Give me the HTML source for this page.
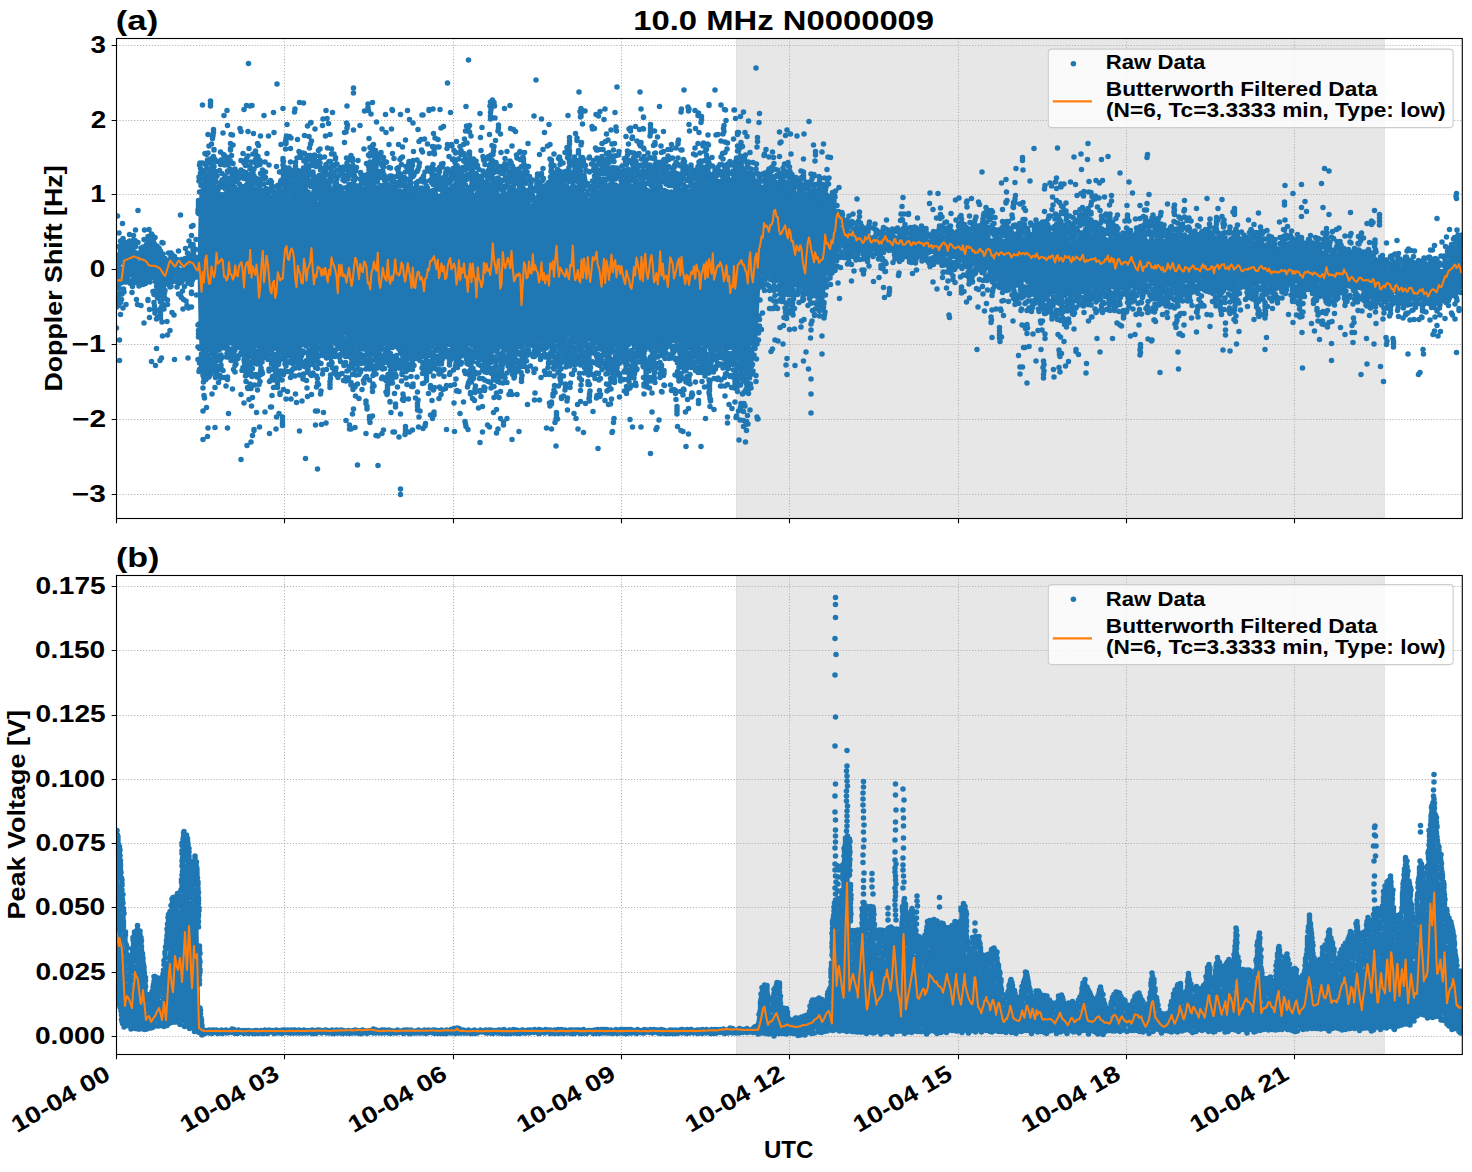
<!DOCTYPE html>
<html><head><meta charset="utf-8"><style>html,body{margin:0;padding:0;background:#fff;width:1472px;height:1172px;overflow:hidden}</style></head>
<body>
<svg width="1472" height="1172" viewBox="0 0 1472 1172" style="display:block">
<rect width="1472" height="1172" fill="#fff"/>
<defs><clipPath id="clipT"><rect x="116.5" y="38.5" width="1345.80" height="480.0"/></clipPath><clipPath id="clipB"><rect x="116.5" y="575.5" width="1345.80" height="479.0"/></clipPath></defs>
<g font-family='"Liberation Sans", sans-serif' font-weight="bold" fill="#000">
<text x="633.17" y="29.80" font-size="28.00" textLength="300.97" lengthAdjust="spacingAndGlyphs" >10.0 MHz N0000009</text>
<text x="115.82" y="30.00" font-size="28.00" textLength="42.38" lengthAdjust="spacingAndGlyphs" >(a)</text>
<text x="115.97" y="567.00" font-size="28.00" textLength="43.47" lengthAdjust="spacingAndGlyphs" >(b)</text>
<rect x="736" y="38.5" width="648.7" height="480.0" fill="#e7e7e7"/><path d="M736.5 38.5V518.5M1384.2 38.5V518.5" stroke="#e0e0e0" stroke-width="1"/>
<path d="M116.50 38.5V518.5M284.50 38.5V518.5M453.50 38.5V518.5M621.50 38.5V518.5M789.50 38.5V518.5M958.50 38.5V518.5M1126.50 38.5V518.5M1294.50 38.5V518.5M116.5 45.50H1462.3M116.5 120.50H1462.3M116.5 194.50H1462.3M116.5 269.50H1462.3M116.5 344.50H1462.3M116.5 419.50H1462.3M116.5 494.50H1462.3" stroke="#b0b0b0" stroke-width="1.11" stroke-dasharray="1.11 1.83" fill="none"/>
<g clip-path="url(#clipT)"><path d="M116 273.5 116.5 273.5 117.5 272.9 118.5 272.2 119.5 271.2 120.5 270.1 121.5 269.2 122.5 265.4 123.5 261.5 124.5 261.1 125.5 261 126.5 261.2 127.5 261.5 128.5 261.9 129.5 262.2 130.5 262.4 131.5 262.5 132.5 262.3 133.5 262 134.5 261.7 135.5 261.7 136.5 261.9 137.5 261.8 138.5 262.2 139.5 262.4 140.5 262.7 141.5 262.5 142.5 262.1 143.5 261.6 144.5 260.9 145.5 259.1 146.5 256.1 147.5 253.1 148.5 250.2 149.5 247.6 150.5 247.3 151.5 249 152.5 250.7 153.5 252 154.5 253.6 155.5 255.2 156.5 256.3 157.5 257.1 158.5 258 159.5 259 160.5 260 161.5 261 162.5 262 163.5 263.1 164.5 263.9 165.5 264.7 166.5 265.3 167.5 265.6 168.5 265.6 169.5 265.4 170.5 265.1 171.5 265.1 172.5 265.3 173.5 265.7 174.5 266.2 175.5 266.9 176.5 267.3 177.5 267.9 178.5 267.9 179.5 268.1 180.5 268 181.5 267.7 182.5 267.3 183.5 266.8 184.5 266.2 185.5 265.8 186.5 265.5 187.5 265.3 188.5 265.1 189.5 265.2 190.5 265.5 191.5 266 192.5 266.2 193.5 266.5 194.5 266.7 195.5 267 196.5 267.3 197.5 267.4 198.5 217.5 199.5 191.3 200.5 190.9 201.5 190.1 202.5 188.9 203.5 187.7 204.5 186.6 205.5 186.1 206.5 185.6 207.5 185.2 208.5 184.6 209.5 184.5 210.5 184.8 211.5 185.4 212.5 186.8 213.5 188.5 214.5 189.9 215.5 191.4 216.5 192.2 217.5 192.8 218.5 192.4 219.5 192 220.5 192 221.5 192.1 222.5 192.8 223.5 193.4 224.5 194.2 225.5 194.3 226.5 194.6 227.5 194.6 228.5 194.5 229.5 194.9 230.5 194.4 231.5 194.5 232.5 194.3 233.5 193.9 234.5 193 235.5 191.6 236.5 189.7 237.5 188 238.5 186.3 239.5 185.1 240.5 184.7 241.5 184.6 242.5 185.3 243.5 186.4 244.5 187.6 245.5 188.8 246.5 189.2 247.5 189.7 248.5 189.8 249.5 190.1 250.5 189.8 251.5 189.5 252.5 189 253.5 188.9 254.5 188.6 255.5 188.2 256.5 188.3 257.5 188.4 258.5 188.8 259.5 189.6 260.5 190.5 261.5 191.3 262.5 191.6 263.5 192.5 264.5 192.8 265.5 193 266.5 193.2 267.5 193 268.5 193 269.5 193.2 270.5 193.5 271.5 194.6 272.5 195.8 273.5 196.4 274.5 197 275.5 197.1 276.5 196.1 277.5 194.8 278.5 192.6 279.5 190.8 280.5 189.7 281.5 189.5 282.5 190.2 283.5 192.2 284.5 194.4 285.5 196.7 286.5 198.3 287.5 199.3 288.5 199.2 289.5 198.3 290.5 196.8 291.5 195.1 292.5 193.3 293.5 191.8 294.5 190.5 295.5 189.8 296.5 188.5 297.5 187.4 298.5 186.8 299.5 186.6 300.5 186.2 301.5 186.5 302.5 186.9 303.5 187 304.5 187.4 305.5 187.8 306.5 188.4 307.5 189.2 308.5 189.6 309.5 190.4 310.5 191.6 311.5 192.2 312.5 192.4 313.5 193.6 314.5 194.4 315.5 196 316.5 198.5 317.5 201.2 318.5 203.5 319.5 205.3 320.5 205.5 321.5 204.9 322.5 202.7 323.5 199.7 324.5 197.3 325.5 194.5 326.5 192.4 327.5 191.2 328.5 190.3 329.5 190 330.5 189.6 331.5 189 332.5 188.1 333.5 187.8 334.5 187.3 335.5 187.2 336.5 187.1 337.5 186.7 338.5 187.9 339.5 188.7 340.5 189.5 341.5 190.4 342.5 190.8 343.5 191.4 344.5 191.4 345.5 190.8 346.5 190 347.5 189.7 348.5 189.1 349.5 189.1 350.5 189.2 351.5 188.7 352.5 189 353.5 189.5 354.5 189 355.5 189.4 356.5 190.3 357.5 191.9 358.5 193.1 359.5 194.3 360.5 195.5 361.5 196.2 362.5 196.2 363.5 195.7 364.5 194.7 365.5 193.3 366.5 191.5 367.5 190 368.5 187.8 369.5 184.9 370.5 182.8 371.5 180.9 372.5 179.5 373.5 179 374.5 180.4 375.5 181.7 376.5 183.8 377.5 186.2 378.5 187.7 379.5 189.6 380.5 190.5 381.5 190.7 382.5 190.9 383.5 190.2 384.5 190.2 385.5 190 386.5 190.2 387.5 190.1 388.5 191.5 389.5 191.9 390.5 192.7 391.5 193.6 392.5 193.7 393.5 193.2 394.5 192.5 395.5 191.4 396.5 190.3 397.5 189.6 398.5 189 399.5 188.3 400.5 188.8 401.5 188.9 402.5 190.2 403.5 191.4 404.5 192.3 405.5 193.1 406.5 194 407.5 194.3 408.5 194.3 409.5 194 410.5 193.7 411.5 193.5 412.5 193.9 413.5 194 414.5 194.1 415.5 194.4 416.5 194.5 417.5 195 418.5 195.6 419.5 196.1 420.5 197.1 421.5 198.1 422.5 199 423.5 199 424.5 198.8 425.5 197.9 426.5 196.6 427.5 195.8 428.5 194.4 429.5 193.3 430.5 193 431.5 192.7 432.5 192.9 433.5 193.1 434.5 193.6 435.5 193.8 436.5 194.2 437.5 194.2 438.5 194 439.5 193.4 440.5 191.9 441.5 191 442.5 190.3 443.5 189.2 444.5 188.4 445.5 187.9 446.5 187.6 447.5 187.3 448.5 187.2 449.5 187.1 450.5 186.9 451.5 186.2 452.5 185.5 453.5 184.7 454.5 183.7 455.5 183.1 456.5 183.4 457.5 184.3 458.5 186 459.5 187.9 460.5 190.1 461.5 191.5 462.5 192.1 463.5 191.8 464.5 191.1 465.5 190.5 466.5 190 467.5 190.2 468.5 191 469.5 192.1 470.5 193.5 471.5 194.5 472.5 195.1 473.5 194.7 474.5 194 475.5 193.1 476.5 192.7 477.5 192.4 478.5 193 479.5 194.1 480.5 195.9 481.5 197.8 482.5 200.1 483.5 201.2 484.5 201.4 485.5 200.7 486.5 198.8 487.5 196.1 488.5 192.7 489.5 189.1 490.5 186 491.5 184 492.5 183.9 493.5 184.6 494.5 186.4 495.5 188.7 496.5 190.9 497.5 192.8 498.5 193.7 499.5 193.9 500.5 193.1 501.5 193 502.5 192.7 503.5 192.9 504.5 192.3 505.5 191.9 506.5 191.6 507.5 191 508.5 190 509.5 189.5 510.5 188.2 511.5 187.5 512.5 187.4 513.5 187.8 514.5 187.9 515.5 188.2 516.5 188.1 517.5 189 518.5 189.3 519.5 189.1 520.5 189.4 521.5 189.8 522.5 190.5 523.5 191.8 524.5 193.7 525.5 195.9 526.5 197.9 527.5 200 528.5 202.1 529.5 203.8 530.5 203.9 531.5 203.9 532.5 203.6 533.5 201.7 534.5 199.7 535.5 196.7 536.5 193.7 537.5 190.3 538.5 187.6 539.5 185.8 540.5 185.3 541.5 185.7 542.5 186.8 543.5 188.8 544.5 190.1 545.5 190.5 546.5 189.9 547.5 188.6 548.5 186.8 549.5 185.2 550.5 183.9 551.5 183 552.5 182.9 553.5 182.7 554.5 183.4 555.5 184.3 556.5 184.5 557.5 185 558.5 185.4 559.5 186 560.5 186.4 561.5 186.6 562.5 186.2 563.5 185.5 564.5 185.4 565.5 185.1 566.5 184.9 567.5 185.3 568.5 185.9 569.5 187.2 570.5 188.4 571.5 189.7 572.5 190.6 573.5 190.9 574.5 191.2 575.5 190.5 576.5 189.4 577.5 187.8 578.5 186.7 579.5 185.6 580.5 185.2 581.5 185.8 582.5 188.3 583.5 191.4 584.5 194.7 585.5 197.8 586.5 199.6 587.5 200.3 588.5 199.5 589.5 197 590.5 193 591.5 188.8 592.5 186 593.5 183.9 594.5 183.2 595.5 183.8 596.5 185.8 597.5 188.5 598.5 191.7 599.5 194.4 600.5 195.6 601.5 196.3 602.5 195.9 603.5 194.4 604.5 192.9 605.5 191.2 606.5 189.5 607.5 188.8 608.5 188.2 609.5 188.5 610.5 188.9 611.5 188.7 612.5 188.4 613.5 187.7 614.5 186.7 615.5 185.8 616.5 185.3 617.5 184.6 618.5 184.3 619.5 185.2 620.5 185.7 621.5 186.2 622.5 186.7 623.5 187.5 624.5 187.9 625.5 188.3 626.5 188.6 627.5 188.6 628.5 188.4 629.5 187.6 630.5 186.6 631.5 185.5 632.5 184.1 633.5 182.7 634.5 182 635.5 181.1 636.5 180.9 637.5 181.4 638.5 181.6 639.5 182.1 640.5 182 641.5 182 642.5 182.4 643.5 182.7 644.5 183.4 645.5 184.2 646.5 185.7 647.5 187.4 648.5 188.5 649.5 189 650.5 189.5 651.5 189.2 652.5 188.6 653.5 187.9 654.5 187.4 655.5 187 656.5 187.6 657.5 188.3 658.5 189.6 659.5 190.5 660.5 191.2 661.5 192.2 662.5 192.5 663.5 192 664.5 191.4 665.5 191.2 666.5 191.4 667.5 191.8 668.5 193.2 669.5 194.5 670.5 195.4 671.5 195.7 672.5 194.6 673.5 192.4 674.5 189.3 675.5 186.4 676.5 184.1 677.5 183 678.5 183.4 679.5 184.7 680.5 186.9 681.5 188.7 682.5 189.5 683.5 190.2 684.5 189.9 685.5 189.5 686.5 189.2 687.5 189.9 688.5 190.8 689.5 192.4 690.5 194 691.5 194.9 692.5 196.1 693.5 195.6 694.5 194.5 695.5 193.1 696.5 191.2 697.5 189.7 698.5 189.1 699.5 188.6 700.5 188.5 701.5 188.9 702.5 189.1 703.5 189.2 704.5 189.1 705.5 188 706.5 187.7 707.5 187.6 708.5 188.2 709.5 189.6 710.5 191.1 711.5 192.4 712.5 193.2 713.5 193.6 714.5 193.2 715.5 191.8 716.5 190.2 717.5 188.5 718.5 188.5 719.5 188.5 720.5 189.1 721.5 190.4 722.5 191.5 723.5 192.8 724.5 193.5 725.5 193.9 726.5 193.8 727.5 193.8 728.5 194.3 729.5 194.7 730.5 195.4 731.5 195.4 732.5 195.7 733.5 195.4 734.5 193.7 735.5 192.1 736.5 190.3 737.5 188.8 738.5 187.4 739.5 185.8 740.5 185 741.5 183.9 742.5 182.8 743.5 181.5 744.5 180.1 745.5 179.5 746.5 179 747.5 179.1 748.5 179.1 749.5 179.7 750.5 179.6 751.5 179.5 752.5 178.9 753.5 177.8 754.5 177.6 755.5 178.3 756.5 179.6 757.5 181.1 758.5 183.1 759.5 185.3 760.5 187.1 761.5 188.2 762.5 189.1 763.5 189.5 764.5 188.8 765.5 187.7 766.5 186.3 767.5 184.6 768.5 183 769.5 181.9 770.5 181 771.5 180.3 772.5 179.9 773.5 180.4 774.5 181.4 775.5 181.9 776.5 182.6 777.5 183.1 778.5 182.9 779.5 182.2 780.5 181.2 781.5 180.5 782.5 180.1 783.5 180.6 784.5 181.9 785.5 184.5 786.5 186.9 787.5 189.5 788.5 191.6 789.5 192.4 790.5 192.1 791.5 191.3 792.5 190.4 793.5 190 794.5 189.5 795.5 190.2 796.5 190.9 797.5 192.2 798.5 193.7 799.5 194.6 800.5 195.2 801.5 195.5 802.5 195.6 803.5 195.5 804.5 195.3 805.5 195.2 806.5 195 807.5 194.7 808.5 193.9 809.5 193.8 810.5 192.6 811.5 192.1 812.5 191.1 813.5 191 814.5 191.7 815.5 192.6 816.5 194.2 817.5 196.3 818.5 197.8 819.5 199.7 820.5 201.1 821.5 202.2 822.5 202.7 823.5 203.5 824.5 203.6 825.5 203.5 826.5 202 827.5 201.4 828.5 200.9 829.5 200.5 830.5 200.2 831.5 200.7 832.5 201.3 833.5 202.5 834.5 203.9 835.5 205.1 836.5 208.5 837.5 213.8 838.5 219.6 839.5 225.3 840.5 228.1 841.5 228.5 842.5 229.2 843.5 230 844.5 230.8 845.5 231.6 846.5 232.1 847.5 232.2 848.5 232 849.5 231.4 850.5 230.9 851.5 230.2 852.5 229.9 853.5 229.7 854.5 229.6 855.5 229.3 856.5 229.1 857.5 229 858.5 228.7 859.5 228.9 860.5 229.3 861.5 230 862.5 231.1 863.5 232.3 864.5 233.4 865.5 234.2 866.5 235 867.5 235.3 868.5 235.6 869.5 235.8 870.5 236 871.5 236.6 872.5 236.7 873.5 237.1 874.5 237.4 875.5 237.6 876.5 237.7 877.5 238 878.5 238.2 879.5 238.1 880.5 238 881.5 237.6 882.5 237.1 883.5 236.5 884.5 235.9 885.5 235.3 886.5 234.9 887.5 234.8 888.5 235.1 889.5 235.4 890.5 235.8 891.5 236.4 892.5 237.1 893.5 237.5 894.5 237.8 895.5 237.9 896.5 237.7 897.5 237.2 898.5 236.7 899.5 236.1 900.5 235.6 901.5 235.4 902.5 235.3 903.5 235.5 904.5 235.9 905.5 236.3 906.5 236.8 907.5 237.1 908.5 237.2 909.5 237.1 910.5 237 911.5 236.7 912.5 236.5 913.5 236.2 914.5 236.1 915.5 236.1 916.5 236.3 917.5 236.5 918.5 236.9 919.5 237.1 920.5 237.4 921.5 237.8 922.5 238 923.5 238.2 924.5 238.3 925.5 238.4 926.5 238.9 927.5 239.3 928.5 239.7 929.5 240.1 930.5 240.6 931.5 240.9 932.5 241.1 933.5 240.9 934.5 240.4 935.5 239.8 936.5 238.9 937.5 237.8 938.5 236.7 939.5 235.7 940.5 235.2 941.5 234.8 942.5 234.8 943.5 235.1 944.5 235.8 945.5 236.5 946.5 236.9 947.5 237.2 948.5 237.2 949.5 237 950.5 236.8 951.5 236.8 952.5 236.8 953.5 236.9 954.5 237.1 955.5 237.1 956.5 236.9 957.5 236.5 958.5 236 959.5 235.4 960.5 234.8 961.5 234.5 962.5 234.4 963.5 234.4 964.5 234.3 965.5 234.1 966.5 234 967.5 234 968.5 234 969.5 234 970.5 234.1 971.5 234.3 972.5 234.6 973.5 235.1 974.5 235.1 975.5 235.2 976.5 235.1 977.5 234.9 978.5 234.6 979.5 233.9 980.5 233 981.5 232.4 982.5 231.9 983.5 232 984.5 232.8 985.5 233.6 986.5 234.5 987.5 235.8 988.5 236.8 989.5 237.7 990.5 238.3 991.5 238.4 992.5 238.4 993.5 238.8 994.5 238.9 995.5 239 996.5 239.1 997.5 239.1 998.5 239.6 999.5 240.1 1000.5 240.3 1001.5 240.6 1002.5 240.7 1003.5 240.4 1004.5 240 1005.5 239 1006.5 237.7 1007.5 236.7 1008.5 235.8 1009.5 235.1 1010.5 234.4 1011.5 234.2 1012.5 234.2 1013.5 234.7 1014.5 234.9 1015.5 235.2 1016.5 235.9 1017.5 236.8 1018.5 237.6 1019.5 238.3 1020.5 238.6 1021.5 238.8 1022.5 238.6 1023.5 238.4 1024.5 238 1025.5 237.2 1026.5 236.4 1027.5 235.8 1028.5 235.3 1029.5 234.5 1030.5 233.6 1031.5 233.1 1032.5 232.9 1033.5 232.6 1034.5 232.6 1035.5 233.4 1036.5 233.9 1037.5 234.1 1038.5 234.6 1039.5 234.2 1040.5 233.4 1041.5 232.2 1042.5 231.3 1043.5 230.4 1044.5 229.7 1045.5 229.7 1046.5 230.4 1047.5 231.2 1048.5 232.2 1049.5 233.3 1050.5 234.2 1051.5 234.5 1052.5 234.7 1053.5 234.5 1054.5 233.7 1055.5 232.9 1056.5 232.1 1057.5 232 1058.5 232 1059.5 232.7 1060.5 233.7 1061.5 234.7 1062.5 236.2 1063.5 237.6 1064.5 238.7 1065.5 239.7 1066.5 240.4 1067.5 241 1068.5 241.3 1069.5 241.9 1070.5 241.7 1071.5 241.9 1072.5 241.7 1073.5 241.2 1074.5 240.7 1075.5 239.7 1076.5 238.8 1077.5 237.6 1078.5 236.2 1079.5 234.8 1080.5 233.5 1081.5 232 1082.5 230.2 1083.5 229 1084.5 227.6 1085.5 227 1086.5 226.9 1087.5 227.5 1088.5 228.8 1089.5 230.1 1090.5 231.9 1091.5 233.4 1092.5 234.6 1093.5 235.4 1094.5 236.3 1095.5 236.6 1096.5 236.5 1097.5 236.1 1098.5 235.2 1099.5 234.1 1100.5 233.2 1101.5 232.5 1102.5 232.4 1103.5 232.7 1104.5 234.1 1105.5 236 1106.5 237.8 1107.5 239.2 1108.5 240.6 1109.5 241.2 1110.5 241.6 1111.5 241.6 1112.5 241.6 1113.5 241.2 1114.5 241.4 1115.5 241.8 1116.5 242.4 1117.5 242.5 1118.5 243.1 1119.5 243.6 1120.5 243.7 1121.5 243.5 1122.5 242.9 1123.5 242.1 1124.5 241.1 1125.5 239.7 1126.5 238.7 1127.5 238.1 1128.5 238.3 1129.5 238.7 1130.5 239.9 1131.5 241.1 1132.5 242.4 1133.5 243.2 1134.5 243.3 1135.5 242.4 1136.5 241 1137.5 239.4 1138.5 237.8 1139.5 236.8 1140.5 235.7 1141.5 235.2 1142.5 235.4 1143.5 235.9 1144.5 236.6 1145.5 236.9 1146.5 237.8 1147.5 238.5 1148.5 239.6 1149.5 240.5 1150.5 241.3 1151.5 241.5 1152.5 241.5 1153.5 241.7 1154.5 241.5 1155.5 241.2 1156.5 241.1 1157.5 241 1158.5 241.1 1159.5 240.8 1160.5 240.4 1161.5 240.1 1162.5 239.5 1163.5 239 1164.5 239 1165.5 238.3 1166.5 238.2 1167.5 237.9 1168.5 237.2 1169.5 236.1 1170.5 234.7 1171.5 233.7 1172.5 232.7 1173.5 232.1 1174.5 232 1175.5 232.7 1176.5 233.8 1177.5 234.7 1178.5 236.2 1179.5 236.7 1180.5 237.1 1181.5 236.9 1182.5 236.8 1183.5 236.7 1184.5 236.2 1185.5 236.3 1186.5 236.6 1187.5 237.4 1188.5 238.3 1189.5 239.2 1190.5 240.2 1191.5 240.9 1192.5 241.6 1193.5 242.2 1194.5 242.3 1195.5 241.9 1196.5 241.4 1197.5 240.7 1198.5 240.2 1199.5 239.7 1200.5 239.3 1201.5 239 1202.5 239.1 1203.5 239 1204.5 238.9 1205.5 238.3 1206.5 238.2 1207.5 238.1 1208.5 238.3 1209.5 238.3 1210.5 238.8 1211.5 239.1 1212.5 239.3 1213.5 239.7 1214.5 239.9 1215.5 239.7 1216.5 239.9 1217.5 240.2 1218.5 241.1 1219.5 241.6 1220.5 242.7 1221.5 243.5 1222.5 244.4 1223.5 245.1 1224.5 246 1225.5 246.6 1226.5 247 1227.5 247.2 1228.5 247.5 1229.5 247.2 1230.5 246.8 1231.5 245.9 1232.5 244.9 1233.5 243.7 1234.5 242.8 1235.5 242.1 1236.5 241.8 1237.5 242 1238.5 242.5 1239.5 243.5 1240.5 244.8 1241.5 245.4 1242.5 246.1 1243.5 246.4 1244.5 246.4 1245.5 246.3 1246.5 246 1247.5 245.7 1248.5 245.5 1249.5 245.2 1250.5 244.9 1251.5 244.4 1252.5 243.9 1253.5 243 1254.5 242.2 1255.5 241 1256.5 240 1257.5 239.1 1258.5 238.5 1259.5 238.2 1260.5 238.2 1261.5 239 1262.5 240.4 1263.5 242.2 1264.5 243.9 1265.5 245.5 1266.5 246.5 1267.5 246.7 1268.5 246.4 1269.5 245.9 1270.5 245.6 1271.5 245.4 1272.5 246 1273.5 247.3 1274.5 248.7 1275.5 250.2 1276.5 251.3 1277.5 252 1278.5 251.5 1279.5 250.9 1280.5 249.6 1281.5 248 1282.5 246.2 1283.5 244.5 1284.5 243.2 1285.5 242.4 1286.5 242.1 1287.5 242.1 1288.5 242.6 1289.5 243.6 1290.5 244.4 1291.5 245.1 1292.5 245.5 1293.5 245.6 1294.5 245.4 1295.5 245.2 1296.5 245 1297.5 244.8 1298.5 244.3 1299.5 244.1 1300.5 244.1 1301.5 244.3 1302.5 244.6 1303.5 245.5 1304.5 246.6 1305.5 247.7 1306.5 249.1 1307.5 250.2 1308.5 251.1 1309.5 251.6 1310.5 251.7 1311.5 251.6 1312.5 250.9 1313.5 250.6 1314.5 250 1315.5 249.4 1316.5 248.8 1317.5 248.6 1318.5 248.7 1319.5 249 1320.5 249.4 1321.5 250.1 1322.5 250.8 1323.5 251.9 1324.5 252.6 1325.5 253.4 1326.5 253.7 1327.5 254.4 1328.5 254.7 1329.5 255 1330.5 255.2 1331.5 255.4 1332.5 255.5 1333.5 256 1334.5 256.3 1335.5 256.6 1336.5 256.7 1337.5 257.6 1338.5 257.8 1339.5 258.2 1340.5 258.8 1341.5 259.2 1342.5 259.9 1343.5 260.7 1344.5 261.4 1345.5 261.8 1346.5 261.8 1347.5 261.6 1348.5 261 1349.5 259.8 1350.5 258.3 1351.5 257.1 1352.5 255.9 1353.5 254.9 1354.5 254.6 1355.5 254.7 1356.5 254.7 1357.5 255.3 1358.5 256.2 1359.5 256.8 1360.5 257.8 1361.5 258.7 1362.5 259.6 1363.5 260.4 1364.5 261.3 1365.5 261.9 1366.5 262.5 1367.5 262.7 1368.5 262.7 1369.5 262.7 1370.5 262.4 1371.5 261.9 1372.5 261.4 1373.5 260.9 1374.5 260.7 1375.5 261 1376.5 261.3 1377.5 261.9 1378.5 263 1379.5 264 1380.5 265.1 1381.5 265.9 1382.5 266.7 1383.5 267.3 1384.5 267.9 1385.5 268.2 1386.5 268.3 1387.5 268.2 1388.5 267.9 1389.5 267.4 1390.5 266.5 1391.5 265.7 1392.5 264.8 1393.5 263.5 1394.5 262.5 1395.5 261.9 1396.5 261.6 1397.5 261.9 1398.5 262.7 1399.5 264 1400.5 265.5 1401.5 267 1402.5 268.2 1403.5 268.9 1404.5 268.9 1405.5 269 1406.5 268.8 1407.5 268.3 1408.5 267.9 1409.5 267.7 1410.5 267.4 1411.5 267.1 1412.5 267.1 1413.5 267 1414.5 267.2 1415.5 267.6 1416.5 268.4 1417.5 269.3 1418.5 270.1 1419.5 270.7 1420.5 271 1421.5 270.8 1422.5 270.3 1423.5 269.3 1424.5 268.2 1425.5 267.2 1426.5 266.5 1427.5 266.5 1428.5 266.8 1429.5 267.1 1430.5 267.5 1431.5 267.8 1432.5 267.7 1433.5 267.4 1434.5 267.1 1435.5 267.1 1436.5 267.3 1437.5 268.2 1438.5 269.4 1439.5 270.8 1440.5 271.3 1441.5 270.5 1442.5 269.4 1443.5 267.6 1444.5 265.4 1445.5 263.2 1446.5 261 1447.5 259.2 1448.5 258 1449.5 256.9 1450.5 255.5 1451.5 254.5 1452.5 252.8 1453.5 250.8 1454.5 248.3 1455.5 246.2 1456.5 245 1457.5 244.2 1458.5 243.7 1459.5 243.3 1460.5 243.3 1461.5 243.5 1462 243.5 1462 285.6 1461.5 285.6 1460.5 286.5 1459.5 287 1458.5 287.8 1457.5 288.6 1456.5 289.4 1455.5 290 1454.5 290.8 1453.5 292 1452.5 292.7 1451.5 293.1 1450.5 293.4 1449.5 293.8 1448.5 294 1447.5 294.3 1446.5 294.8 1445.5 295.1 1444.5 295.4 1443.5 296 1442.5 296.9 1441.5 297.9 1440.5 299 1439.5 299.8 1438.5 300.1 1437.5 300.3 1436.5 300.5 1435.5 300.3 1434.5 299.9 1433.5 299.2 1432.5 298.4 1431.5 297.3 1430.5 296.3 1429.5 295.5 1428.5 294.8 1427.5 294.7 1426.5 295 1425.5 295.5 1424.5 296.3 1423.5 296.9 1422.5 297.5 1421.5 297.5 1420.5 297.6 1419.5 297.2 1418.5 296.7 1417.5 296.2 1416.5 295.8 1415.5 295.8 1414.5 295.6 1413.5 295.8 1412.5 296.1 1411.5 296.5 1410.5 297.1 1409.5 297.6 1408.5 298.1 1407.5 298.6 1406.5 299 1405.5 299.2 1404.5 299 1403.5 298.5 1402.5 297.5 1401.5 296.4 1400.5 294.9 1399.5 293.7 1398.5 292.8 1397.5 292.4 1396.5 292.3 1395.5 293 1394.5 293.8 1393.5 294.9 1392.5 296.3 1391.5 297.3 1390.5 298.2 1389.5 298.9 1388.5 299.4 1387.5 299.6 1386.5 299.4 1385.5 298.9 1384.5 298.4 1383.5 297.8 1382.5 297 1381.5 296.8 1380.5 296.6 1379.5 296.6 1378.5 296.9 1377.5 297.4 1376.5 297.8 1375.5 298.2 1374.5 298.3 1373.5 298.4 1372.5 298.1 1371.5 297.5 1370.5 296.9 1369.5 296 1368.5 295 1367.5 294.5 1366.5 294 1365.5 293.4 1364.5 292.9 1363.5 292.5 1362.5 292.1 1361.5 291.4 1360.5 290.4 1359.5 289.4 1358.5 288.3 1357.5 287.5 1356.5 287.1 1355.5 286.9 1354.5 286.9 1353.5 286.9 1352.5 287.5 1351.5 287.8 1350.5 287.9 1349.5 287.9 1348.5 288.2 1347.5 288.3 1346.5 288.4 1345.5 288.8 1344.5 288.8 1343.5 288.5 1342.5 288.4 1341.5 288.2 1340.5 288 1339.5 287.8 1338.5 288.1 1337.5 288.8 1336.5 289.8 1335.5 290.7 1334.5 291.8 1333.5 292.5 1332.5 293.3 1331.5 293.7 1330.5 293.7 1329.5 293.2 1328.5 292.4 1327.5 291.5 1326.5 290.3 1325.5 289.1 1324.5 287.8 1323.5 286.9 1322.5 286.1 1321.5 285.6 1320.5 285.3 1319.5 284.6 1318.5 284.1 1317.5 283.7 1316.5 283.4 1315.5 283.2 1314.5 282.9 1313.5 282.9 1312.5 282.8 1311.5 282.8 1310.5 282.8 1309.5 282.5 1308.5 282 1307.5 282.2 1306.5 282.5 1305.5 282.9 1304.5 283 1303.5 283.3 1302.5 283.9 1301.5 284.3 1300.5 284.4 1299.5 284.6 1298.5 284.5 1297.5 284.2 1296.5 283.8 1295.5 283.3 1294.5 282.4 1293.5 281.8 1292.5 281.5 1291.5 281.6 1290.5 281.8 1289.5 281.8 1288.5 282.2 1287.5 282.1 1286.5 282.3 1285.5 282.3 1284.5 282.5 1283.5 283.2 1282.5 284 1281.5 284.9 1280.5 285.9 1279.5 287 1278.5 287.8 1277.5 288 1276.5 288.3 1275.5 287.8 1274.5 287.3 1273.5 286 1272.5 284.7 1271.5 283.2 1270.5 282 1269.5 281.2 1268.5 281.2 1267.5 281.4 1266.5 281.4 1265.5 282.1 1264.5 283 1263.5 283.3 1262.5 283.6 1261.5 283.6 1260.5 283.6 1259.5 283.8 1258.5 283.8 1257.5 283.6 1256.5 283.5 1255.5 283.4 1254.5 283.8 1253.5 284.3 1252.5 284.3 1251.5 284.4 1250.5 284.5 1249.5 284.3 1248.5 283.8 1247.5 283 1246.5 282.2 1245.5 281.3 1244.5 280.5 1243.5 279.9 1242.5 279.5 1241.5 279.3 1240.5 279.7 1239.5 280.7 1238.5 281.5 1237.5 282.8 1236.5 283.8 1235.5 284.9 1234.5 285.6 1233.5 285.9 1232.5 285.8 1231.5 285.3 1230.5 284.6 1229.5 284.4 1228.5 284.2 1227.5 283.8 1226.5 283.8 1225.5 284.3 1224.5 284.6 1223.5 285.3 1222.5 285.5 1221.5 285.4 1220.5 285.1 1219.5 284.8 1218.5 284.5 1217.5 284.3 1216.5 283.9 1215.5 284 1214.5 284.2 1213.5 284.5 1212.5 284.9 1211.5 285 1210.5 285 1209.5 284.7 1208.5 284.4 1207.5 283.5 1206.5 282.3 1205.5 281 1204.5 279.7 1203.5 278.7 1202.5 278 1201.5 278 1200.5 278.1 1199.5 278.9 1198.5 280.3 1197.5 281.2 1196.5 282.2 1195.5 283 1194.5 283.6 1193.5 283.8 1192.5 283.8 1191.5 283.6 1190.5 283.4 1189.5 283 1188.5 282.7 1187.5 282.6 1186.5 282.5 1185.5 282.4 1184.5 283 1183.5 283.6 1182.5 283.9 1181.5 284.5 1180.5 284.8 1179.5 285 1178.5 285.2 1177.5 284.9 1176.5 285 1175.5 285 1174.5 285.5 1173.5 285.8 1172.5 286.5 1171.5 286.8 1170.5 286.9 1169.5 287.4 1168.5 287.5 1167.5 287.3 1166.5 287.1 1165.5 287.2 1164.5 287.2 1163.5 287.4 1162.5 287.9 1161.5 288.3 1160.5 288.7 1159.5 289.1 1158.5 289.4 1157.5 289.4 1156.5 288.9 1155.5 288.2 1154.5 287.3 1153.5 286 1152.5 284.8 1151.5 283.8 1150.5 282.3 1149.5 281.1 1148.5 279.9 1147.5 279.3 1146.5 279 1145.5 279 1144.5 279.5 1143.5 280.2 1142.5 281.4 1141.5 282.6 1140.5 283.7 1139.5 284.3 1138.5 284.5 1137.5 284.8 1136.5 284.7 1135.5 284.5 1134.5 283.9 1133.5 283.7 1132.5 284 1131.5 284.4 1130.5 285.4 1129.5 286.4 1128.5 287.7 1127.5 289.1 1126.5 289.9 1125.5 289.9 1124.5 289.2 1123.5 288.5 1122.5 287.4 1121.5 286.7 1120.5 285.7 1119.5 285.1 1118.5 284.8 1117.5 284.8 1116.5 284.2 1115.5 283.6 1114.5 282.7 1113.5 282.2 1112.5 282.3 1111.5 282.4 1110.5 283.1 1109.5 284.4 1108.5 285.8 1107.5 287.4 1106.5 288.8 1105.5 289.7 1104.5 290.1 1103.5 290.7 1102.5 290.1 1101.5 289.3 1100.5 288.4 1099.5 287.3 1098.5 286.8 1097.5 286.1 1096.5 286 1095.5 286.3 1094.5 287.1 1093.5 287.9 1092.5 288.9 1091.5 289.5 1090.5 289.6 1089.5 290.1 1088.5 289.9 1087.5 289.5 1086.5 289 1085.5 288.4 1084.5 288 1083.5 287.9 1082.5 287.9 1081.5 288.4 1080.5 289 1079.5 289.7 1078.5 290.7 1077.5 291.6 1076.5 292.1 1075.5 292.2 1074.5 292 1073.5 291.3 1072.5 290.6 1071.5 290.1 1070.5 289.7 1069.5 290.2 1068.5 290.8 1067.5 292.1 1066.5 293.2 1065.5 294.1 1064.5 294.9 1063.5 295.7 1062.5 296.4 1061.5 297 1060.5 297.6 1059.5 298.1 1058.5 298.7 1057.5 298.3 1056.5 297.2 1055.5 295.9 1054.5 294.2 1053.5 292.9 1052.5 291.9 1051.5 291.3 1050.5 290.9 1049.5 290.9 1048.5 291.3 1047.5 291.7 1046.5 292 1045.5 292.3 1044.5 293.3 1043.5 294 1042.5 294.4 1041.5 294.2 1040.5 293.9 1039.5 293 1038.5 291.4 1037.5 289.9 1036.5 288.5 1035.5 287.1 1034.5 286.2 1033.5 285.6 1032.5 285 1031.5 284.5 1030.5 284 1029.5 283.5 1028.5 283.1 1027.5 282.5 1026.5 282.2 1025.5 282.4 1024.5 282.1 1023.5 282.4 1022.5 283 1021.5 283 1020.5 283.6 1019.5 284.1 1018.5 284.6 1017.5 285.3 1016.5 285.4 1015.5 285.3 1014.5 285.1 1013.5 284.5 1012.5 283.3 1011.5 282.4 1010.5 281 1009.5 280.2 1008.5 279.7 1007.5 279.4 1006.5 279.3 1005.5 279.2 1004.5 279 1003.5 279.1 1002.5 278.8 1001.5 277.9 1000.5 277.4 999.5 277.1 998.5 276.9 997.5 277.3 996.5 277.4 995.5 277.6 994.5 277.4 993.5 277.1 992.5 276.1 991.5 275 990.5 273.4 989.5 272 988.5 270.9 987.5 269.8 986.5 268.8 985.5 268 984.5 267.5 983.5 267.3 982.5 267 981.5 266.9 980.5 266.9 979.5 267.1 978.5 266.9 977.5 266.8 976.5 266.4 975.5 265.9 974.5 265.3 973.5 265.2 972.5 264.9 971.5 264.5 970.5 264.2 969.5 263.9 968.5 263.3 967.5 262.7 966.5 262.2 965.5 261.6 964.5 261.3 963.5 260.9 962.5 260.8 961.5 260.5 960.5 260.4 959.5 260.2 958.5 260 957.5 259.6 956.5 259.3 955.5 259.1 954.5 259 953.5 258.8 952.5 258.6 951.5 258 950.5 257.6 949.5 257.1 948.5 256.5 947.5 256 946.5 255.5 945.5 255.1 944.5 254.6 943.5 254.3 942.5 253.6 941.5 253 940.5 252.5 939.5 252.1 938.5 252.1 937.5 252 936.5 252.3 935.5 252.8 934.5 252.9 933.5 253.4 932.5 253.7 931.5 254.1 930.5 254 929.5 254.1 928.5 253.9 927.5 253.7 926.5 253.6 925.5 253.3 924.5 253.1 923.5 252.6 922.5 252.4 921.5 252.3 920.5 251.9 919.5 251.9 918.5 252 917.5 252.4 916.5 252.9 915.5 253.2 914.5 253.4 913.5 253.4 912.5 253.1 911.5 252.7 910.5 252.2 909.5 251.7 908.5 251.3 907.5 251 906.5 250.9 905.5 250.9 904.5 250.7 903.5 250.5 902.5 250.3 901.5 250 900.5 249.9 899.5 249.9 898.5 250.1 897.5 250.3 896.5 250.4 895.5 250.6 894.5 250.7 893.5 250.5 892.5 250.3 891.5 250.2 890.5 250.1 889.5 250.3 888.5 250.6 887.5 251 886.5 251.4 885.5 251.9 884.5 252.2 883.5 252.5 882.5 252.6 881.5 252.5 880.5 252.3 879.5 252.1 878.5 251.9 877.5 251.6 876.5 251.4 875.5 251.2 874.5 250.9 873.5 250.5 872.5 249.9 871.5 249.1 870.5 248.3 869.5 247.8 868.5 247.5 867.5 247.5 866.5 247.6 865.5 247.7 864.5 248 863.5 248.5 862.5 248.7 861.5 248.9 860.5 249.1 859.5 249 858.5 249 857.5 248.9 856.5 248.6 855.5 248.2 854.5 247.8 853.5 247.5 852.5 247.3 851.5 247.1 850.5 247 849.5 247.2 848.5 247.4 847.5 247.9 846.5 248.3 845.5 248.6 844.5 248.7 843.5 248.8 842.5 248.6 841.5 247.8 840.5 246.8 839.5 248.3 838.5 252.1 837.5 255.4 836.5 258.9 835.5 261.1 834.5 262 833.5 263.8 832.5 265.8 831.5 267.8 830.5 269.5 829.5 270.8 828.5 272 827.5 272.8 826.5 278.4 825.5 289.2 824.5 299.2 823.5 304 822.5 303.3 821.5 301.6 820.5 299.4 819.5 296.8 818.5 294.6 817.5 293.2 816.5 292.7 815.5 293.3 814.5 294.1 813.5 294.7 812.5 294.8 811.5 294.6 810.5 292.9 809.5 290.4 808.5 288.2 807.5 286 806.5 284.4 805.5 283.5 804.5 283.7 803.5 284.6 802.5 285.4 801.5 286.5 800.5 287.2 799.5 287.4 798.5 286.8 797.5 285.5 796.5 283.9 795.5 281.7 794.5 279.8 793.5 279.1 792.5 279 791.5 280.1 790.5 282.1 789.5 284.9 788.5 287.8 787.5 289.8 786.5 290.6 785.5 290.5 784.5 290.1 783.5 289.1 782.5 287.6 781.5 286.3 780.5 285.1 779.5 284 778.5 282.6 777.5 280.6 776.5 279.3 775.5 277.5 774.5 276.6 773.5 275.9 772.5 275.3 771.5 274.5 770.5 273.9 769.5 273.9 768.5 273.1 767.5 272.5 766.5 272.3 765.5 272 764.5 272.2 763.5 272.4 762.5 272.9 761.5 273.2 760.5 282.3 759.5 300.2 758.5 317.9 757.5 335.2 756.5 343.4 755.5 342.6 754.5 341.9 753.5 342.1 752.5 343 751.5 344.3 750.5 346.2 749.5 348.9 748.5 351.5 747.5 354.2 746.5 356.2 745.5 357.9 744.5 358.7 743.5 358.7 742.5 358.5 741.5 357.9 740.5 357.1 739.5 356.2 738.5 355.2 737.5 354 736.5 352.1 735.5 350.3 734.5 348.7 733.5 347.5 732.5 346.8 731.5 347.1 730.5 348.2 729.5 348.5 728.5 348.9 727.5 349.2 726.5 348.8 725.5 347.9 724.5 347 723.5 346.7 722.5 346.7 721.5 347.1 720.5 348.2 719.5 349.1 718.5 349.9 717.5 350.7 716.5 352.1 715.5 353.3 714.5 353.5 713.5 354.6 712.5 355.1 711.5 355.2 710.5 354.6 709.5 353.6 708.5 351.5 707.5 349.2 706.5 347.3 705.5 345.7 704.5 344.8 703.5 344.4 702.5 344.6 701.5 345.9 700.5 346.5 699.5 347.2 698.5 347.7 697.5 347.8 696.5 347.6 695.5 348 694.5 348.2 693.5 348 692.5 349 691.5 349.6 690.5 350 689.5 350.2 688.5 350 687.5 350 686.5 350 685.5 349.7 684.5 348.9 683.5 347.8 682.5 347.4 681.5 346.6 680.5 345.5 679.5 344.2 678.5 343.1 677.5 342.5 676.5 341.8 675.5 341.3 674.5 340 673.5 338.8 672.5 337.5 671.5 336.9 670.5 336.3 669.5 336.3 668.5 337.9 667.5 340.4 666.5 342.9 665.5 346 664.5 347.9 663.5 348.9 662.5 348.3 661.5 346.7 660.5 344.7 659.5 343.2 658.5 342.4 657.5 342.7 656.5 343.8 655.5 345.7 654.5 347.6 653.5 349 652.5 349.8 651.5 350.1 650.5 349.5 649.5 348.6 648.5 347.6 647.5 346.3 646.5 345.4 645.5 344.7 644.5 344.3 643.5 344.1 642.5 343.9 641.5 343.8 640.5 343.3 639.5 343.2 638.5 343.2 637.5 343.1 636.5 342.9 635.5 342.8 634.5 342.7 633.5 342.9 632.5 342.9 631.5 343.4 630.5 343.8 629.5 344.8 628.5 346 627.5 347.1 626.5 346.8 625.5 346.4 624.5 345.8 623.5 344.3 622.5 343.3 621.5 342.4 620.5 342.3 619.5 342.7 618.5 343.4 617.5 344.2 616.5 344.9 615.5 345.6 614.5 346.5 613.5 347.2 612.5 347.7 611.5 348.4 610.5 349 609.5 349.5 608.5 350 607.5 350 606.5 350.1 605.5 349.9 604.5 350 603.5 349.5 602.5 349.1 601.5 348.4 600.5 347.8 599.5 346.3 598.5 344.8 597.5 343.4 596.5 341.5 595.5 340.3 594.5 339 593.5 338.4 592.5 338.4 591.5 338.6 590.5 339.8 589.5 340.8 588.5 342.1 587.5 343.7 586.5 345.3 585.5 347 584.5 348 583.5 348.8 582.5 349.2 581.5 349.1 580.5 348.3 579.5 347.5 578.5 346.4 577.5 344.9 576.5 343.8 575.5 342.6 574.5 341 573.5 339.5 572.5 337.7 571.5 336.7 570.5 336 569.5 336.1 568.5 337.1 567.5 339.2 566.5 341.4 565.5 343.8 564.5 345.7 563.5 346.1 562.5 345.3 561.5 343.7 560.5 341.2 559.5 338.5 558.5 336.5 557.5 335 556.5 335.3 555.5 336.6 554.5 338.6 553.5 341.3 552.5 343.4 551.5 345 550.5 345.7 549.5 345.8 548.5 344.9 547.5 344.4 546.5 344 545.5 343.4 544.5 343.3 543.5 342.7 542.5 342.5 541.5 342.2 540.5 341.5 539.5 340.7 538.5 339.6 537.5 338.8 536.5 338 535.5 337.6 534.5 336.6 533.5 335.9 532.5 335.4 531.5 335.3 530.5 335.4 529.5 335.9 528.5 336.6 527.5 338.3 526.5 340.1 525.5 342.3 524.5 345.1 523.5 347 522.5 348.5 521.5 349 520.5 349.1 519.5 348.4 518.5 347.5 517.5 347 516.5 347 515.5 348.2 514.5 350 513.5 352.8 512.5 355.4 511.5 356.3 510.5 356.7 509.5 355.8 508.5 353.2 507.5 350 506.5 346.5 505.5 343.6 504.5 341.9 503.5 341.3 502.5 341.7 501.5 343.4 500.5 344.9 499.5 346.4 498.5 347.7 497.5 348.6 496.5 348.9 495.5 349.4 494.5 348.9 493.5 348.3 492.5 347.6 491.5 346.3 490.5 344.8 489.5 343.2 488.5 341.4 487.5 341.1 486.5 341.5 485.5 342.8 484.5 344.1 483.5 346.2 482.5 348 481.5 349.5 480.5 350.4 479.5 350.2 478.5 350 477.5 349.4 476.5 349 475.5 348.6 474.5 348.1 473.5 348 472.5 347.7 471.5 347.9 470.5 346.9 469.5 346.3 468.5 345.4 467.5 344.1 466.5 343 465.5 342.6 464.5 342.9 463.5 343.4 462.5 344.7 461.5 346.6 460.5 348.5 459.5 350.3 458.5 351.5 457.5 352.8 456.5 353.1 455.5 352.7 454.5 352.1 453.5 351.5 452.5 350.1 451.5 348.7 450.5 347.9 449.5 346.9 448.5 346.2 447.5 345.8 446.5 345.7 445.5 345.6 444.5 345.5 443.5 345.8 442.5 345.8 441.5 346 440.5 345.4 439.5 345.1 438.5 345 437.5 344.1 436.5 343.9 435.5 344 434.5 344.9 433.5 346.1 432.5 348.2 431.5 350.1 430.5 351.4 429.5 352.4 428.5 352.1 427.5 351.3 426.5 349.8 425.5 348 424.5 346.4 423.5 345.1 422.5 344.6 421.5 344.3 420.5 343.9 419.5 343.1 418.5 343.1 417.5 342.9 416.5 342.5 415.5 343 414.5 343.7 413.5 344.7 412.5 346.2 411.5 347.4 410.5 348 409.5 348 408.5 348.1 407.5 348.9 406.5 349.4 405.5 350.4 404.5 351.9 403.5 354.1 402.5 355.2 401.5 356 400.5 355.7 399.5 354.7 398.5 353 397.5 350.8 396.5 349.7 395.5 349 394.5 348.3 393.5 348.3 392.5 348.2 391.5 348.3 390.5 347.6 389.5 346.7 388.5 345.6 387.5 344.9 386.5 344.2 385.5 344.6 384.5 345.2 383.5 346 382.5 347.8 381.5 349.5 380.5 351.2 379.5 351.9 378.5 352.1 377.5 352.3 376.5 351.6 375.5 350 374.5 348.5 373.5 348.1 372.5 347.5 371.5 347.9 370.5 348.8 369.5 349.3 368.5 350.3 367.5 350.2 366.5 349.8 365.5 348.8 364.5 347.3 363.5 346.2 362.5 345.7 361.5 345.2 360.5 344.3 359.5 344.5 358.5 344 357.5 343.1 356.5 342.7 355.5 342.9 354.5 343.6 353.5 344.4 352.5 344.7 351.5 345.6 350.5 346.2 349.5 345 348.5 343.3 347.5 341.3 346.5 338.6 345.5 336.5 344.5 335.2 343.5 334.7 342.5 334.9 341.5 336.3 340.5 338.2 339.5 340.9 338.5 342.7 337.5 344.1 336.5 345.4 335.5 345.9 334.5 345.2 333.5 344.7 332.5 344 331.5 342.8 330.5 341.9 329.5 341 328.5 340.6 327.5 340.3 326.5 339.5 325.5 339.3 324.5 339.4 323.5 339.4 322.5 339.6 321.5 340.7 320.5 340.9 319.5 341.3 318.5 342 317.5 341.8 316.5 342 315.5 341.3 314.5 341.4 313.5 342 312.5 342.6 311.5 343.6 310.5 344.5 309.5 344.8 308.5 344.6 307.5 344.6 306.5 344.1 305.5 343.7 304.5 343.7 303.5 344.2 302.5 345.2 301.5 345.7 300.5 346.4 299.5 347.1 298.5 347.5 297.5 347.1 296.5 346.8 295.5 346.2 294.5 345.2 293.5 343.2 292.5 340.9 291.5 338.8 290.5 337 289.5 335.7 288.5 335.5 287.5 335.2 286.5 335.4 285.5 336.4 284.5 338.2 283.5 339.9 282.5 341.7 281.5 343.8 280.5 346.4 279.5 348.4 278.5 349.8 277.5 350.6 276.5 350.7 275.5 350.5 274.5 351.1 273.5 351.6 272.5 351.9 271.5 351.6 270.5 350.9 269.5 349.7 268.5 347.4 267.5 345.2 266.5 342.7 265.5 341.2 264.5 340.9 263.5 341.9 262.5 343.3 261.5 344.9 260.5 346.3 259.5 346.8 258.5 347 257.5 346.3 256.5 345.7 255.5 345.7 254.5 346.5 253.5 348.7 252.5 351.7 251.5 355 250.5 358.1 249.5 361 248.5 362.2 247.5 362.7 246.5 361.4 245.5 358.7 244.5 355.3 243.5 351.8 242.5 348.1 241.5 344.5 240.5 342.2 239.5 340.8 238.5 341.2 237.5 342.4 236.5 343.4 235.5 345.2 234.5 346 233.5 346.7 232.5 346.5 231.5 345.9 230.5 344.9 229.5 344.2 228.5 344.1 227.5 343.9 226.5 343.9 225.5 344 224.5 344.9 223.5 345.9 222.5 346.5 221.5 347.1 220.5 347.5 219.5 347.4 218.5 346.6 217.5 345.6 216.5 344.6 215.5 343.5 214.5 343.4 213.5 343.8 212.5 344.8 211.5 346.5 210.5 348.1 209.5 350 208.5 351.5 207.5 352.7 206.5 354.3 205.5 355.5 204.5 355.9 203.5 355.5 202.5 354.8 201.5 353 200.5 351.2 199.5 349.1 198.5 322 197.5 270.3 196.5 270.5 195.5 271.1 194.5 271.9 193.5 272.7 192.5 273.5 191.5 274.1 190.5 274.4 189.5 274.5 188.5 274.5 187.5 274.3 186.5 274.2 185.5 274.1 184.5 274.3 183.5 274.2 182.5 274.1 181.5 273.9 180.5 273.6 179.5 273.4 178.5 273.3 177.5 273.3 176.5 273.8 175.5 274.5 174.5 275.6 173.5 276.8 172.5 277.9 171.5 278.8 170.5 279.6 169.5 280.2 168.5 280.6 167.5 281 166.5 281.1 165.5 281.5 164.5 281.5 163.5 281.4 162.5 281.2 161.5 281.1 160.5 280.9 159.5 280.9 158.5 280.9 157.5 281.1 156.5 281.6 155.5 281.5 154.5 280.8 153.5 279.9 152.5 278.7 151.5 277.6 150.5 276.8 149.5 275.8 148.5 275.4 147.5 275.2 146.5 275 145.5 275 144.5 275.3 143.5 275.6 142.5 276.1 141.5 276.4 140.5 276.8 139.5 277.2 138.5 277.4 137.5 277.6 136.5 277.7 135.5 277.8 134.5 277.7 133.5 277.5 132.5 277.3 131.5 276.9 130.5 276.3 129.5 275.8 128.5 275.3 127.5 274.6 126.5 274.2 125.5 273.7 124.5 273.3 123.5 273.1 122.5 279.7 121.5 286.4 120.5 286.4 119.5 286.5 118.5 286.9 117.5 287.3 116.5 287.4 116 287.4Z" fill="#1f77b4"/><path d="M116 293.5h0m0 -47h0m0 22h0m0.5 -3h0m0 41.5h0m0 -35h0m0 11.5h0m0 -22.5h0m0 34.5h0m0 32.5h0m0.5 -65.5h0m0 22h0m0 -24h0m0.5 -44.5h0m0 81h0m0.5 -42h0m0 41.5h0m0.5 9h0m0 -2.5h0m0 -34.5h0m0 -3h0m0.5 23h0m0 -25.5h0m0 -30h0m0 66.5h0m0.5 61h0m0 -20.5h0m1 -46.5h0m0 -45.5h0m0 -2.5h0m0 69h0m0 -12h0m0 -50.5h0m0 7.5h0m0 -9.5h0m0 -9h0m1 16h0m0 42.5h0m0.5 -5.5h0m0 -23h0m0 11.5h0m0 -13.5h0m0.5 -45.5h0m0.5 15h0m0 69.5h0m0 -45.5h0m0.5 -9.5h0m0 -2h0m0 38h0m0 -30.5h0m0.5 -11.5h0m0 45h0m0 -16.5h0m0.5 -33h0m0 37.5h0m1 2h0m0.5 -22h0m0 -5h0m0 49.5h0m0 -62h0m0.5 39.5h0m0.5 -33h0m0.5 28.5h0m0 -25.5h0m0.5 23.5h0m0.5 -30h0m0.5 10h0m0.5 -11h0m0 36.5h0m0 -40h0m0 -6.5h0m0.5 27h0m0 -10.5h0m0.5 32.5h0m0.5 -24.5h0m0.5 -9.5h0m0 33h0m0 -36h0m0.5 28.5h0m0 17.5h0m0.5 -6h0m0 -31.5h0m0.5 -14.5h0m0 2.5h0m0 19h0m0.5 -6h0m0 -20.5h0m0 43h0m1.5 -38h0m0 12h0m0 -5.5h0m0.5 -0.5h0m0 -16.5h0m0.5 52.5h0m0 -23.5h0m0 -5h0m0.5 45.5h0m0.5 -21.5h0m0.5 -15h0m0 41.5h0m0.5 -62h0m0 -32h0m0.5 71h0m0 -18h0m0.5 22.5h0m0 -33h0m0 3.5h0m0.5 19.5h0m0.5 8.5h0m1 21h0m0 -57.5h0m0.5 1h0m0 28h0m0.5 -17.5h0m0 -6.5h0m0.5 9h0m0.5 -15h0m0 37.5h0m0 -27.5h0m0 20.5h0m0.5 3.5h0m0.5 -41.5h0m0 83.5h0m0.5 -93h0m0.5 25.5h0m0 -2.5h0m0.5 30.5h0m1 -9h0m0 -30h0m0 4.5h0m0.5 11h0m0 18.5h0m1 -42h0m0 14.5h0m0 48.5h0m0 1h0m0.5 -58.5h0m0 -3h0m0.5 8.5h0m0 -18h0m0.5 47h0m0 33h0m0 8h0m0.5 -35.5h0m1.5 -48h0m0 7h0m0 36.5h0m0 84h0m0.5 -116h0m0 3h0m0.5 -13h0m0.5 56h0m0.5 -51h0m0.5 54h0m0 8h0m0 -47.5h0m0.5 54.5h0m0 -65.5h0m0 62h0m0.5 -68.5h0m0 75.5h0m0 -2h0m0 -20h0m0.5 -9.5h0m0 -29h0m0 -4.5h0m0 117.5h0m1 -79.5h0m0 62.5h0m0 -29.5h0m0.5 -73h0m0.5 52h0m0 19.5h0m1 -23h0m0 -4.5h0m0 -7.5h0m0 -25h0m0.5 -9.5h0m0 2.5h0m0 2.5h0m0.5 56.5h0m0 -23.5h0m0.5 74.5h0m0 -65h0m0 -15h0m0 -26.5h0m0.5 64h0m0 -16h0m0 -7.5h0m0 -43.5h0m0 61h0m0 3h0m0.5 -51h0m0.5 43h0m0 -48.5h0m0 99.5h0m0.5 -115.5h0m0 42.5h0m0 37h0m0.5 14h0m0.5 -82h0m0 -11h0m0 56h0m0 -9h0m0.5 14.5h0m0 -16.5h0m0.5 21h0m0 -50.5h0m0 37h0m0.5 -13h0m0 15h0m0 -4.5h0m0 -30.5h0m0.5 28h0m0 -32h0m1.5 25.5h0m0.5 37.5h0m0 -57h0m0.5 40h0m0 30.5h0m0 -35h0m0 -39h0m1 -8h0m0.5 27.5h0m1 6.5h0m0 43.5h0m0.5 -47.5h0m0 -20h0m0 -4h0m0.5 -2.5h0m0 30h0m0 -33.5h0m0.5 15h0m0.5 44.5h0m0 -30.5h0m0.5 -27h0m0.5 22.5h0m0.5 -15h0m0.5 52.5h0m0.5 -58.5h0m0 103h0m0.5 -93h0m0.5 14.5h0m0.5 -21.5h0m1 0h0m0 22.5h0m0 -16.5h0m0 21.5h0m0.5 -11.5h0m1 3.5h0m0 -3.5h0m0 -12h0m0 6h0m0 -18.5h0m0 43h0m1.5 -11h0m0.5 -21.5h0m0 34h0m0 -80.5h0m1 44.5h0m0 38h0m0.5 -16h0m0.5 9.5h0m0 -17h0m0.5 3.5h0m0 31.5h0m0 -44h0m0.5 34.5h0m0.5 -37h0m0.5 24h0m0.5 -28h0m0.5 -10h0m0.5 52.5h0m0 -26h0m0 4h0m0 -14h0m1 40.5h0m0 -26h0m0.5 -26.5h0m0.5 30h0m0 75h0m0.5 -101h0m0 51h0m0.5 -46.5h0m0 -20.5h0m0.5 35.5h0m0.5 -9.5h0m0.5 -21h0m1 20.5h0m0 -4.5h0m0 22.5h0m0 7.5h0m0 -10h0m0 -55.5h0m0 9h0m0 71.5h0m0 -13.5h0m0.5 -34h0m0.5 -5h0m0 25.5h0m0.5 -54.5h0m0 19h0m0 6h0m0.5 27.5h0m0 -30.5h0m0 6h0m0 21h0m0.5 -10.5h0m1 9h0m1 -33.5h0m0 10h0m0 13.5h0m0 3h0m0.5 29h0m0 -37.5h0m0 3h0m0.5 16.5h0m0.5 -7h0m0.5 4.5h0m0 -64.5h0m0 2.5h0m0 147h0m0 -12.5h0m0 -22h0m0.5 -119.5h0m0 131.5h0m0 -123.5h0m0 -13h0m0 130h0m0 -123h0m0 126.5h0m0 -131h0m0.5 121h0m0 -143h0m0 -4h0m0 194.5h0m0.5 -8.5h0m0 6.5h0m0 -21h0m0 -183.5h0m0 27h0m0.5 -29h0m0.5 14h0m0 -4h0m0 -4.5h0m0.5 23h0m0 171h0m0 -177h0m0.5 168.5h0m0 2.5h0m0 14h0m0 -4h0m1 -203.5h0m0 -58h0m0.5 306h0m0 -23h0m0 51.5h0m0 -64h0m0.5 -197h0m0 11h0m0 -6h0m0 188.5h0m0 10h0m0.5 -3.5h0m0 -19.5h0m0 36.5h0m0.5 -211h0m0 -9.5h0m0 223h0m0.5 -244.5h0m0 17h0m0.5 7h0m0 174h0m0.5 28h0m0 -204h0m0 190h0m0 -2h0m0 -198h0m0 15.5h0m0 188.5h0m0 -14h0m0.5 52h0m0 -253h0m0 219h0m0 -15h0m0.5 -188.5h0m0.5 -10h0m0 25.5h0m0 251h0m0 -274.5h0m0.5 -27.5h0m0 18.5h0m0 275h0m0.5 -67h0m0 -192h0m0 179.5h0m0.5 28.5h0m0 -231h0m0 209.5h0m0.5 -174h0m0.5 -18.5h0m0 204h0m0 -194.5h0m0.5 4.5h0m0 188h0m0 -261.5h0m0 2.5h0m0 268.5h0m0 -215.5h0m0 212.5h0m0 -270.5h0m0.5 251.5h0m0 -169h0m0.5 -39.5h0m0.5 215.5h0m0 -14h0m0 48.5h0m0 -227.5h0m0.5 194.5h0m0 -222.5h0m0 231h0m0 -21h0m0 -169.5h0m0 -41.5h0m0.5 24h0m0 -26h0m0.5 217.5h0m0 -171.5h0m0 -11.5h0m0 3h0m0 193h0m0 -236.5h0m0 3h0m0 24h0m0.5 -6.5h0m0 -0.5h0m0 17h0m0 20.5h0m0.5 184.5h0m0 -15.5h0m0 -179h0m0.5 165h0m0 -151.5h0m0 -31h0m0 228h0m0 40h0m0 -63.5h0m0.5 13.5h0m0 -16h0m0 -181.5h0m0.5 -8.5h0m0 204h0m0 -193.5h0m0.5 164h0m0 23.5h0m0 -208h0m0.5 198h0m0 -183.5h0m0 179.5h0m0 -5h0m0 22.5h0m1 -183h0m0 4h0m0.5 188.5h0m0 -16h0m0 3h0m0.5 -183h0m0.5 -16h0m0 179h0m0.5 11h0m0 15h0m0 -29h0m0.5 -194.5h0m0 196.5h0m0 -184h0m0 213.5h0m0 -18h0m0.5 5h0m0 -10h0m0 -172.5h0m0 185.5h0m0 -208h0m1 197.5h0m0 -177.5h0m0 -6.5h0m0 13.5h0m0 -25h0m1 -29h0m0 237.5h0m0.5 -188.5h0m0 -27.5h0m0.5 -39h0m0 79h0m0.5 -29.5h0m0 179.5h0m0 -189h0m0 222h0m0 -198.5h0m0 -22h0m0.5 19h0m0 172h0m0.5 -159h0m0.5 197h0m0.5 -201h0m0 -23.5h0m0 195.5h0m0 -176h0m0.5 12h0m0 160.5h0m0 -243h0m0.5 266.5h0m0 -251.5h0m0 222h0m0 32h0m0 48.5h0m0 -241h0m0 -16h0m0 -13.5h0m0.5 192.5h0m0 -185h0m0.5 192h0m0 56.5h0m0 -241.5h0m0 171h0m0.5 -153.5h0m0.5 165.5h0m0 -177h0m0.5 -7h0m0 -2h0m0.5 -19h0m0 -1.5h0m0 34.5h0m0 -22h0m0 -17.5h0m0.5 217h0m0 -172h0m0 -54h0m0.5 49.5h0m0 9h0m0 -37.5h0m0.5 193.5h0m0 4h0m0.5 -10h0m0 -208h0m0 39h0m0 215h0m0.5 -225.5h0m0 15.5h0m0 -34h0m0.5 212h0m0 12.5h0m0.5 -188h0m0 9h0m0 164h0m0 -2h0m0.5 -165.5h0m0.5 163h0m0 -181h0m0 196.5h0m0 6.5h0m0.5 -26.5h0m0 17h0m0 -191.5h0m0 187.5h0m0.5 -177h0m0 -4h0m0 170h0m0 16.5h0m1 -190h0m0 7h0m0.5 8.5h0m0 153h0m0.5 16h0m0 -1h0m1 -185h0m0.5 182.5h0m0 -171h0m0.5 -6h0m0 -49.5h0m0 48h0m0 167.5h0m0.5 4h0m0.5 -187.5h0m0 9.5h0m0 183h0m0 -221.5h0m0 328h0m0 -65h0m0.5 -53.5h0m0.5 29.5h0m0.5 -194h0m0.5 -23h0m0 18h0m0 196h0m1 -258h0m0 69h0m0 181.5h0m0 -197h0m0 23.5h0m0 216.5h0m0 -51h0m0.5 4.5h0m0 6.5h0m1 -190.5h0m0 -9.5h0m0 213h0m0 -210.5h0m0.5 216h0m0 -221.5h0m0 212h0m0.5 -266.5h0m0 53h0m0 30.5h0m0 -4h0m0 181h0m0.5 79.5h0m0.5 -58h0m0 -212h0m0 4h0m0 188h0m0.5 -211.5h0m0 -24.5h0m0 257h0m0 -206h0m0 180.5h0m0.5 -299.5h0m0 308h0m0 3h0m0.5 25h0m0 -218h0m0 -33h0m0.5 37.5h0m0.5 -17h0m0 5.5h0m0 209.5h0m0 -278h0m0 60h0m0.5 200h0m0 6.5h0m0.5 -10h0m0 79.5h0m0 -280h0m0 29h0m0 197.5h0m0.5 -3.5h0m0 -28h0m0 -178.5h0m0 227.5h0m0.5 -300.5h0m0 271h0m0.5 -8h0m0 29h0m0 38h0m0.5 -281.5h0m0 18.5h0m0 15.5h0m0.5 -6h0m0 -48.5h0m0 215h0m0.5 8.5h0m0 17.5h0m0 -205.5h0m0 261.5h0m0 -78h0m0 -176.5h0m0 253.5h0m0 -68.5h0m0.5 -172h0m0 -5h0m0 201h0m1 -225.5h0m0 21h0m0 183h0m0 -17.5h0m0 -183h0m0 -12h0m0.5 3.5h0m0 220h0m0.5 38h0m0 -234h0m0.5 185.5h0m0 -12.5h0m0 25.5h0m0 -211.5h0m0.5 224.5h0m0 -246.5h0m0.5 212h0m0 -199h0m0 189.5h0m0 13h0m0.5 -198h0m0 -15.5h0m0 231.5h0m0.5 -192.5h0m0 200h0m0 -34h0m0 -163h0m0.5 239.5h0m0.5 -45.5h0m0 -202.5h0m0 9.5h0m0 -24h0m0 -4h0m0.5 210.5h0m0 -197.5h0m0 190h0m0 -183.5h0m0 -44h0m0.5 217h0m0 21.5h0m0 -17.5h0m0 11h0m0.5 -20h0m0.5 14h0m0 9.5h0m0 -197h0m0.5 199h0m0 -30h0m0 -173.5h0m0.5 14h0m1 -68.5h0m0 75h0m0 -6.5h0m0 166h0m0.5 7.5h0m0 -10.5h0m0 -168.5h0m0.5 -16.5h0m0 191.5h0m0 58.5h0m0.5 -240h0m0 5.5h0m0.5 164h0m0 -153h0m1 -35h0m0.5 203.5h0m0 -3h0m0.5 -161h0m0 -3.5h0m0 155h0m0 15h0m0.5 -223.5h0m0 213.5h0m0 -167h0m0.5 -17.5h0m0 204h0m0 2h0m0.5 10.5h0m0 52h0m1 -26.5h0m0 -226.5h0m0.5 199.5h0m0.5 -16h0m0 -12.5h0m0 -169.5h0m0 5h0m0 167.5h0m0 52.5h0m0.5 -218.5h0m0 173.5h0m0 33.5h0m0.5 -203.5h0m0 184.5h0m0 -190h0m0.5 172h0m0.5 29h0m0 -275h0m0 257h0m0.5 -237h0m0 235.5h0m0 12h0m0.5 -183.5h0m0 182h0m0 -3h0m0.5 -5h0m0.5 -176h0m0 168.5h0m0 -8.5h0m0 -162.5h0m0.5 237h0m0 -60.5h0m0.5 -182h0m0 177h0m0 53.5h0m0 -250.5h0m0.5 204.5h0m0 -287h0m0.5 273.5h0m0 24h0m0 3h0m0 -199h0m0 202h0m0 -28h0m0 -4.5h0m1 -4h0m0 24.5h0m0 -11h0m0 -173h0m0.5 222h0m0 -52h0m0.5 -189.5h0m0 14h0m0.5 187h0m0 6h0m0 15.5h0m0 -222.5h0m0 221h0m0 -41.5h0m0.5 -169.5h0m0 189h0m0 -181h0m0.5 -9.5h0m0 161h0m0 -197h0m0.5 201.5h0m0 2.5h0m0 10.5h0m0.5 -1h0m0 22h0m0.5 45.5h0m0 -5.5h0m0 -3h0m0 -232h0m0 238h0m0.5 -262.5h0m0 194.5h0m0 -190h0m0 -56.5h0m0 50h0m0 20.5h0m0.5 -3.5h0m0 -7h0m0 206h0m0 15h0m0 -228h0m0.5 209.5h0m0 -175h0m0 154h0m0.5 -7.5h0m0.5 14.5h0m0 -18h0m0 -146.5h0m0 171.5h0m0 -181.5h0m0 -15h0m0.5 18h0m0 -13h0m0 -23.5h0m0 186h0m0 -145.5h0m0 172.5h0m0 -220.5h0m0.5 224.5h0m0 -227.5h0m0 5h0m0 46h0m0 156h0m0 -204h0m0 257.5h0m0.5 -220.5h0m0 -42.5h0m0.5 -11.5h0m0 228.5h0m0.5 38.5h0m0 -20h0m0 -10.5h0m0 -12.5h0m0.5 -153h0m0 4.5h0m0 -16.5h0m0.5 -7.5h0m0 166h0m0 -169.5h0m0.5 -4.5h0m0 187.5h0m0.5 -169h0m0 -50h0m0.5 226h0m0 -24.5h0m0 -146.5h0m0.5 -11h0m0 -32h0m0 187h0m0 -173.5h0m0 182.5h0m0 33h0m0.5 -5h0m0 -234.5h0m0 261h0m0.5 -47.5h0m0 -2.5h0m0 -8.5h0m0 -170h0m0.5 25h0m0 162.5h0m0 12h0m0.5 -0.5h0m0 -184.5h0m0.5 179h0m0.5 -176h0m0 -14h0m0 3h0m0.5 167.5h0m0 -174.5h0m0 192h0m0 -7h0m0.5 -6.5h0m0 -236.5h0m0 79h0m0.5 -82h0m0 267h0m0.5 18h0m0 -231.5h0m0 3.5h0m0 11.5h0m0 172.5h0m0 -168h0m0 186h0m1 -9h0m0 43.5h0m0 -217.5h0m0.5 -27h0m0.5 29h0m0 167h0m0 -214.5h0m0 216.5h0m0.5 -175h0m0 -10.5h0m0 177.5h0m0.5 -174.5h0m0 191h0m0 -3.5h0m0.5 -209.5h0m0.5 216.5h0m0 7h0m0 56h0m0 -82h0m0 -246.5h0m0 75h0m0.5 -24h0m0.5 18h0m0 186.5h0m0 -7h0m0.5 -6h0m0 21h0m0 -208.5h0m0.5 27h0m0 171.5h0m0.5 45h0m0.5 -219.5h0m0 -6.5h0m0 3h0m0 -25h0m0.5 190.5h0m0 35.5h0m0 -17h0m0 14.5h0m0 -25.5h0m0.5 -181h0m0 -2h0m0 206h0m0 -21h0m0 -250h0m0.5 58h0m0.5 -25.5h0m0 229h0m0 2h0m0 -213h0m1 19h0m0 10.5h0m0 275.5h0m0 -271h0m0.5 158.5h0m0.5 -181h0m0 -6.5h0m0 222h0m0 -20h0m0.5 -176h0m0 203.5h0m0 -223.5h0m0.5 14h0m0 -52.5h0m0 226.5h0m0 44h0m0 -26.5h0m0 -210.5h0m0 212.5h0m0 -196h0m0.5 -4h0m0 190.5h0m0 7h0m0 -177.5h0m0 180.5h0m0.5 -203.5h0m0 187h0m0 10h0m0.5 -210.5h0m0 -19h0m0 213.5h0m0.5 6.5h0m0 -208.5h0m0.5 33h0m0.5 -37h0m0 11.5h0m0 2.5h0m0 -35h0m0 251.5h0m0 -30h0m0.5 15h0m0 -173h0m0 -64h0m0.5 43h0m0 210h0m0 19h0m0 -209.5h0m0 -44h0m0.5 20.5h0m0.5 190.5h0m0 -176.5h0m0 173h0m0 8.5h0m0 -16h0m0.5 -168h0m0 -1h0m0 192.5h0m0 8.5h0m0.5 -195h0m0 -14h0m0 16h0m0 -4h0m0.5 15.5h0m0.5 -33.5h0m0 203h0m0 -206h0m0.5 -26h0m0 223.5h0m0 -163h0m0 -3h0m0 6.5h0m0 151h0m0.5 23.5h0m0 -19.5h0m0 77h0m0 -14h0m0.5 -233h0m0 -11.5h0m0 17.5h0m0.5 203h0m0 -28.5h0m0 -8.5h0m0 -151.5h0m0 177.5h0m0 -187.5h0m0 -27h0m0.5 2h0m0.5 215h0m0 -197.5h0m0 14h0m0 274h0m0 -58h0m0 -68.5h0m0 40.5h0m0 -28.5h0m0 14h0m0.5 -21h0m0 14h0m0.5 23h0m0 -21h0m0 -213h0m0 206h0m0 -152.5h0m0 -24.5h0m0.5 -4h0m0 11h0m0 4h0m0.5 -24h0m0 -10.5h0m0.5 -7h0m0 14h0m0.5 7h0m0 177.5h0m0 -189.5h0m0 191.5h0m0 44.5h0m0.5 -193.5h0m0 -5h0m0 195.5h0m0 -208.5h0m0 181h0m0.5 61h0m0 -82h0m0 -144h0m0.5 155h0m0.5 -149h0m0 -79h0m0 225h0m0 23.5h0m0.5 -255h0m0 236.5h0m0 -165h0m0 148h0m0 31.5h0m0 -195.5h0m0 3h0m0.5 11h0m0 -8.5h0m0 17h0m0 215.5h0m0 -241h0m0.5 13h0m0 -16.5h0m0 175.5h0m0 -165.5h0m0.5 -21h0m0 198h0m0 -7h0m0 -155h0m0.5 -20.5h0m0.5 2.5h0m0 -39h0m0 34h0m0.5 18.5h0m0 153h0m0 81.5h0m0 -312.5h0m0 71.5h0m0 -17.5h0m0 188h0m0.5 17h0m0 -11.5h0m0 -177h0m0.5 -62.5h0m0.5 29.5h0m0.5 201h0m0 -157.5h0m0 -4.5h0m0.5 159.5h0m0 8.5h0m0 -231.5h0m0 216h0m0.5 -153.5h0m0 -24.5h0m0 203h0m0.5 -182h0m0 -8.5h0m0 -6.5h0m0.5 220h0m0 -253h0m0 250h0m0 -41.5h0m0 38.5h0m0 -204.5h0m0.5 181h0m0 17h0m0 3.5h0m0 -217h0m0.5 185h0m0 -155h0m0 -11.5h0m0 174h0m0 -184.5h0m0.5 182.5h0m0 10h0m0 -208h0m0 -5h0m0.5 214h0m0 -198h0m0.5 -52.5h0m0 76.5h0m0 179h0m0.5 -18h0m0 -174.5h0m0.5 178.5h0m0.5 -188h0m0 207h0m0 -219h0m0.5 18h0m0.5 10.5h0m0 2h0m0 -7.5h0m0 179.5h0m0.5 -168h0m0 154.5h0m0 -178.5h0m0 185.5h0m0 -192.5h0m0 1.5h0m0 212h0m0.5 -16h0m0 13h0m0.5 -184.5h0m0 191.5h0m0.5 -211h0m0 6h0m0 9h0m0 166h0m1 32.5h0m1 -22.5h0m0 -184.5h0m0 5h0m0.5 15h0m0 184h0m0 -17h0m0 -9h0m0.5 -162h0m0.5 -19h0m0 194h0m0 -18h0m0.5 -173.5h0m0.5 184h0m0 -13.5h0m0.5 9h0m0 24h0m0 -39h0m0.5 3h0m0 -164h0m0 171.5h0m0 -157h0m0.5 -8h0m0.5 200.5h0m0 -213.5h0m0 12h0m0 14h0m0.5 172.5h0m0.5 -233h0m0 45h0m0 3.5h0m0 -38.5h0m0 210.5h0m0.5 -12h0m0 15h0m0.5 -186.5h0m0 193h0m0 -6h0m0.5 -13.5h0m0 -211h0m0 249h0m0 39.5h0m0 -43h0m0.5 -30h0m0 -189.5h0m0 29.5h0m0 -64.5h0m0 69.5h0m0.5 -86.5h0m0 22h0m0 35h0m0 208h0m0 -19.5h0m0.5 -176.5h0m0 -50h0m0.5 35h0m0 177.5h0m0 -158.5h0m0.5 199h0m0 -211h0m0 4.5h0m0 185h0m0.5 -172h0m0 182h0m0 3.5h0m0.5 -200h0m0 255h0m0 -258.5h0m0 262.5h0m1 -84.5h0m0 7h0m0.5 -162.5h0m0 240h0m0 -254h0m0 -19.5h0m0 229.5h0m0 -2.5h0m0 -28h0m0.5 4h0m0 5h0m0 -16h0m0.5 13.5h0m0 -192.5h0m0.5 245.5h0m0 -46.5h0m0 -209h0m0 29.5h0m0 186.5h0m0 -213.5h0m0.5 22.5h0m0 -18h0m0 224h0m0.5 19.5h0m0 -279h0m0 -42h0m0 5h0m0 87h0m0.5 169.5h0m0 -165h0m0 -13h0m0.5 187.5h0m0 -179h0m0 -4h0m0.5 14h0m0 164h0m0 16h0m0 57.5h0m0 -40.5h0m0 -24h0m0 22.5h0m0.5 10.5h0m0 -49.5h0m0 -168.5h0m0 -7h0m0.5 193h0m0 11h0m0 -30.5h0m0.5 -177h0m0.5 184.5h0m0 -166h0m0.5 198h0m0 -22.5h0m0 103.5h0m0 -119h0m0.5 -185.5h0m0 194.5h0m0 14h0m0 -10h0m0.5 5h0m0 -178h0m0.5 4.5h0m0 184h0m0 24h0m0.5 -49h0m0.5 -170.5h0m0 14.5h0m0 -68h0m0.5 47h0m0 185.5h0m0 14h0m0.5 -8.5h0m0 6.5h0m0 -196h0m0 180.5h0m0.5 -172h0m0 1.5h0m0.5 12h0m0 149h0m0 44.5h0m1 -40.5h0m0 -160h0m0.5 169.5h0m0 22h0m0.5 -231.5h0m0 200h0m0 34h0m0 -20h0m0 -169.5h0m0 -15h0m0.5 -3h0m0 182h0m0 -246.5h0m0.5 69.5h0m0 197.5h0m0.5 -23h0m0.5 14h0m0 34.5h0m0 30h0m0 -32.5h0m0.5 -216h0m0 178h0m0 -173.5h0m0 187h0m0 -213h0m0.5 204h0m0 39h0m0 2.5h0m0.5 -56.5h0m0.5 -172.5h0m0 180.5h0m0 -253h0m0 66.5h0m0 -70h0m0.5 6.5h0m0 73h0m0 -17.5h0m0 182.5h0m0 -193.5h0m0.5 200h0m0 -185.5h0m0 -31h0m0.5 241.5h0m0 -224h0m0 260.5h0m0 -238.5h0m0 241.5h0m0 -230h0m0 179.5h0m0.5 53.5h0m0 -58.5h0m0 -202h0m0 256.5h0m0 -271h0m0 209h0m0.5 -183.5h0m0 -20h0m0 201.5h0m0.5 -240.5h0m0.5 55.5h0m0 196.5h0m0 -184.5h0m0 180h0m0 -197h0m0.5 185h0m0.5 -204h0m0 223h0m0 -220.5h0m0 5.5h0m0 -51h0m0 285h0m0 28.5h0m0 -24.5h0m0 -40.5h0m0.5 24.5h0m0 8.5h0m0.5 -239.5h0m0 215.5h0m0.5 13.5h0m0 -198.5h0m0 211h0m0.5 -226h0m0 19h0m0 -11h0m0 -11.5h0m0 14h0m0.5 198.5h0m0 -205.5h0m0.5 192h0m0 -205h0m0 198h0m0.5 17h0m0 8.5h0m0 -23h0m0 -183.5h0m0 268h0m0 -77.5h0m0.5 -236h0m0.5 52.5h0m0 14.5h0m0.5 174h0m0 5h0m0 -186.5h0m0 -27h0m0 3h0m0.5 3h0m0 275.5h0m0 29.5h0m0 -100.5h0m0.5 -9.5h0m0 -179h0m0 -5h0m0.5 -8.5h0m0.5 188h0m0 -162.5h0m0.5 -3h0m0.5 -13.5h0m0 187.5h0m0.5 -203h0m0 34.5h0m0 -38.5h0m0.5 226h0m0 -201h0m0 178.5h0m0 -7.5h0m0.5 -219.5h0m0 304.5h0m0 -68.5h0m0 -202h0m0 2.5h0m0.5 211.5h0m0 -189.5h0m0 174h0m0 -191h0m0 198.5h0m0.5 -211h0m0 200h0m0 -186h0m0.5 258h0m0 -272.5h0m0 9.5h0m0 177h0m0.5 -169h0m0 10h0m0 194h0m0.5 -29.5h0m0 -157h0m0 -12.5h0m0 188.5h0m0.5 -6h0m0 -8.5h0m0.5 -239.5h0m0 67.5h0m0 -19.5h0m0.5 229.5h0m0 -204h0m0 -55.5h0m0 44.5h0m0 6h0m0.5 198h0m0 -195h0m0 172.5h0m0 -196.5h0m0.5 198.5h0m0 -9.5h0m0 43.5h0m0.5 -6.5h0m0 2.5h0m0 -42.5h0m0 29h0m0 8.5h0m0 7.5h0m0.5 -214h0m0 195.5h0m0.5 -29.5h0m0 13h0m0 -9h0m0 -159h0m0 165h0m0.5 -210.5h0m0 23h0m0.5 198h0m0 -2.5h0m0.5 39h0m0 -41h0m0 -185h0m0 225.5h0m0.5 -233.5h0m0 17h0m0 194.5h0m0 -26h0m0 17h0m0.5 12.5h0m0 29.5h0m0.5 -236.5h0m0 10.5h0m0 -57.5h0m0 60.5h0m0 3h0m0.5 -83h0m0 270h0m0 -197.5h0m0 193.5h0m0.5 -7.5h0m0 -257.5h0m0 272.5h0m0 -229.5h0m0 194h0m0.5 84.5h0m0 -75.5h0m0 -178h0m0.5 8.5h0m0.5 172.5h0m0 -201h0m0.5 273.5h0m0 -240h0m0 201.5h0m0 -30h0m0.5 10h0m0 -4.5h0m0.5 35h0m0 3h0m0.5 -224.5h0m0 193h0m0 1.5h0m0 -200.5h0m0 12.5h0m0.5 166.5h0m0.5 -9h0m0 -178h0m0.5 218.5h0m0 -27.5h0m0.5 3h0m0 3h0m0 -190h0m0 -5.5h0m0.5 15h0m0 -12.5h0m0 -5h0m0 -23h0m0.5 292.5h0m0 -88h0m0 19h0m0.5 -7.5h0m0.5 -201h0m0 21.5h0m0 -3h0m0.5 8h0m0 167h0m0 136h0m0 5.5h0m0 -130.5h0m0 50h0m0 -299.5h0m0.5 43.5h0m0 210h0m0 -194h0m0.5 -9.5h0m0 216.5h0m0.5 -8h0m0 1.5h0m0 -193.5h0m0.5 -24h0m0 -10h0m0 220.5h0m0 32h0m0 -44.5h0m0.5 -171h0m0 210h0m0 -36h0m0 2.5h0m0.5 36.5h0m0 3.5h0m0.5 -205h0m0.5 -18h0m0 13.5h0m0 175.5h0m0.5 -2.5h0m0 70.5h0m0 -248h0m0 -4.5h0m0.5 249.5h0m0 -2.5h0m0 -289h0m0 286.5h0m0 -75.5h0m0 -179h0m0.5 7h0m0 -12.5h0m0 211.5h0m0 -6.5h0m0.5 -9.5h0m0 -176h0m0.5 10h0m0 188.5h0m0 -193.5h0m0.5 162h0m0 2.5h0m0 -8.5h0m0 -236.5h0m0.5 248h0m0.5 -189.5h0m0 -5h0m0 235h0m0 -35h0m0 5.5h0m0 -1h0m0.5 -202h0m0 -5h0m0.5 -42h0m0 68.5h0m0 244h0m0.5 -240h0m0.5 163.5h0m0 -177h0m0 4h0m0 167.5h0m0 -164.5h0m0 -12.5h0m0 174h0m0.5 29.5h0m0 -201h0m0.5 -7h0m0 218h0m1 43.5h0m0 -67.5h0m0 -200.5h0m0 3.5h0m0 195h0m0 9h0m0 -3h0m0.5 -206h0m0 -37.5h0m0 263.5h0m0 -2.5h0m0 -207.5h0m0.5 13.5h0m0 -38.5h0m0.5 21h0m0 183.5h0m0 -181h0m0 177.5h0m0 13h0m0.5 -173h0m0 -4h0m0 156h0m1 53.5h0m0 -49.5h0m0.5 -165.5h0m0.5 1h0m0 174.5h0m0 -167.5h0m0 -4.5h0m0.5 170.5h0m0 20h0m0 -205.5h0m0 -11.5h0m0.5 243.5h0m0 6.5h0m0 -3.5h0m0 -14.5h0m0.5 -195.5h0m0 -15h0m0 -52h0m0 40h0m0 230.5h0m0.5 27h0m0 -82.5h0m0 8h0m0.5 -211h0m0 25h0m0 250.5h0m0.5 -254h0m0.5 31h0m0 217h0m0 -230h0m0 169.5h0m0 -4h0m0 14h0m0.5 -171h0m0.5 -1.5h0m0 -48.5h0m0.5 39.5h0m0 -29h0m0 206.5h0m0.5 -160h0m0 -81.5h0m0 253h0m0.5 15.5h0m0 -231.5h0m0 221.5h0m0 -25h0m0 -3.5h0m0.5 9h0m0 10h0m0 -249h0m0 313.5h0m0 -59.5h0m0.5 -193h0m0 1.5h0m0 4.5h0m0.5 201h0m0 -190h0m0 169.5h0m0.5 -174.5h0m0 167.5h0m0 -155h0m0 -61.5h0m0.5 58h0m0 -25h0m0 254h0m0.5 -244.5h0m0 242h0m0 -71.5h0m0.5 7h0m0.5 9.5h0m0 -21.5h0m0 29.5h0m0 -2h0m0 4h0m0 2h0m0 -10h0m0 -184.5h0m0.5 179h0m0.5 -221h0m0 24h0m0 198.5h0m0 -178.5h0m0.5 2.5h0m0 178.5h0m0 -175h0m0.5 167.5h0m0 32h0m0 -38h0m0.5 -245h0m0 -1h0m0.5 44h0m0.5 18h0m0 200h0m0 -191h0m0.5 207.5h0m0 -193h0m0 220h0m0 -29.5h0m0.5 -33h0m0.5 3.5h0m0 8h0m0 -181.5h0m0.5 -8.5h0m0 226.5h0m0 -233.5h0m0 4.5h0m0 6.5h0m0 168h0m0.5 -199.5h0m0 213.5h0m0 8.5h0m0 -7h0m0 57h0m0.5 -53h0m0 -190.5h0m0 -10.5h0m0 26h0m0 -81.5h0m0 75.5h0m0.5 205.5h0m0 -256.5h0m0 242.5h0m0.5 -195h0m0 -31.5h0m0 265.5h0m0 -3h0m0 -260h0m0.5 2h0m0 213h0m0 -174h0m0 -23.5h0m0 173h0m0 45h0m0 -36h0m0.5 -213.5h0m0 211.5h0m0 7h0m0 -209.5h0m0.5 44h0m0.5 4h0m0 155.5h0m0 -165.5h0m0 -7.5h0m0.5 186h0m0 -175h0m0 -13.5h0m0.5 194.5h0m0 -11h0m0.5 -13.5h0m0.5 -205.5h0m0 7.5h0m0.5 35.5h0m0 173.5h0m0 4h0m0 4h0m0.5 8.5h0m0 1.5h0m0 -197.5h0m0 -4h0m0 -25.5h0m0 251.5h0m0.5 -214h0m0 202.5h0m0 -203h0m0 -12.5h0m0 202.5h0m0 -4.5h0m0 -202h0m0 182h0m0.5 -169h0m0 -71h0m0 241.5h0m0.5 37.5h0m0 -15.5h0m0 -183.5h0m0.5 -61.5h0m0 266.5h0m0.5 -30.5h0m0 -200h0m0 198h0m0.5 -14h0m0 -162h0m0 160h0m0.5 -181h0m0 194h0m0 -3.5h0m0 -188.5h0m0 203.5h0m0.5 -207h0m0 15.5h0m0 210.5h0m0.5 -263h0m0.5 243h0m0 7h0m0 -24h0m0.5 3.5h0m0 -173h0m0 5.5h0m0 -8h0m0 -3.5h0m0.5 171h0m0.5 40.5h0m0 -211.5h0m0 -3h0m0 171h0m0.5 -173.5h0m0.5 214h0m0 44h0m0.5 -240.5h0m0 -5h0m0 -35.5h0m0.5 -4h0m0 24.5h0m0 188h0m0 -274h0m0.5 90h0m0 180h0m0.5 -174h0m0 171.5h0m0.5 -194h0m0.5 208.5h0m0 -7.5h0m0 17h0m0 -30h0m0 15.5h0m0 -177.5h0m0 180.5h0m0.5 9.5h0m0.5 13h0m0 -273h0m0 241h0m0.5 -173h0m0 179h0m0.5 -171.5h0m0 -43.5h0m0 30.5h0m0 -3h0m0.5 180h0m0 -206h0m0.5 203h0m0 -163h0m0 -26.5h0m0.5 9h0m0.5 8.5h0m0 179.5h0m0 -197.5h0m0 211h0m0.5 -219.5h0m0 252.5h0m0.5 -230h0m0 211.5h0m0 -27.5h0m0 -181.5h0m0 256h0m0.5 -269h0m0 -1h0m0.5 -8.5h0m0 213.5h0m0.5 -2.5h0m0 -180h0m0 -31.5h0m0 14h0m0 212.5h0m0.5 -237.5h0m0 219.5h0m0 -181h0m0 211h0m0 -38h0m0.5 37.5h0m0 -225h0m0.5 4h0m0 198h0m1 -8h0m0 -200.5h0m0.5 201.5h0m0 31h0m0 -202.5h0m0 -13.5h0m0 5.5h0m0.5 167h0m0 -175.5h0m0 182.5h0m0.5 58.5h0m0 -229.5h0m0 -37.5h0m1 8h0m0 -4h0m0 213.5h0m0 -179.5h0m0.5 161.5h0m0 16.5h0m0 -194.5h0m0 184.5h0m0 3.5h0m0.5 -167h0m0 -16.5h0m0 1h0m0.5 5.5h0m0.5 11h0m0.5 212h0m0 -257.5h0m0 205.5h0m0 -189.5h0m0 7h0m0.5 -14h0m0 28.5h0m0.5 -26.5h0m0 21.5h0m0 194h0m0 -209.5h0m0 -22.5h0m0.5 282.5h0m0.5 -75h0m0 -215.5h0m0 242.5h0m0 -188.5h0m0 -15.5h0m0 254.5h0m0.5 -80h0m0 -237.5h0m0 320h0m0 -73h0m0.5 3h0m0 -192h0m0 -38.5h0m0 233.5h0m0 -180h0m0.5 174.5h0m0 -211h0m0 220.5h0m0.5 -189h0m0 15.5h0m0 197h0m0 -227.5h0m0.5 189.5h0m0 36h0m0 -224.5h0m0 269h0m0.5 -369.5h0m0 322.5h0m0 -255.5h0m0.5 247.5h0m0 -187h0m0 177h0m0 -21h0m0.5 -191.5h0m0 -20h0m0 22.5h0m0 14.5h0m0 181h0m0 -224.5h0m0.5 32.5h0m0 17.5h0m0 187h0m0 17h0m0 -9h0m0.5 -19.5h0m0 43h0m0 -1.5h0m0 -225h0m0.5 -31.5h0m0 236.5h0m0 -13.5h0m0 7h0m0.5 -194h0m0 14h0m0 -21.5h0m0 14.5h0m0 176h0m0 -180h0m0 207h0m0 -189h0m0.5 -10.5h0m0.5 216h0m0 -36.5h0m0 15h0m0 -187.5h0m0.5 179h0m0 -207.5h0m0 7.5h0m0 177h0m0.5 33h0m0 -183h0m0 -36.5h0m0 4.5h0m1 237h0m0 -43h0m0 -174.5h0m0 167.5h0m0.5 21.5h0m0 17h0m0 3.5h0m0 -219h0m0.5 200.5h0m0 12h0m0.5 -225h0m0 27h0m0 -21h0m0.5 187h0m0 -176.5h0m0 -3h0m0.5 9h0m0 -3.5h0m0.5 182.5h0m0 -169.5h0m0 164.5h0m0 -192h0m1 242.5h0m0 -213h0m0 169.5h0m0.5 -195h0m0 181h0m0 22.5h0m0.5 -193h0m0 198.5h0m0.5 12h0m0 -277h0m0 71h0m0 258h0m0 -82.5h0m0 -168h0m0 -4h0m0 203.5h0m0.5 -254h0m0 228h0m0 -12h0m0 4h0m0.5 39h0m0 -246h0m0.5 25.5h0m0 1.5h0m0.5 -50h0m0.5 279h0m0 25.5h0m0 -62h0m0 -186.5h0m0 195h0m0 -182.5h0m0.5 -25h0m0 -14.5h0m0.5 3h0m0 191.5h0m0 18h0m0.5 -28h0m0 -180.5h0m0 226.5h0m0 -40h0m0 -171.5h0m0 25h0m0 -18.5h0m0 183h0m0.5 15h0m0 -26h0m0 -163.5h0m0 159h0m0 8.5h0m0 -171.5h0m0 204h0m0 -29h0m0.5 26.5h0m0 -193h0m0 177h0m0 -207.5h0m1.5 181.5h0m0 -170h0m0 177h0m0 -194h0m0.5 213.5h0m0 -4h0m0.5 56.5h0m0 -234.5h0m0 7h0m0 -3h0m0 -11.5h0m0.5 182.5h0m0 16h0m0 -38.5h0m0 -164.5h0m0 170h0m0 -175h0m0 187h0m0.5 -4.5h0m0 -185.5h0m0 -14h0m0.5 190h0m0 23.5h0m0 -200.5h0m0 16h0m0.5 241.5h0m0 -261h0m0 22.5h0m0 -54h0m0.5 218h0m0 -246.5h0m0.5 6.5h0m0 6.5h0m0 -3h0m0 48h0m0 218.5h0m0 -20h0m0 -260.5h0m0.5 7.5h0m0 246.5h0m0 32h0m0 -228.5h0m0 -4.5h0m0.5 218.5h0m0.5 -198h0m0 -30h0m0 14.5h0m0 2h0m0 188h0m0 -232.5h0m0 51h0m0.5 190h0m0 -185.5h0m0 -73h0m0 80h0m0 -14h0m0.5 -4.5h0m0 183.5h0m0 -163h0m0 -27.5h0m0 213.5h0m0.5 9.5h0m0 1.5h0m0 -231.5h0m0 203.5h0m0 -200h0m0 218h0m0 43.5h0m0.5 -242.5h0m0 178h0m0 -201.5h0m0 240h0m0 -29.5h0m0 -184.5h0m0 225h0m0 -295h0m0.5 86h0m0 -82.5h0m0.5 12h0m0 244h0m0 8.5h0m0 9.5h0m0.5 -201h0m0 -38.5h0m0.5 22h0m0 201h0m0 -177.5h0m0.5 181h0m0 42.5h0m0 -35h0m0 18.5h0m0 40h0m0.5 -250.5h0m0 10h0m0 158h0m0 25h0m0.5 6h0m0 -2h0m0 -19.5h0m0.5 -182h0m0 251h0m0 -56h0m0 -207h0m0 188h0m0 -186.5h0m0 177.5h0m0 3.5h0m0 -217.5h0m0.5 41h0m0 -47h0m0 56h0m0 -53h0m0.5 269.5h0m0 -209.5h0m0.5 -8.5h0m0 178.5h0m0.5 24.5h0m0.5 -12h0m0 48h0m0 -284.5h0m0 257.5h0m0.5 -239h0m0 19.5h0m0 188h0m0 17h0m0 -192.5h0m0.5 186.5h0m0 -9h0m0 3h0m0 -191.5h0m0 181h0m0 19.5h0m0 -207.5h0m0.5 201.5h0m0.5 -177.5h0m0 -10h0m0 184h0m0 -11.5h0m0 -6.5h0m0.5 36.5h0m0 -192h0m0 162.5h0m0.5 71.5h0m0 -74h0m0 71h0m0 -249h0m0 203h0m0 -20h0m0.5 -13h0m0 -153.5h0m0 -20.5h0m0.5 -60.5h0m0 78h0m0 -20h0m0.5 195h0m0 -203h0m0 219.5h0m0 -214.5h0m0 194.5h0m0.5 -181h0m0.5 3.5h0m0.5 166h0m0.5 -195h0m0 33h0m0 188.5h0m0 -205.5h0m0 215h0m0 36h0m0.5 -62.5h0m0 -185.5h0m0.5 195.5h0m0 -189.5h0m0.5 185h0m0 -10.5h0m0.5 -163.5h0m0 -14h0m0 179.5h0m0 41.5h0m0.5 -25.5h0m0 -8.5h0m0 -197h0m0 28.5h0m0 -16h0m0.5 -15h0m0 -55.5h0m0 264.5h0m0.5 -198h0m0 192h0m0 27.5h0m0 -263h0m0.5 52h0m0 -18h0m0 19.5h0m0.5 5.5h0m0.5 170h0m0 37h0m0 -248.5h0m0 293.5h0m0.5 -272h0m0 207h0m0 -208.5h0m0.5 17.5h0m0 -8.5h0m0 192h0m0.5 -4h0m0 -194.5h0m0 -39h0m0 57h0m0.5 191.5h0m0 -198.5h0m0.5 197h0m0 -4.5h0m0.5 -11.5h0m0 -6h0m0 -171h0m0 173.5h0m0 11.5h0m0.5 4h0m0 -21h0m0 -178.5h0m0 -41.5h0m0.5 218.5h0m0.5 -195h0m0 199h0m0.5 6.5h0m0 34h0m0 -236.5h0m0.5 20h0m0 185h0m0.5 -187h0m0 6.5h0m0 187h0m0 -23h0m0.5 19.5h0m0 -197h0m0 3.5h0m0.5 259h0m0 -262h0m0 6.5h0m0.5 -23.5h0m0 34.5h0m0.5 -35.5h0m0 8h0m0.5 195.5h0m0 -3h0m0.5 20.5h0m0.5 -206h0m0 193.5h0m0 -187h0m0 205.5h0m0 3h0m0 -19h0m0.5 -177.5h0m0 181.5h0m0 -186h0m0 166.5h0m0 28.5h0m0 -19.5h0m0.5 -168h0m0.5 -31h0m0.5 21.5h0m0 -19.5h0m0 204h0m0 -187h0m0 -14.5h0m0.5 28h0m0.5 -37h0m0.5 13h0m0 5h0m0 26h0m0 160.5h0m0 9.5h0m0 -14h0m0.5 -2.5h0m0 -166.5h0m0 -3h0m0 14h0m0.5 -19.5h0m0.5 192.5h0m0 -6.5h0m0 -167h0m0.5 -22h0m0 183.5h0m0 -10.5h0m0 -2.5h0m0.5 28.5h0m0 33.5h0m0.5 -261h0m0.5 50h0m0 -27h0m0 35.5h0m0 148h0m0.5 -160h0m0 148.5h0m0.5 -139.5h0m0 -18h0m0 15h0m0 -19.5h0m0.5 160h0m0.5 -150.5h0m0 159h0m0 -146.5h0m0 167.5h0m0 -12h0m0.5 -171h0m1 8.5h0m0 150h0m0.5 -146.5h0m0 -15h0m0.5 8.5h0m0 168h0m0.5 -11.5h0m0 1h0m0 -155.5h0m0.5 12h0m0 167h0m0 3h0m0 -256.5h0m0.5 221h0m0 19.5h0m0 -158.5h0m0 202h0m0 -49.5h0m0 -10h0m0.5 52.5h0m0.5 -39h0m0 15h0m0.5 -289h0m0.5 265h0m0 -158.5h0m0.5 -3.5h0m0 -3.5h0m0 11.5h0m0.5 -14h0m0 -3h0m0.5 174h0m0 -8h0m0 -157.5h0m0.5 169h0m0.5 3.5h0m0.5 45h0m0 -245.5h0m0.5 195h0m0 -165h0m0.5 171h0m0 1.5h0m0 2.5h0m0.5 18h0m0.5 -258.5h0m0 57h0m0 168h0m0 -170.5h0m1 173.5h0m0 -166.5h0m0.5 -31h0m0 19h0m0.5 10h0m0.5 171h0m0.5 -217h0m0 221.5h0m0 17h0m0 -185h0m0.5 171h0m0.5 -167.5h0m0 185h0m0 -30h0m1 3.5h0m0 80h0m0.5 -243.5h0m0 170.5h0m0.5 -209h0m0 40.5h0m0.5 181h0m0.5 -5h0m0 -16.5h0m0 17.5h0m0 -181h0m0.5 -58h0m0 234.5h0m0.5 15.5h0m0 -1.5h0m0 30h0m0.5 -40.5h0m0 -203.5h0m0 -14.5h0m0 261.5h0m0.5 -229h0m0 176h0m0.5 -181.5h0m0 8h0m0 -14h0m0.5 236.5h0m0 -46h0m0 73h0m0 -25h0m0 -235.5h0m0 -8.5h0m0 3h0m0.5 187.5h0m0 -178.5h0m0 3h0m0.5 174.5h0m0 -168.5h0m0.5 213h0m0 -40h0m0 -8.5h0m0 50.5h0m0.5 -39.5h0m0 11.5h0m0 -4.5h0m0.5 5.5h0m0 -203.5h0m0 -11.5h0m0 222h0m0 -13.5h0m0 27.5h0m0 -210h0m0.5 205.5h0m0 -34.5h0m0 -178h0m0.5 186h0m0 63.5h0m0 -30h0m0 -215.5h0m0 164h0m0.5 -157.5h0m0 163.5h0m0.5 -10.5h0m0 109.5h0m0 -27h0m0 -52.5h0m0.5 50.5h0m0 -4.5h0m0 2h0m0.5 -74h0m0.5 5.5h0m0 73h0m0 -240.5h0m0 9.5h0m0 -18.5h0m0.5 203.5h0m0.5 -19h0m0 32h0m0 -227.5h0m0 198h0m0.5 -183h0m0 189.5h0m0 -1h0m0 9.5h0m0 -189h0m0 171.5h0m0 -183h0m0.5 190h0m0 -204h0m0.5 193h0m0 -185.5h0m0 202.5h0m0 11h0m0.5 -40.5h0m0 43h0m0 -37.5h0m0 -182.5h0m0.5 222.5h0m0 -205h0m0 191h0m0 6.5h0m0.5 -203.5h0m0 174h0m0 16.5h0m0 36h0m0 -212.5h0m0 211h0m0 -222h0m0 8.5h0m0.5 168h0m0 8h0m1 -196.5h0m0.5 233h0m0 -20h0m0 -194h0m0.5 174.5h0m0 -176.5h0m0.5 179h0m0 -11.5h0m0.5 -195h0m0 237.5h0m0.5 -40h0m0 37h0m0 -215.5h0m0 212.5h0m0.5 -208h0m0 191h0m0 -13.5h0m0.5 9.5h0m0 -177h0m0.5 215h0m0 -253.5h0m0 29.5h0m0.5 169.5h0m0 51.5h0m0 -240.5h0m0 186h0m0 13.5h0m0 53h0m0.5 -236.5h0m0 -58h0m0 245.5h0m0.5 -191h0m0.5 -2.5h0m0 14h0m0 171h0m0 -193h0m0 -3.5h0m0 32h0m0 -40.5h0m0.5 6.5h0m0 -16.5h0m0 203h0m0 18.5h0m0 -218h0m0 22h0m0 -19h0m0 7h0m0.5 215h0m0 -16h0m0 37.5h0m0.5 -4.5h0m0 -205.5h0m0.5 177h0m0 -17h0m0 -163.5h0m0.5 189.5h0m0 10.5h0m0.5 -28h0m0 -3.5h0m0 -153h0m0.5 185h0m0.5 -190h0m0 -23.5h0m0 200h0m0.5 -189h0m0 167h0m0 -164.5h0m0.5 6.5h0m0 171.5h0m0 4.5h0m0 -191.5h0m0 248h0m0.5 -234h0m0 -22.5h0m0 213h0m0 -28.5h0m0.5 7h0m0 16.5h0m0 -173.5h0m0 167h0m0 -189h0m0.5 182h0m0 -218h0m0.5 45.5h0m0 239.5h0m0.5 -56h0m0 -175h0m0 -27h0m0.5 195.5h0m0 -215.5h0m0 -2.5h0m0.5 266.5h0m0 -59.5h0m0 -173.5h0m0.5 189.5h0m0 68h0m0 -253h0m0 173h0m0 -180h0m0.5 -18.5h0m0 2.5h0m0 29h0m0 -17.5h0m0.5 21h0m0 -93.5h0m0 263.5h0m0.5 22.5h0m0 -4.5h0m0.5 -262h0m0.5 63h0m0 216h0m0 -210.5h0m0 221.5h0m0 -284.5h0m0 248h0m0 -7h0m0 -187h0m0.5 -56.5h0m0 237.5h0m0 9.5h0m0 -204h0m0 -12.5h0m0 -36.5h0m0 241h0m0 -233h0m0 60h0m0 208.5h0m0.5 -5h0m0 -237.5h0m0 19h0m0.5 4.5h0m0.5 -8.5h0m0 -33.5h0m0.5 42h0m0 23.5h0m0 -5.5h0m0 162.5h0m0.5 86h0m0 -270h0m0 -3h0m0.5 194.5h0m0 19h0m0 -186h0m0 -12h0m0.5 177h0m0 15.5h0m0 -5h0m0 -184.5h0m0.5 3h0m0 -70h0m0 247.5h0m0.5 -160.5h0m0 -32.5h0m0 29h0m0 209h0m0.5 -233h0m0.5 201.5h0m0 -7.5h0m0 -10.5h0m0 -8h0m1 4h0m0 -166.5h0m0 17h0m0.5 -9.5h0m0 193.5h0m0 -3h0m0.5 -6.5h0m0 -7h0m0 -23h0m0 -159.5h0m0.5 -14h0m0 189h0m0 -3.5h0m0 41.5h0m0 -240.5h0m0.5 243h0m0 -4.5h0m0 -12h0m0 -212.5h0m0 23h0m0 199h0m0 -237h0m0.5 234h0m0 -20.5h0m0 -184.5h0m0 178.5h0m0.5 3h0m0 -179.5h0m0.5 151h0m0 9.5h0m0.5 4.5h0m0 -164h0m0 -25h0m0.5 178.5h0m0 -216h0m0 235h0m0.5 -180.5h0m0 -52h0m0 245.5h0m0.5 37h0m0.5 -67.5h0m0 -174h0m0 -9.5h0m0 10h0m0.5 14h0m0 -18h0m0 180.5h0m0.5 -181.5h0m0 173h0m0 -210h0m0 224h0m0 -169h0m0 -7.5h0m0.5 -7h0m0 209.5h0m0 -15.5h0m0.5 -184.5h0m0 -30.5h0m0 25.5h0m0.5 181.5h0m0 18.5h0m0 -259h0m0 53h0m0.5 -17.5h0m0 36.5h0m0 211.5h0m0 -25h0m0.5 22.5h0m0 -237.5h0m0 183h0m0 16.5h0m0 -8.5h0m0.5 -199h0m0 42h0m0 168h0m0 4.5h0m0.5 -10h0m0 94h0m0.5 -332.5h0m0 227h0m0 -167.5h0m0 -11.5h0m0 209.5h0m0.5 -212h0m0 31h0m0 187.5h0m0 -198h0m0 182.5h0m0 -186h0m0.5 -29h0m0 21h0m0 220h0m0 -25h0m0 -20h0m0.5 -234h0m0 285h0m0 -237.5h0m0.5 235.5h0m0 -45.5h0m0 29.5h0m0.5 -190.5h0m0 167.5h0m0 -170h0m0.5 -20.5h0m0 195h0m0.5 -177.5h0m0 187h0m0 -226h0m0 13h0m0 10.5h0m0.5 28h0m0 160.5h0m0 -182h0m0.5 -3.5h0m0 -20.5h0m0 41h0m0 -27.5h0m0.5 16h0m0 184.5h0m0 -204h0m0.5 192h0m0 -232h0m0.5 69h0m0.5 178.5h0m0 -258h0m0 291.5h0m0 -216.5h0m0.5 -42.5h0m0 213.5h0m0.5 19h0m0.5 -23.5h0m0 -216.5h0m0 31h0m0 219h0m0 -210h0m0 -20.5h0m0.5 206h0m0 -192h0m0 12h0m0 211.5h0m0 -38.5h0m0 -166.5h0m0.5 2.5h0m0 -21.5h0m0 223.5h0m0 -199h0m0 -20h0m0.5 199h0m0 -213.5h0m0 4.5h0m0 -21.5h0m0 233.5h0m0.5 -10h0m0 -192.5h0m0 7.5h0m0 226h0m0.5 -48.5h0m0 -203.5h0m0 214h0m0 19h0m0 -223h0m0.5 207.5h0m0.5 -20.5h0m0.5 -165h0m0 -27.5h0m0 205.5h0m0 -3.5h0m0 19.5h0m0 25.5h0m0.5 -229.5h0m0 193h0m0 21.5h0m0 -7.5h0m0 -251.5h0m0.5 269h0m0 -214h0m0 167h0m0.5 80.5h0m0 -242.5h0m0 -8h0m0 -38h0m0 30h0m0.5 -6.5h0m0 202h0m0 62h0m0 -262h0m0 8.5h0m0.5 -19.5h0m0 216h0m0 -25h0m0 -193.5h0m0.5 266.5h0m0 -272.5h0m0.5 195h0m0 -183.5h0m0 24h0m0 233h0m0.5 -57.5h0m0 -217.5h0m0 221h0m0 11.5h0m0 -2h0m0 6h0m0 2.5h0m0.5 -270h0m0 55.5h0m0.5 182.5h0m0 -171.5h0m0 178.5h0m0 -172.5h0m0 170.5h0m0.5 -228.5h0m0.5 223h0m0 -219h0m0 24.5h0m0 17.5h0m0 3h0m0.5 192h0m0 -281h0m0 81h0m0.5 204h0m0 -7h0m0 -8h0m0.5 -188h0m0 184.5h0m0 8.5h0m0.5 -207h0m0 190.5h0m0.5 -194h0m0 212h0m0.5 33.5h0m0 -23h0m0.5 -31h0m0 34h0m0 -200h0m0.5 172.5h0m0 31.5h0m0 0h0m0 -23h0m0 -185h0m0.5 7.5h0m0 4.5h0m1 -19h0m0 182.5h0m0.5 7.5h0m0 -10h0m0 -174.5h0m0.5 181h0m0 -168.5h0m0.5 178h0m0.5 10h0m0 7.5h0m0.5 -8.5h0m0 20h0m0 -232.5h0m0 17.5h0m0.5 -6h0m0.5 189h0m0 -177.5h0m0 175h0m0 -168.5h0m0 -16.5h0m0 -9.5h0m0.5 206.5h0m0 -232h0m0 43h0m0 185.5h0m0 -14.5h0m0.5 43h0m0 -46h0m0 39h0m0 -222h0m0.5 -4.5h0m0 26.5h0m0 177h0m0.5 -186.5h0m0 -22h0m0 25.5h0m0 -29.5h0m0 238.5h0m0 -24.5h0m0 -12h0m0 17h0m0 2.5h0m0.5 6.5h0m0 -217h0m0.5 182.5h0m0 -200.5h0m0 25.5h0m0 3h0m0.5 -43.5h0m0 31.5h0m0 221h0m0 -197.5h0m0.5 189h0m0 5h0m0 -1.5h0m0.5 43h0m0 -60.5h0m0 29h0m0.5 -30.5h0m0 -229.5h0m0 3h0m0.5 46h0m0 -24.5h0m0 34h0m0 -25.5h0m0.5 224.5h0m0 -214.5h0m0 195h0m0 -15.5h0m0 18.5h0m0.5 -15h0m0 -215.5h0m0.5 37h0m0 5h0m0 180.5h0m0 -224h0m0 33h0m0 -6.5h0m0 263.5h0m0.5 -261.5h0m0 204h0m0.5 -211.5h0m0 185.5h0m0.5 -166h0m0 200.5h0m0 -225h0m0.5 28.5h0m0 165h0m0 27.5h0m0.5 -13h0m0 3h0m0.5 19h0m0 -25h0m0 -186.5h0m0 195.5h0m0 -240.5h0m0.5 259h0m0 -224.5h0m0 196.5h0m0 -194.5h0m0.5 185h0m0 4.5h0m0 17.5h0m0.5 -229h0m0 207h0m0 -192.5h0m0 12.5h0m0 201h0m0 -188h0m0 175.5h0m1 -181h0m0 -20.5h0m0.5 188.5h0m0 10h0m0.5 8.5h0m0 -208.5h0m0 12h0m0.5 -36h0m0 15h0m0.5 40.5h0m0 -13h0m0 -80h0m0 257h0m0.5 12.5h0m0 -215.5h0m0 211h0m0 -191h0m0.5 12h0m0 249h0m0 -79h0m0 -205.5h0m0 3.5h0m0 -37h0m0.5 50h0m0 183.5h0m0 -177.5h0m0.5 -6h0m0 15h0m0.5 8h0m0.5 -11h0m0 -42.5h0m0 38h0m0 199.5h0m0 -14h0m0.5 25.5h0m0 -260.5h0m0 31h0m0 198h0m0 21h0m0 -238h0m0 -11.5h0m0 61h0m0.5 -1.5h0m0 209h0m0 -229.5h0m0 227.5h0m0 -235h0m0 245h0m0 -40.5h0m0.5 7h0m0 -2.5h0m0.5 -195h0m0 187h0m0 -2h0m0 16h0m1 -204h0m0 221h0m0 -6.5h0m0 -3h0m0 -199.5h0m0 206h0m0.5 6h0m0 -200.5h0m0.5 203.5h0m0.5 -211h0m0 -10h0m0 5.5h0m0 198h0m0.5 -26h0m0 -178.5h0m0 200h0m0 -212h0m0 16h0m0.5 10h0m0 12h0m0.5 180h0m0 -10h0m0.5 16.5h0m0 -30h0m0 40.5h0m0 -230h0m0.5 25h0m0 176h0m0 -223h0m0 21.5h0m0 7.5h0m0 26h0m0 170h0m0 -196h0m0.5 -37.5h0m0 253.5h0m0 -250.5h0m0 2.5h0m0 320.5h0m0 -96.5h0m0 -232.5h0m0.5 61h0m0 -6.5h0m0 171h0m0.5 17.5h0m0 -194.5h0m0.5 239h0m0 -19h0m0 -216.5h0m0 -6.5h0m0.5 196h0m0 2h0m0 -13.5h0m0.5 -170.5h0m0 -25.5h0m0.5 -13h0m0 218.5h0m0 -177h0m0.5 172h0m0 17h0m0 -22.5h0m0.5 -200h0m0 4.5h0m0 20.5h0m0 194h0m0 6h0m0 -211h0m0 178h0m0 -214.5h0m0.5 38h0m0 -24.5h0m0 238h0m0 -240h0m0.5 39.5h0m0 -29h0m0 11h0m0.5 199.5h0m0 66h0m0 -88h0m0 -168h0m0.5 -11.5h0m0 188.5h0m0 5h0m0 -5.5h0m0.5 -185h0m0 262.5h0m0.5 -249h0m0 9.5h0m0 -51h0m0 231h0m0.5 -11h0m0 -187.5h0m0.5 16.5h0m0 160.5h0m0.5 -184h0m0 6h0m0 23.5h0m0 228h0m0.5 -313.5h0m0 69h0m0 175h0m0 -169h0m0 160.5h0m0 13.5h0m0.5 7h0m0 -176.5h0m0 191.5h0m0 -4h0m0.5 -185.5h0m0 -14h0m0.5 -28h0m0 21h0m0.5 202.5h0m0 -217h0m0 212.5h0m0 26.5h0m0 -25h0m0 -204.5h0m0.5 230h0m0 -44h0m0.5 -166.5h0m0 174h0m0.5 -176h0m0 172.5h0m0.5 -181.5h0m0 -19h0m0 224h0m0 -244h0m0 33.5h0m0 28h0m0.5 -18.5h0m0 -15h0m0 214h0m0 11.5h0m0 -28.5h0m0 14h0m0.5 -180h0m0 195h0m0.5 -27h0m0 -8h0m0.5 -7.5h0m0.5 -159h0m0 -22.5h0m0.5 10h0m0 176h0m0 6h0m0 -176h0m0 14h0m0.5 -23h0m1 13h0m0 157h0m0 -182.5h0m0 -6.5h0m0.5 31h0m0 -7h0m0 172.5h0m0 -179.5h0m0.5 192h0m0 -199h0m0 26h0m1 152h0m0 -159.5h0m0.5 178.5h0m0 28.5h0m0 -44h0m0 44h0m0.5 -193h0m0 -24h0m0 16h0m0 -34.5h0m0.5 208.5h0m0 -213.5h0m0 246h0m0 -205h0m0.5 168h0m0 -7.5h0m0 -150.5h0m0.5 -37.5h0m0 14h0m0 177h0m0.5 -175h0m0.5 7h0m0 171.5h0m0.5 37h0m0 -197.5h0m0 148h0m0 -168.5h0m0.5 169h0m0 8.5h0m0 -183.5h0m0 12.5h0m0.5 -11.5h0m0 191.5h0m0 17h0m0.5 15.5h0m0 -31h0m0 -172h0m0 206h0m0.5 -231h0m0 237h0m0 -251.5h0m0 35h0m0.5 -9.5h0m0 185h0m0.5 -8.5h0m0 -5h0m0 69h0m0 -5h0m0 2h0m0 -4.5h0m0.5 -30.5h0m0 50.5h0m0 -262.5h0m0 16.5h0m0 191h0m0 -8.5h0m0.5 -219h0m0 14h0m0 -16h0m0.5 -2h0m0 237.5h0m0.5 3.5h0m0 -205.5h0m0 192h0m0.5 -183h0m0.5 196h0m0 -33.5h0m0 6.5h0m0.5 3.5h0m0 -191h0m0 8h0m0 172.5h0m0 45h0m0 -31.5h0m0.5 16.5h0m0 -3h0m0 -223.5h0m0 30.5h0m0 -68.5h0m0 318.5h0m0 -251.5h0m0.5 172.5h0m0 11.5h0m0 -179h0m0 183h0m0 -258h0m0.5 41h0m0.5 39.5h0m0.5 -27h0m0 8h0m0 261h0m0 -36.5h0m0.5 -235.5h0m0 25h0m0 204.5h0m0 -221h0m0 181h0m0.5 41h0m0 -27.5h0m0 -188h0m0 -84.5h0m0 266h0m0 -177h0m0.5 179.5h0m0 -197h0m0 192h0m0 17.5h0m0 -3.5h0m0.5 11.5h0m0.5 -213h0m0 246h0m0 -222.5h0m0.5 192.5h0m0 -11.5h0m0 76h0m0 -83h0m0.5 -189.5h0m0 -4.5h0m0 179.5h0m0 10h0m0 -172h0m0.5 170.5h0m0 19h0m0.5 -196h0m0 187h0m0 32h0m0.5 -292.5h0m0 276h0m0.5 51h0m0 -242.5h0m0 162h0m0 55h0m0 -297.5h0m0 248h0m0.5 -250h0m0 69.5h0m0 -54h0m0 252.5h0m0 3.5h0m0.5 -249.5h0m0.5 243.5h0m0 9.5h0m0.5 -198h0m0 -17.5h0m0.5 25h0m0 -10h0m0 181.5h0m0 -10.5h0m0 -188h0m0 194.5h0m0 -189.5h0m0 -6.5h0m0 13h0m0.5 189.5h0m0 -194h0m0 191.5h0m0 30h0m0 2h0m0 -213.5h0m0.5 209.5h0m0 -43.5h0m0 -162h0m0.5 207.5h0m0.5 -201h0m0 163h0m0 -167.5h0m0.5 -35.5h0m0 25h0m0.5 183h0m0.5 -186h0m0 175.5h0m0.5 -203.5h0m0 -37.5h0m0 244.5h0m0 12.5h0m0.5 14.5h0m0 -211h0m0 13.5h0m0 -29.5h0m0 207h0m0 8.5h0m0 -200.5h0m0 -41.5h0m0 220h0m0.5 -171h0m0.5 6.5h0m0 11.5h0m0 -8.5h0m0 3.5h0m0.5 176.5h0m0.5 -9.5h0m0 -177.5h0m0.5 -64.5h0m0 51h0m0 -23h0m0 229h0m0.5 -13h0m0 -190h0m0 231h0m0 -287.5h0m0 238.5h0m0 52h0m0.5 -11h0m0 -230.5h0m0 184.5h0m0 -214h0m0 41h0m0.5 183h0m0 11.5h0m0.5 -190.5h0m0 -24.5h0m0 10.5h0m0.5 -2.5h0m0 19.5h0m0 183.5h0m0.5 82.5h0m0 -324h0m0 64h0m0 186h0m0.5 -256h0m0 3h0m0 63h0m0 167h0m0.5 32h0m0.5 -211.5h0m0 6h0m0 -9h0m0.5 186.5h0m0 -207.5h0m0 211h0m0.5 -196h0m0 199h0m0 -217h0m0 31h0m0.5 8h0m0 182.5h0m0.5 -14.5h0m0 19.5h0m0 -181.5h0m0 -9.5h0m0 166.5h0m0 42h0m0.5 -235.5h0m0 224.5h0m0 -9h0m0.5 51.5h0m0 -249h0m0 201.5h0m0.5 -185.5h0m0 160h0m0 12.5h0m0.5 -203h0m0 4h0m0 -9.5h0m0 32h0m0.5 172.5h0m0.5 -210h0m0 229h0m0 -207.5h0m0.5 5h0m0 191.5h0m0 -227h0m0 40.5h0m0 -14.5h0m0 17h0m0.5 7.5h0m0 -12h0m0 -14.5h0m0 -14h0m0 221.5h0m0.5 18.5h0m0 -5h0m0 -217h0m0 -58.5h0m0 264.5h0m0 -263.5h0m0 267.5h0m0 19.5h0m0.5 -2h0m0 -7h0m0 -194.5h0m0 2.5h0m0 -25h0m0 228.5h0m0 -10h0m0 3h0m0.5 10.5h0m0 -17.5h0m0 -201h0m0 226.5h0m0.5 -7h0m0 1.5h0m0.5 -42.5h0m0 -180.5h0m0 185h0m0.5 -7h0m0.5 -198.5h0m0 32h0m0.5 -7h0m0 188h0m0 -204.5h0m0.5 201.5h0m0 -180.5h0m0.5 -13h0m0 198h0m0.5 37.5h0m0 -31h0m0 -23.5h0m0 4.5h0m0.5 -167h0m0.5 -102.5h0m0 80.5h0m0.5 7.5h0m0 9.5h0m0 181.5h0m0 -184.5h0m0.5 -49.5h0m0.5 231h0m0 -10h0m0 -175h0m0 177.5h0m1 21h0m0 -208.5h0m0 192h0m0.5 -228.5h0m0 57.5h0m0 -17h0m0 203h0m0 -209h0m0 -2h0m0 15.5h0m1 182.5h0m0 -12.5h0m1 -188h0m0 186.5h0m0 -164h0m0 4h0m0.5 195h0m0 -28.5h0m0 -176h0m0.5 -76.5h0m0 36h0m0 42h0m0 -26h0m0 223h0m0 -32.5h0m0.5 38.5h0m0 -221.5h0m0 8.5h0m0 191h0m1 -192.5h0m0 23h0m0 -18h0m0 -23h0m0.5 5.5h0m0 209h0m0 -191.5h0m0 -42.5h0m0.5 -5.5h0m0 225.5h0m0.5 4.5h0m0 -233h0m0 6h0m0 221.5h0m0 11.5h0m0.5 -255h0m0 70h0m0 5.5h0m0 171.5h0m0 -190h0m0 23h0m0 188h0m0.5 -30h0m0 -205.5h0m0 244h0m0 -233.5h0m0 243.5h0m0 -212.5h0m0.5 -73.5h0m0 264h0m0 -22.5h0m0.5 -170h0m0 179h0m0 -169h0m0 -26.5h0m0 -44.5h0m0 51.5h0m0.5 195.5h0m0 6h0m0.5 -224.5h0m0.5 219.5h0m0 -200.5h0m0 216.5h0m0 32.5h0m0 -62.5h0m0 -211.5h0m0 34h0m0 246h0m0.5 -231h0m0.5 -3.5h0m0 -16h0m0 11.5h0m0 184.5h0m0.5 -5.5h0m0 -15.5h0m0 -184.5h0m0 241.5h0m0 -51h0m0.5 10h0m0 -4.5h0m0.5 -164.5h0m0 -33h0m0 215h0m0 -195h0m0.5 5h0m0.5 189h0m0.5 -210.5h0m0 192h0m0 -177h0m0 3.5h0m0 204h0m0.5 21h0m0 -47h0m0 -188h0m0.5 191h0m0 -173h0m0.5 6h0m0 -26.5h0m0 176.5h0m0.5 5h0m0 -213.5h0m0 231h0m0 -183.5h0m0.5 191.5h0m0 -201h0m0 -3.5h0m0 -63.5h0m0.5 244.5h0m0 -244.5h0m0 278h0m0.5 -222h0m0 16h0m0 179h0m0 20.5h0m0 2.5h0m0 18h0m0 -51.5h0m0.5 -166.5h0m0 -22.5h0m0 -43h0m0 255h0m0 -184.5h0m0 5h0m0.5 175.5h0m0 -200.5h0m0 248.5h0m0 -240h0m0.5 180.5h0m0 58h0m0 -253.5h0m0 207.5h0m0 -5h0m0 -207h0m0.5 205.5h0m0 23.5h0m0 -220.5h0m0.5 -32h0m0 257h0m0 -240.5h0m0 -5h0m0 -13.5h0m0 54h0m0.5 190.5h0m0 -201h0m0 -4.5h0m0.5 -20.5h0m0 228.5h0m0 -25.5h0m0 30h0m0 -251.5h0m0 278.5h0m0.5 29h0m0.5 -258.5h0m0.5 185h0m0 53.5h0m0.5 -61.5h0m0 -242h0m0 39.5h0m0 251.5h0m0 -22.5h0m0 -237.5h0m0 24h0m0 -5h0m0 195h0m0.5 12h0m0 31h0m0 -244h0m0 -18h0m0 261h0m0 -226.5h0m0 192.5h0m0.5 -185.5h0m0 -17h0m0 202h0m0 -206h0m1 214.5h0m0 -204h0m0 220.5h0m0 -247.5h0m0 33h0m0.5 214h0m0.5 27h0m0 -39.5h0m0 30.5h0m0 -46.5h0m0 -194.5h0m0 -12.5h0m0 268.5h0m0 -314.5h0m0.5 291.5h0m0 -242.5h0m0.5 231h0m0 -233h0m0 17.5h0m0.5 184h0m0 45.5h0m0 -273.5h0m0 242h0m0.5 67.5h0m0 -287h0m0.5 215.5h0m0 54h0m0 -45h0m0 -13.5h0m0 23.5h0m0.5 -6h0m0 -205.5h0m0 252.5h0m0 -9h0m0.5 -285h0m0 31h0m0 203.5h0m0 15.5h0m0 -22h0m0.5 51h0m0 -251h0m0 186.5h0m0 -178h0m0 -7h0m0.5 226h0m0 -35h0m0 67h0m0 -50.5h0m0 -209.5h0m0 219.5h0m0.5 10h0m0 -231.5h0m0 -41h0m0 240h0m0.5 -5.5h0m0 10.5h0m0 -18h0m0.5 30h0m0 -199h0m0.5 -26.5h0m0 257.5h0m0.5 -41h0m0 -195h0m0 169.5h0m0 40.5h0m0 -34.5h0m0.5 -180.5h0m0 191.5h0m0 27.5h0m0.5 -36.5h0m0 14.5h0m0.5 8h0m0 -1h0m0.5 -8.5h0m0.5 -187h0m0 -3.5h0m0 183.5h0m0 -195h0m0 208.5h0m1 -16h0m0 -12.5h0m0.5 3h0m0.5 3h0m1 -9.5h0m0 -170h0m0 -101h0m0 105h0m0 202.5h0m0 6h0m0.5 -22.5h0m0 -177.5h0m0 -17.5h0m0.5 -17h0m0 270h0m0 -73h0m0.5 75h0m0 -245.5h0m0 -36h0m0 4h0m0.5 277.5h0m0.5 -79h0m0 -10.5h0m0 3.5h0m0.5 -156.5h0m0 9h0m0 -63h0m0 193.5h0m0.5 -138.5h0m0 148.5h0m0 -212.5h0m0 206h0m0.5 -19.5h0m0 -16.5h0m0.5 3.5h0m0.5 -106h0m0.5 97.5h0m0 51h0m0.5 -148.5h0m0.5 132h0m0 -139h0m0.5 13.5h0m0 99.5h0m0 -2.5h0m0.5 -11h0m0.5 8h0m0 -101h0m0 96h0m0 -121h0m0.5 135h0m0 -115h0m0 -21.5h0m0.5 19h0m0.5 12.5h0m0.5 93h0m0 -129h0m0.5 134.5h0m0 -10h0m0.5 -96h0m0 -4h0m0.5 7.5h0m1 -11h0m0 115h0m0.5 -128.5h0m0 12h0m0 10.5h0m0.5 111h0m0 18h0m0.5 -31.5h0m0.5 22h0m0 -27.5h0m0 8h0m0 -104.5h0m0.5 176.5h0m0.5 -43h0m0.5 -138h0m0 -3.5h0m0.5 182h0m0 -72.5h0m0 -98.5h0m0 111h0m0 -137h0m1 156.5h0m0 -151h0m0.5 143.5h0m0 -10.5h0m0 -4.5h0m0 -122.5h0m0 118h0m0.5 -112.5h0m0 12.5h0m0.5 114h0m0 44.5h0m0 -64.5h0m0.5 31h0m0 -130h0m0.5 112.5h0m0 12.5h0m0.5 -126h0m0 105h0m0 7h0m0.5 -111.5h0m0.5 132.5h0m0 -138.5h0m0.5 171h0m0.5 -165h0m0 125h0m0 -116h0m1 105h0m0 -133.5h0m0 -24.5h0m0 153.5h0m0 -103.5h0m0.5 145.5h0m0 -154.5h0m0 121h0m0 -151h0m0.5 35h0m0 121.5h0m0.5 -157.5h0m0.5 35.5h0m0.5 124h0m0 -128.5h0m0.5 6.5h0m0.5 119h0m0 -130.5h0m0 176h0m0 -57.5h0m0.5 6.5h0m0 32.5h0m0 -35.5h0m0.5 -113.5h0m0 141h0m0.5 -153.5h0m0 130.5h0m0.5 -123.5h0m0 137h0m0.5 4h0m0 -176.5h0m0 46.5h0m0.5 183h0m0 -51h0m0 -23.5h0m0 -104.5h0m0 117h0m0.5 13.5h0m0 2h0m0.5 -188.5h0m0 244.5h0m0 -198.5h0m0 -3.5h0m0 186h0m0.5 -53.5h0m0 5h0m0.5 -147.5h0m0 150.5h0m0 -125.5h0m0 107h0m0.5 -111h0m0 119.5h0m0 -137h0m0.5 118.5h0m0 -90h0m0.5 -17h0m0 103.5h0m0 48.5h0m0 -162.5h0m0 133.5h0m0.5 -120h0m0 114h0m0 -123h0m0 18.5h0m0.5 -56h0m0 153.5h0m0.5 4h0m0 -137.5h0m1 20.5h0m0 134.5h0m0.5 -20h0m0 -9.5h0m0 32.5h0m0 -126h0m0 117h0m0 3h0m0.5 -124h0m0 133h0m0.5 -126.5h0m0 1.5h0m0 109h0m0 -2.5h0m0.5 -12h0m0.5 44.5h0m0 -36h0m0 -115.5h0m0 131h0m0.5 -27h0m0 84h0m1 -188h0m1 7.5h0m0 -49h0m0.5 45h0m0 113.5h0m0.5 -8.5h0m0 4h0m0 -103h0m1 -0.5h0m0 116h0m0 -114.5h0m0.5 4h0m0.5 -10h0m0.5 11.5h0m0 93.5h0m0.5 40h0m0 -156h0m0.5 150h0m0 -143.5h0m0.5 115h0m0.5 8h0m0.5 -2.5h0m0 -1.5h0m0 -102h0m0.5 -19h0m0 2.5h0m0 -19h0m0 140.5h0m0 -127.5h0m0 13h0m0 107.5h0m0 68.5h0m0 -189h0m0.5 17.5h0m0 130h0m0 -131.5h0m0 -54h0m0 154h0m1 -4.5h0m1 -101.5h0m0 170h0m0.5 -168h0m0 106h0m0.5 -96h0m0 94h0m0.5 6h0m0.5 11.5h0m0.5 -117h0m0 180.5h0m0.5 -75h0m0 -172.5h0m0.5 69h0m0 108h0m1 39.5h0m0 -35h0m0 -118.5h0m0.5 139.5h0m0 6h0m0 -156h0m0 205h0m0 15h0m0 19h0m0 -116.5h0m0 -115.5h0m1 11.5h0m0 -13.5h0m0 111.5h0m0 30.5h0m0.5 -130h0m0 119.5h0m0 -7.5h0m1 -158h0m0.5 29.5h0m0 12h0m0 -10.5h0m0.5 139.5h0m0 -1h0m0.5 -153.5h0m0.5 -6h0m0 154h0m0 -14.5h0m0 -143h0m0 33h0m0.5 111.5h0m0.5 -105.5h0m0.5 114h0m0 -108.5h0m0.5 100.5h0m0 5h0m0.5 -108.5h0m1 -9h0m0 -7.5h0m0.5 12h0m0 -7.5h0m0 130h0m0 5h0m0.5 -138h0m0.5 121h0m0 8.5h0m0 -3.5h0m0.5 -104.5h0m0.5 -5h0m0.5 10h0m0 149.5h0m0 -202h0m0 184h0m0.5 -143.5h0m0 -8h0m0 125h0m0.5 -113.5h0m0.5 111.5h0m0 -163.5h0m0.5 44.5h0m0 114h0m0 15.5h0m0 -14.5h0m0.5 11.5h0m0 -137h0m0.5 134h0m0 -119h0m0 5h0m0 86h0m0 -82.5h0m0.5 93.5h0m0 -105h0m0.5 -3h0m0 12h0m0.5 88h0m0 -92h0m0.5 -25.5h0m0 14h0m0 96.5h0m0.5 -100.5h0m0.5 -22.5h0m0 112.5h0m0.5 -85.5h0m0.5 -6h0m0 95.5h0m0.5 -77h0m0 4.5h0m0.5 76h0m0 1h0m0.5 6.5h0m0 -127h0m1 110.5h0m0 -69.5h0m0.5 74.5h0m0.5 -80.5h0m0 10.5h0m0.5 59.5h0m0.5 3.5h0m0.5 -73h0m0 8h0m0.5 -5.5h0m0.5 75h0m0 -73.5h0m0 63.5h0m0.5 -69.5h0m1 70h0m0.5 -55.5h0m0.5 61h0m0.5 16.5h0m0 -26.5h0m0.5 -40h0m0 -5h0m0 12.5h0m0.5 -36.5h0m0 61.5h0m0 -28.5h0m0.5 78h0m0.5 -41h0m0.5 -28.5h0m0 38.5h0m0.5 -14.5h0m1 -40.5h0m0 5h0m0.5 6h0m0 -9h0m0.5 5h0m0.5 32.5h0m0 5.5h0m0.5 -29.5h0m1 29.5h0m0.5 -9.5h0m0 6h0m0.5 -30h0m1 -4h0m0 10h0m0.5 22h0m0 12h0m0 -36.5h0m1 31h0m0.5 3.5h0m0 -46h0m0 18.5h0m0.5 -11.5h0m0 32.5h0m1 -7h0m0.5 -21.5h0m0.5 54h0m0 -16.5h0m0.5 -32h0m0 20.5h0m0 -31.5h0m0.5 35h0m0.5 -42.5h0m1 9h0m0 48h0m1 -41h0m0 17.5h0m0 2h0m1 10.5h0m0.5 -32h0m0.5 -0.5h0m0 29.5h0m0 -58h0m0 53h0m0.5 2h0m0.5 -3.5h0m0 -27.5h0m0 31h0m0.5 -33h0m1 -4.5h0m0 -4.5h0m0.5 47.5h0m0.5 -12h0m0 -24.5h0m0 7.5h0m1.5 -4h0m0 43.5h0m0.5 -19.5h0m0.5 8.5h0m0 -31h0m0.5 26.5h0m0 19.5h0m0.5 -24.5h0m0 -17h0m0 37.5h0m2 -18h0m0 -15h0m0.5 -9h0m0.5 20.5h0m0.5 7.5h0m0 5.5h0m0 -2.5h0m0.5 -27h0m0.5 22.5h0m0 -18h0m0.5 29.5h0m0 -41h0m0.5 25h0m0 -22h0m0 -6h0m1.5 31.5h0m2 -25.5h0m0 28.5h0m0.5 25h0m0 -44h0m0 11.5h0m1.5 -20h0m0 -5h0m1 7h0m0 3.5h0m0 1h0m0.5 18h0m0.5 -23h0m1.5 28.5h0m0.5 18.5h0m0 -23h0m0.5 -22h0m1 22h0m0.5 -16h0m0 -4h0m0 33.5h0m0 -2.5h0m1 3h0m0.5 -10h0m0 1.5h0m0.5 7h0m0 -37h0m0.5 22.5h0m0 35h0m0 -60h0m1 70h0m0 -62.5h0m0.5 36.5h0m0 -10h0m0.5 10h0m0.5 -42.5h0m0 34.5h0m0.5 -29h0m0 -14.5h0m2.5 30.5h0m0 44h0m0.5 -3h0m0 -3h0m0 -56.5h0m1 -2h0m1 6.5h0m1 -0.5h0m0 -7h0m0.5 2h0m0 31.5h0m1 -11h0m0.5 3.5h0m0 -17.5h0m0.5 21.5h0m0 -0.5h0m0 -7.5h0m0.5 -19.5h0m1.5 0h0m0 7h0m0.5 -10.5h0m1 47.5h0m0 -19h0m0.5 16.5h0m0 -21h0m0.5 -22h0m0 31.5h0m0.5 -27h0m0.5 16h0m0 -30h0m0 11.5h0m0.5 -18h0m1 45.5h0m0 -40h0m0 -13h0m0.5 13.5h0m0 34h0m0.5 -56.5h0m0.5 58h0m0 -27h0m0.5 -14.5h0m0.5 21h0m0.5 -10.5h0m0 8.5h0m0 19.5h0m0 -1h0m0.5 -14.5h0m0.5 19.5h0m0.5 -28h0m0 0.5h0m0.5 5h0m0.5 14h0m1 -33.5h0m0 -1h0m1 46h0m0 2.5h0m0 -7.5h0m0.5 -21.5h0m0 19h0m0.5 -13.5h0m0 -11h0m1 35h0m0.5 -33h0m0.5 44h0m0.5 -39.5h0m0 21h0m1 2.5h0m0.5 -30.5h0m0 3h0m0.5 4h0m0.5 2h0m0 -8.5h0m0 35.5h0m0.5 -3.5h0m0.5 10.5h0m1 -52h0m0 19h0m0 17h0m1 -22h0m0 24.5h0m0.5 -5.5h0m0.5 -22h0m1 4.5h0m1 -7.5h0m0 11.5h0m0.5 23.5h0m0 -27.5h0m0 21h0m0.5 3h0m0.5 -27h0m2.5 6h0m0 20h0m0 -5h0m0.5 -23h0m0 1.5h0m1 30.5h0m0 -27h0m1 3.5h0m0 16h0m0.5 9.5h0m0 -3.5h0m1 -55.5h0m0.5 -10.5h0m0 73.5h0m0.5 -3h0m0.5 -27.5h0m0 23h0m0.5 -17h0m0.5 -3.5h0m0.5 19.5h0m0 -24.5h0m0.5 -24h0m0 72.5h0m0.5 -50.5h0m0 33h0m0.5 -4h0m0.5 -8.5h0m0.5 5h0m0.5 -22h0m1 4h0m0 -21h0m0.5 14h0m0 57h0m0.5 -34h0m0.5 7h0m0 -68.5h0m0.5 60.5h0m0 5.5h0m0.5 -30h0m0.5 -3.5h0m0 9.5h0m0 -5.5h0m0.5 -11.5h0m0.5 -4h0m0 -6.5h0m1 28.5h0m0 21h0m0.5 -29.5h0m0 -11h0m0 9h0m0 35h0m0 4.5h0m0 -11h0m0.5 23h0m0 -14h0m0.5 9h0m0 -40.5h0m0.5 40h0m0.5 -15.5h0m0.5 8.5h0m0.5 -42.5h0m0.5 6h0m0.5 31.5h0m0.5 -23.5h0m0 51.5h0m0 -66h0m0.5 50h0m0.5 -40h0m0.5 49h0m0 -19h0m0.5 -34.5h0m0.5 27h0m0 13h0m0 47.5h0m0.5 -77.5h0m0 56h0m0 24h0m0.5 -59.5h0m0 11h0m0 -8h0m0 3.5h0m0.5 -38.5h0m0 8h0m0.5 -20.5h0m0 59.5h0m0.5 -16.5h0m0 -25.5h0m1 35h0m0.5 13.5h0m0 -3.5h0m1 -40h0m0.5 26.5h0m0 7h0m0.5 -36.5h0m0 49.5h0m0 -14.5h0m0.5 -33.5h0m0 -34.5h0m0.5 20h0m1 41.5h0m0.5 -30h0m0.5 34.5h0m0 -3.5h0m0.5 2h0m0 -38.5h0m0.5 -28h0m0 26h0m0.5 11h0m0 -6h0m0.5 -12h0m0.5 16.5h0m0 43.5h0m0.5 -61.5h0m0.5 7h0m0 -3.5h0m0 71h0m0 -3h0m0 -57.5h0m0 63.5h0m0 -67h0m0.5 34h0m0 8.5h0m0.5 -2.5h0m1 9h0m0 -42.5h0m0.5 59h0m0.5 -57h0m0 28h0m0 -38h0m2 51h0m0 -45h0m0 -28h0m0 99.5h0m0 -35.5h0m0 -39h0m0.5 -26.5h0m0 6h0m0 55h0m1 -29h0m0 39.5h0m0.5 -43.5h0m0.5 55h0m0 -10h0m0 3.5h0m0.5 -61.5h0m0 82h0m0 -17.5h0m0 -10.5h0m0 -40h0m0.5 36.5h0m0 -44h0m1 42h0m0.5 -66h0m0 36h0m0.5 43h0m0.5 4.5h0m0 -0.5h0m0.5 -55.5h0m1 38h0m0 7.5h0m0 -42h0m0.5 44.5h0m0 -50h0m0 10h0m0.5 -14h0m0 49.5h0m0.5 3.5h0m0.5 -41.5h0m0 -14.5h0m0.5 71.5h0m0 -19.5h0m0.5 80.5h0m0.5 -79.5h0m0 -2h0m0.5 -42h0m0 81h0m0 -78.5h0m0.5 -26.5h0m0 87.5h0m1 -85h0m0 75h0m0 -45.5h0m0.5 35.5h0m0.5 -37.5h0m1 -7h0m0.5 -53h0m0 100.5h0m0.5 -45h0m0 59h0m0 -63.5h0m0 42.5h0m0.5 -44.5h0m0 73h0m0 -75h0m0 61.5h0m0.5 -65h0m0 10h0m0.5 47.5h0m0 -41.5h0m0 -18h0m0.5 97.5h0m0.5 -42h0m0.5 -53h0m0 16.5h0m0 -20h0m0.5 -5h0m0 69h0m0.5 27h0m0.5 -81.5h0m0 5.5h0m0 53h0m0.5 -67.5h0m0 77h0m0 -80h0m0.5 26h0m1 -8.5h0m0 -10h0m0.5 60h0m0.5 -58h0m0 53.5h0m0 -42h0m0 1.5h0m0.5 -14h0m0 -3.5h0m0.5 15.5h0m0 49.5h0m0 42.5h0m0 -5.5h0m0.5 -106.5h0m0 109.5h0m0.5 -10h0m0 -14.5h0m0 42h0m0 -59h0m0.5 -66.5h0m0 80h0m0 -67h0m0 57h0m0.5 -41h0m0 48h0m1 -54h0m0 -11.5h0m0.5 57h0m0 4h0m0 -55h0m0.5 -12h0m0.5 68.5h0m0.5 -49h0m0 72h0m1 -75.5h0m0.5 -3.5h0m0 47.5h0m1.5 -39h0m0 41h0m0.5 58.5h0m0 -10.5h0m0 3.5h0m0 3.5h0m0 -50.5h0m0 3.5h0m0.5 54h0m0.5 -32.5h0m0.5 -77h0m0 78.5h0m0 -81.5h0m0.5 -46h0m0 154h0m0 -101.5h0m0.5 65.5h0m0 -16h0m0 -44h0m0.5 47h0m0 4.5h0m0 -71h0m0 -12h0m0.5 70h0m0 -53h0m0.5 89h0m0 -15h0m0.5 -68.5h0m0 48.5h0m0.5 -45h0m0 -7.5h0m0.5 58.5h0m0 -5.5h0m0.5 -57h0m0.5 -22h0m0 39.5h0m0 -38.5h0m0 -23.5h0m0.5 42h0m0 -29.5h0m0 37.5h0m0.5 -29h0m0 36.5h0m0 -13.5h0m0 67h0m0.5 -5.5h0m1 -52h0m0 68.5h0m0 -73.5h0m0 -6.5h0m0 68.5h0m0.5 -9.5h0m2 -51h0m0.5 6h0m0.5 46.5h0m0 -67h0m0 71.5h0m0 8.5h0m0.5 -77h0m0 15.5h0m0.5 -26.5h0m0 114h0m0.5 -113.5h0m0 91h0m0 -93.5h0m0 82.5h0m0 -62h0m0 -23h0m0.5 88.5h0m1 -66h0m0 -42.5h0m0 122h0m0 -78h0m0 -24h0m0 -3.5h0m0.5 95h0m0 -98.5h0m0 105h0m0.5 -132h0m0.5 116.5h0m0 -51h0m0.5 66.5h0m0.5 -3h0m1 -68h0m0 126h0m0 -127h0m0.5 75h0m0 -78.5h0m0 10.5h0m0.5 59.5h0m0 -71.5h0m0.5 -19.5h0m0 26.5h0m0 136.5h0m0 7h0m0 -136h0m0.5 52h0m0 -3h0m0.5 -3h0m0 26.5h0m0 -76h0m0.5 63.5h0m0 -8.5h0m0 19.5h0m0.5 16h0m0 -92h0m0.5 -72.5h0m0 133.5h0m0 -136.5h0m0 209.5h0m0.5 -164.5h0m0 -32.5h0m0 49.5h0m0.5 77h0m0 51h0m0 -119.5h0m0.5 -20h0m0.5 79h0m0 -62.5h0m0.5 79h0m0 -8.5h0m0 -75.5h0m0 73h0m0 55h0m0.5 -19h0m0 -118h0m0 27.5h0m0.5 64.5h0m0 -15h0m0.5 -58.5h0m0.5 6h0m0 98.5h0m0 -101.5h0m0 92.5h0m0 58.5h0m0 -72.5h0m0.5 -82h0m0 99.5h0m0.5 -27h0m0 -19h0m0 -50.5h0m0 60.5h0m0.5 -4.5h0m0.5 59h0m0 -38.5h0m0 -12.5h0m1 -114.5h0m0.5 42h0m0 11.5h0m0.5 54h0m0 -5.5h0m0 18h0m0.5 10.5h0m0 -86.5h0m1 69h0m0 13.5h0m0 -2.5h0m0.5 29h0m0.5 -43.5h0m0.5 -142h0m0 139h0m0.5 16h0m0 -71h0m0 -3h0m0 71h0m0.5 -75.5h0m0.5 70.5h0m0.5 -75.5h0m0 69h0m0 72h0m0.5 -132h0m0 5.5h0m0.5 57.5h0m0 -59.5h0m1 98h0m0.5 -31.5h0m0 -72h0m0 82h0m0.5 -14h0m0 16.5h0m0.5 -87.5h0m0 74.5h0m0 3.5h0m0.5 2h0m0.5 17h0m0.5 -25.5h0m0 27.5h0m0 26.5h0m0.5 -119h0m0 2.5h0m0.5 -7.5h0m0 104.5h0m0.5 -108h0m0 99h0m0 -19h0m0 4.5h0m0.5 2.5h0m0 58.5h0m0.5 -6.5h0m0 17h0m0 -3.5h0m0.5 -3.5h0m0 -6.5h0m0 -71.5h0m0 -71h0m0.5 91.5h0m0 -15.5h0m0 -109h0m0 117h0m0 -94.5h0m0.5 -26h0m0 148.5h0m0 4.5h0m0.5 -25h0m0 -85.5h0m1 -6.5h0m0 4h0m0.5 69h0m0.5 15.5h0m0 -85.5h0m0 80.5h0m0 -5.5h0m1 -73h0m0 3.5h0m0 59.5h0m0 5h0m0 -76h0m0.5 -2.5h0m0.5 96h0m0.5 -4h0m0 -125h0m0.5 118.5h0m0 -85.5h0m0 18h0m0.5 77h0m0.5 -125h0m0.5 106h0m0 -64h0m0 -18.5h0m0 107h0m0 -10h0m0 12.5h0m0.5 -122h0m0.5 103.5h0m0 5.5h0m0 -101h0m0.5 92h0m0 -62.5h0m0 135h0m0.5 7.5h0m0.5 -147.5h0m0 72h0m0 13h0m0 -88h0m0.5 -7.5h0m0.5 83h0m0 -69.5h0m0 64.5h0m0 -115h0m0 32h0m0.5 100h0m0.5 -89.5h0m0 -36h0m0 122h0m0 -132.5h0m0 22.5h0m0.5 115.5h0m0 -5.5h0m0.5 -162.5h0m0 153.5h0m0 18h0m0.5 -91h0m0 106h0m0.5 -31.5h0m0 -6h0m0 -81h0m0.5 134h0m0 -128h0m0 145.5h0m0 -141.5h0m0.5 126.5h0m0 2h0m0 -135h0m0 12.5h0m0 -29.5h0m0.5 154h0m0 15.5h0m0 -72.5h0m0.5 4.5h0m0 16.5h0m0 -134h0m0 150.5h0m0.5 -115.5h0m0 -37.5h0m0 125.5h0m0 -122.5h0m0 36h0m0 10.5h0m0.5 120h0m0 -39.5h0m0 -102h0m0 -6h0m0 91h0m0.5 22h0m0 -12.5h0m0.5 -5h0m0 -88h0m0.5 16h0m0 88.5h0m0 -111h0m0.5 20.5h0m0 74.5h0m0 9.5h0m0.5 -127.5h0m0 157.5h0m0.5 -46h0m0 27h0m0 -91h0m0 5h0m0 88h0m0.5 -113h0m0 14h0m0.5 2h0m0 138.5h0m0.5 -163h0m0 8h0m0 3h0m0.5 3h0m0 90h0m0 -68.5h0m0 88.5h0m0 -107.5h0m0 14h0m0.5 69h0m0 17.5h0m0 -98.5h0m0.5 89.5h0m0 -11h0m0 -60h0m0.5 83h0m0.5 -4h0m0 42.5h0m0 -68.5h0m0.5 12.5h0m0 -83h0m0 100h0m0.5 -106.5h0m0 13.5h0m0 61.5h0m0 3.5h0m1 -112.5h0m0 116.5h0m0 -72h0m0 11h0m0 69.5h0m1 -73.5h0m0 61h0m0.5 9h0m0.5 -64.5h0m0 72.5h0m0 2.5h0m0 -71h0m0.5 63.5h0m0 -79h0m0 -10h0m0.5 97h0m0.5 -82.5h0m0 -7h0m0 -68h0m0 172h0m0.5 -87.5h0m0 71.5h0m0 -21.5h0m0 -69h0m0 10.5h0m0.5 67.5h0m0 -5h0m0 -59h0m0.5 -24h0m0 -28h0m0 35.5h0m0.5 8.5h0m0 121h0m0 -41.5h0m0 43.5h0m1 -156h0m0 105h0m0 -9.5h0m0.5 -60.5h0m1 124h0m0.5 -49.5h0m0 -9.5h0m0 1.5h0m0.5 -81h0m0 7.5h0m0 65.5h0m0.5 -54.5h0m0 -9h0m0 -16h0m0.5 10.5h0m0 -5.5h0m0.5 -60.5h0m0 39.5h0m0.5 -24h0m0 128h0m0 5h0m0 -69.5h0m0 58.5h0m0.5 -72h0m0.5 69h0m0 -81h0m0 14h0m1 84.5h0m0 -82h0m0 66h0m0 -94h0m0.5 -4.5h0m0 121h0m0.5 -13h0m0.5 -88h0m0 5h0m0 86h0m0.5 -73h0m0 63h0m0 -77h0m0.5 82h0m0 -3h0m0 78.5h0m0.5 -9.5h0m0 -146.5h0m0.5 3.5h0m0 70.5h0m0.5 -65h0m0 -14.5h0m0 -52h0m0.5 49h0m0 -65h0m0 161h0m0.5 -5h0m0 -89h0m0 8.5h0m0 5.5h0m0 96.5h0m0 -129h0m0.5 -10.5h0m0 52h0m0 -7h0m0.5 65.5h0m0.5 -61.5h0m0 71h0m1 -87.5h0m0 82h0m0 -91h0m0 15h0m0 78h0m0 -105.5h0m0 20h0m0 92.5h0m0.5 -103h0m0 115h0m0.5 -95h0m0 95h0m0 -120.5h0m1 28h0m0 3h0m0.5 9h0m0 54.5h0m0 1h0m0.5 -61h0m0.5 68h0m0.5 -100h0m0 110h0m0 -75.5h0m0.5 62h0m0 -68h0m0 -5h0m0 -26.5h0m0 91.5h0m0.5 -57.5h0m0 -49.5h0m0 132h0m0 -10.5h0m0.5 -67.5h0m0.5 104h0m0 -27.5h0m0 -21.5h0m0.5 -82.5h0m0 80h0m1 10.5h0m0.5 -4.5h0m0 -95h0m0 28h0m0.5 -43h0m0 48.5h0m0 65h0m0.5 -86h0m0 141.5h0m0.5 -129h0m0 77h0m1 -84h0m0 4h0m0 -60.5h0m0 146h0m0 3h0m0.5 -79.5h0m0.5 -48.5h0m0 132h0m0 -23.5h0m0.5 -69h0m0.5 82.5h0m0 -67.5h0m0 -2.5h0m0.5 61h0m0 10h0m0.5 -106.5h0m0.5 24h0m0 72h0m0 3.5h0m0.5 -66h0m0.5 -16.5h0m0 26h0m0.5 -24.5h0m0 94h0m1 -88.5h0m0.5 68h0m0 -55.5h0m0 -3.5h0m0 -73.5h0m0.5 68h0m0 3h0m0 62h0m0.5 13.5h0m0 -17h0m0 10h0m0 3.5h0m0.5 6h0m0 -72.5h0m0 -28h0m0.5 87.5h0m0 2h0m0 -76.5h0m0 92.5h0m0 -96.5h0m0.5 25.5h0m0 53.5h0m0 -65h0m0.5 10h0m0.5 -42.5h0m0 105.5h0m0 -100h0m0.5 31.5h0m0 64.5h0m0.5 -56h0m0 -7h0m0 -12h0m0 116.5h0m0.5 -114h0m0 58.5h0m0.5 4h0m1 17.5h0m0 -2.5h0m0 8.5h0m0 -3h0m0 -8.5h0m0.5 -6.5h0m0 -63h0m0.5 5h0m0.5 -16h0m0 88h0m0 -11h0m0.5 -69h0m0 14h0m0 -5h0m0 53.5h0m0 -51h0m0.5 45.5h0m0 39.5h0m0 -90.5h0m0.5 -17.5h0m0 78h0m0 -4h0m0.5 -60.5h0m1 55h0m0 17h0m0 11h0m0.5 -9h0m0.5 -60.5h0m0 62.5h0m0 -67h0m0 87.5h0m0 -152h0m0.5 124.5h0m0.5 -9.5h0m0.5 5.5h0m0 -58.5h0m0 91h0m0.5 -84.5h0m1 52.5h0m0 -61h0m0.5 80h0m0 2.5h0m0 2.5h0m0 -7.5h0m0.5 -73.5h0m0 -3h0m0.5 60h0m0.5 -54h0m0 49.5h0m0 -68.5h0m1.5 7h0m0 65h0m0 19h0m0.5 -2h0m0 -20h0m0 -84.5h0m0.5 97h0m0 -87.5h0m0 2.5h0m0.5 80.5h0m0 -1h0m0 -66h0m0 1.5h0m0.5 63h0m0 -59h0m0 51.5h0m0 15.5h0m0.5 3.5h0m0 -125h0m0 48h0m0 -9h0m1 76.5h0m0 -66h0m0.5 6h0m0 98.5h0m0 -105.5h0m1 52.5h0m0.5 9.5h0m0 2h0m0 7.5h0m0.5 -10h0m0 -6h0m0 -93h0m0 42h0m0.5 74h0m0.5 -11.5h0m0 -58h0m0.5 2.5h0m0 -5.5h0m0.5 64h0m0.5 34h0m0.5 -46h0m0 -69.5h0m0.5 95.5h0m0 -20.5h0m0.5 -61.5h0m0 -4.5h0m0 56.5h0m0.5 11h0m0 18.5h0m1 -10.5h0m0 -16.5h0m0 -47h0m0.5 -7.5h0m0 3.5h0m0.5 89h0m0.5 -43h0m0 27.5h0m0 -80.5h0m0.5 -10.5h0m0 -13h0m0 85.5h0m0 59h0m0 5h0m0.5 -10.5h0m0 -118h0m0 126h0m0 -5h0m0.5 -61h0m0 15.5h0m0.5 0.5h0m0 11.5h0m1 -16.5h0m0 -3h0m0 -57.5h0m0.5 -5h0m0 57h0m0 6.5h0m0.5 -79h0m0 61.5h0m0 -50h0m0.5 -3h0m0 57.5h0m0.5 -72.5h0m0.5 81h0m0 -55.5h0m0.5 -14.5h0m0 63.5h0m0 -67h0m0.5 91h0m0.5 -76h0m0 -22.5h0m0.5 14.5h0m0 -67h0m0 46h0m0.5 106h0m0 -17.5h0m0 -137.5h0m0 158h0m0 -6h0m0.5 -27h0m0 7.5h0m0 25.5h0m0 -11h0m0 37.5h0m0.5 -111.5h0m0 -6h0m0.5 64.5h0m0 -91.5h0m1 37.5h0m0 63.5h0m0 -61h0m1 47.5h0m0 2h0m0.5 15h0m0 42h0m0 -102h0m0.5 -2h0m0 74h0m0 -79h0m0 -14h0m0 5.5h0m0 116.5h0m0.5 -114h0m0 -5.5h0m0 20.5h0m0 48.5h0m0.5 18.5h0m0 -14.5h0m0 -78.5h0m0.5 74.5h0m0 -72h0m0.5 102.5h0m0 -26h0m0.5 18h0m0 8h0m0 -13h0m0.5 -3h0m0.5 5h0m0 -24h0m0 -50h0m0 63.5h0m0 23h0m0 -91.5h0m0 60h0m0.5 -66.5h0m0.5 3.5h0m0.5 67.5h0m0.5 -54h0m0 -19h0m0 18h0m1 -21h0m0 10h0m0.5 76.5h0m0 -72.5h0m0.5 68h0m0 -66h0m0 3.5h0m0.5 53.5h0m0 6h0m0 -71h0m0 146h0m0.5 -79h0m0 -78h0m0.5 26h0m0 -17.5h0m0 -11.5h0m0 25h0m1 66h0m0 -72h0m0 58h0m0.5 25h0m0.5 -12h0m0 -4.5h0m0 -62h0m0.5 -7.5h0m0.5 -3.5h0m0 67h0m0.5 -5h0m1.5 19h0m0 -70.5h0m0 -3.5h0m0.5 63h0m0.5 17.5h0m0 -12h0m0.5 17h0m0 -87h0m0 -26.5h0m0 86h0m0.5 7.5h0m0 5.5h0m0 -64h0m0.5 53h0m1.5 -62h0m0 2.5h0m0 4.5h0m0 70h0m0.5 -16h0m0 -63.5h0m0.5 61.5h0m0.5 9h0m0 -4h0m0 -67.5h0m0.5 79h0m0.5 -20h0m1.5 -78h0m0 14h0m0 -9.5h0m0.5 88h0m0 -70.5h0m0 78.5h0m0 -98h0m0 4.5h0m0 -9.5h0m0.5 119h0m0.5 -38h0m0.5 4.5h0m0 37h0m0 -4.5h0m0.5 -29.5h0m0 -1.5h0m0.5 4.5h0m0 24h0m0 -4h0m0 -87.5h0m0.5 75h0m0 -17h0m0 -64h0m0 83h0m0.5 -73h0m0 119h0m0 -46h0m0 -6.5h0m0.5 -16.5h0m0 86h0m0.5 -53h0m0 -99h0m0 117h0m0.5 -97.5h0m0.5 -2h0m0 79.5h0m0 -29h0m0 48.5h0m0.5 -108h0m0.5 88h0m0 -23.5h0m0 -71.5h0m0 75.5h0m0 3h0m0.5 -67h0m1 54h0m0 51.5h0m0 -34.5h0m0 -77h0m0.5 63.5h0m1 -76.5h0m0 114h0m0 -11.5h0m0.5 -96.5h0m0 71h0m0 -53h0m0 -25.5h0m0 -9h0m0.5 91.5h0m0.5 -11.5h0m0 -52.5h0m0.5 67h0m1 2.5h0m0 -60.5h0m0 49.5h0m0 -66h0m0.5 80.5h0m0 -71h0m0 61.5h0m1 -64.5h0m0 54.5h0m0.5 -63.5h0m0.5 10.5h0m0 66.5h0m0 -7h0m0 9.5h0m0.5 -61h0m0 47.5h0m0.5 17h0m0 -61h0m0 -8.5h0m0.5 -10.5h0m0.5 16h0m0 81h0m0.5 -76h0m0 63.5h0m0.5 -21h0m0.5 7.5h0m0.5 -4.5h0m1 -53.5h0m0.5 -3h0m1 7.5h0m0 48h0m0.5 45.5h0m0 -20h0m0 -22.5h0m0 -81h0m0.5 33h0m0 71h0m0.5 -3h0m0 -84h0m0 81h0m0.5 -13h0m0 23.5h0m1 -90.5h0m0 56h0m0 -48h0m0 65h0m0.5 -61h0m0.5 42.5h0m0 4h0m0.5 -66h0m0 69.5h0m0.5 14.5h0m0 -18.5h0m0.5 11.5h0m0 10h0m0 -68h0m0.5 -6.5h0m0.5 2.5h0m0.5 42.5h0m0.5 29h0m0.5 -18h0m0 18.5h0m0.5 -26.5h0m0 10.5h0m0.5 -53.5h0m0.5 46h0m0 5h0m0 -58h0m0 6.5h0m0.5 55h0m1 23.5h0m0 -116h0m0 31.5h0m0.5 1.5h0m0 51.5h0m1 6.5h0m0 -53h0m0.5 -4.5h0m0.5 60h0m0 -68h0m0.5 -5h0m0 107.5h0m0 -99.5h0m0.5 59.5h0m0.5 28.5h0m0 -23h0m0.5 -53.5h0m0.5 50h0m0.5 13h0m0.5 -67h0m0 49h0m0 10h0m0.5 -61.5h0m1 58h0m0 -52h0m0.5 43.5h0m0 -53.5h0m0 74.5h0m0.5 -10.5h0m0 5.5h0m0.5 -11h0m0 19.5h0m0 -79.5h0m0.5 -9h0m0 12h0m0 -8.5h0m0 20h0m0 -17.5h0m1.5 75.5h0m0 -90.5h0m0 11.5h0m0.5 68h0m0 -55h0m0.5 2h0m0 58h0m0.5 -56h0m0 7h0m0.5 62h0m0.5 -10.5h0m0 5.5h0m0 -18h0m0 25.5h0m0 -5h0m0.5 7.5h0m0 -71h0m0.5 74.5h0m0.5 -115h0m0 17h0m0 76h0m0.5 -6h0m0 -52h0m0.5 115.5h0m0 -109.5h0m0 -17h0m0.5 9.5h0m0 -6h0m0 63.5h0m0.5 19h0m0 -89.5h0m0.5 4.5h0m0.5 78h0m0 -4.5h0m0 -54h0m0 -6.5h0m0 -5h0m0.5 102.5h0m0 -12h0m0 7h0m1 -42.5h0m0.5 -3.5h0m0 -42.5h0m0.5 5h0m1 47.5h0m0.5 -61h0m0 53h0m0 25h0m0.5 -3h0m0 -19.5h0m0 -57.5h0m0.5 82.5h0m0 37.5h0m0 -49h0m0 -75h0m0.5 16h0m0.5 53h0m0 -57h0m1.5 -6h0m0 67.5h0m0 -54.5h0m0 43.5h0m0.5 -46.5h0m0 -31h0m0.5 74.5h0m0 -49h0m0.5 55.5h0m0 26.5h0m0 -7.5h0m0.5 -97.5h0m0 95.5h0m0 -101.5h0m0 88h0m0 -85h0m0.5 94.5h0m0 0.5h0m0.5 15h0m0 -90.5h0m0 69.5h0m0 -59h0m0 61h0m0.5 13.5h0m0 -87h0m0 67.5h0m0.5 47.5h0m0 -51.5h0m0 -11.5h0m0 4.5h0m0 17.5h0m0 -14h0m0.5 -54h0m0.5 -10h0m0.5 12.5h0m0 63h0m0.5 -68h0m0 7h0m0 4h0m0.5 59.5h0m0 28.5h0m0.5 -38h0m0.5 -11.5h0m0 6h0m0.5 22h0m0.5 -70.5h0m0.5 -7.5h0m0.5 52h0m0.5 0.5h0m0.5 -37.5h0m0 -3.5h0m0.5 35h0m0 8h0m0.5 -5.5h0m0 -46h0m0.5 2.5h0m1 62h0m0 -59.5h0m0.5 5.5h0m0.5 42h0m0.5 -50h0m0 48h0m0 7h0m0.5 4.5h0m0 9.5h0m0.5 -16h0m0.5 -70.5h0m0 62.5h0m0.5 -40.5h0m0 55.5h0m0.5 -65h0m1 60.5h0m0 -5h0m0.5 -58.5h0m0 8h0m0.5 -7h0m0 13.5h0m0 41.5h0m0 -47h0m1 60.5h0m0.5 -3.5h0m0.5 -61.5h0m0.5 -9.5h0m0 95h0m0.5 -29.5h0m0 -47h0m1 51h0m0.5 -61.5h0m0 5.5h0m0 44.5h0m0 13h0m0 6h0m0.5 2.5h0m0 -12h0m0 -6.5h0m0 21.5h0m0.5 -8h0m0.5 -12.5h0m0.5 2h0m0 20.5h0m0 5h0m0.5 -101h0m0 98.5h0m0 -10h0m0.5 15h0m0 -76.5h0m0 -7h0m0 78h0m0 -75h0m1.5 -9h0m0 4.5h0m0 5.5h0m0.5 77.5h0m0 -25h0m0.5 -47h0m0 55.5h0m0 -16.5h0m0.5 13.5h0m0.5 -61.5h0m0.5 52.5h0m0 13.5h0m0 -4h0m0 -56.5h0m0.5 45h0m0.5 -52.5h0m0.5 58h0m0 -50.5h0m0.5 71h0m0 -7.5h0m0 47h0m0 -43.5h0m0 -12.5h0m0 24.5h0m0.5 -6.5h0m0 3h0m0 -9.5h0m0.5 -20h0m0 9h0m0.5 -49h0m0 92.5h0m0.5 -107h0m0 15h0m0.5 47h0m0 14h0m1 -25h0m0 7.5h0m0 -49.5h0m0.5 -3.5h0m0 5.5h0m0 2.5h0m0.5 54h0m1 -57h0m0 51h0m1 -55h0m0 48.5h0m0.5 15.5h0m0.5 7.5h0m0 -20h0m0.5 -43.5h0m0.5 47h0m0.5 5.5h0m0 -3h0m0.5 -50.5h0m0 8h0m0.5 -12.5h0m0.5 55h0m0 -46.5h0m0 41h0m2 11h0m0 3h0m0 -5.5h0m1 -48h0m0.5 38h0m0.5 -65.5h0m0.5 21.5h0m0 -6h0m0.5 49h0m0.5 -41h0m0.5 44h0m0.5 8.5h0m0 -55.5h0m0 7.5h0m0 42h0m1 -54h0m0.5 -8.5h0m0 7h0m1 47.5h0m0 -79h0m0 38h0m0 -13h0m0 -28h0m0 85.5h0m0.5 -67.5h0m0 -34.5h0m0.5 108h0m0.5 -58.5h0m0.5 55h0m0 -51.5h0m0.5 47.5h0m0 -1.5h0m0.5 -58h0m1 88h0m1 -71h0m0.5 -5.5h0m0.5 -2.5h0m0 47h0m0.5 -36h0m0 48.5h0m0.5 -64h0m0.5 8.5h0m0.5 46.5h0m0 -47.5h0m0 61h0m0 -9h0m0 -2.5h0m0 13.5h0m0.5 21h0m0 -129h0m0 90.5h0m0.5 -4h0m0.5 -37h0m1 58.5h0m0 -5h0m0 -9h0m0.5 4.5h0m0.5 -52h0m0 0h0m0.5 75h0m0 -70.5h0m0.5 43.5h0m0.5 -53.5h0m0 60.5h0m0.5 -57h0m0.5 54.5h0m0 11.5h0m0.5 -18.5h0m0.5 23.5h0m0 -8.5h0m0.5 5h0m0 11.5h0m0 -74h0m0 53.5h0m1 -8h0m0.5 -104h0m0 128h0m0 -72.5h0m0 -32.5h0m0 9h0m0 21h0m0.5 79h0m0 16h0m0.5 35.5h0m0.5 -77h0m0 21h0m0 -15.5h0m0 7h0m0.5 -10.5h0m0 -48h0m0.5 40h0m0 -42h0m0 45h0m0.5 8.5h0m0.5 -95h0m1 88h0m0.5 -78h0m0 33.5h0m0 4h0m0.5 -6h0m0.5 39.5h0m1 3h0m0 4h0m0 -50h0m0 10h0m1 -9.5h0m1 2h0m0 -6.5h0m0.5 51h0m0.5 -41h0m0 4.5h0m0 73.5h0m0.5 -41h0m0.5 -37h0m0 45.5h0m0 2.5h0m0.5 -12.5h0m0.5 19.5h0m0 3h0m0.5 -4h0m0 -7.5h0m0.5 39h0m0 -81h0m0 -7h0m1 52h0m0 -8h0m0 -42h0m0 -7.5h0m0.5 47.5h0m0.5 15.5h0m0.5 -60h0m0 70h0m0 -2h0m0.5 -61h0m0.5 41.5h0m0 32h0m0 -6h0m0.5 -21.5h0m0 -50h0m0 -5h0m1 58h0m0 -9.5h0m0 52.5h0m0.5 -89h0m1 43h0m0.5 -5.5h0m0 -104.5h0m0.5 63h0m0 66h0m0 11.5h0m0.5 -3h0m0 -31.5h0m0.5 -50h0m0 72h0m0 -67.5h0m0 -11h0m0 -25.5h0m0.5 88h0m0.5 -42h0m0 71h0m0.5 -156h0m0 126h0m0 -53.5h0m0.5 47.5h0m0 9.5h0m0.5 -8.5h0m0.5 12h0m0 -52h0m0 64h0m0 -58.5h0m0 -8h0m0 -11h0m0.5 -7.5h0m0 16h0m0.5 -5.5h0m0 -6h0m0 70h0m0.5 24h0m0 -16.5h0m0 -18h0m0 -41.5h0m0 -10h0m1 56.5h0m0 -41h0m0 -8.5h0m0.5 -77h0m0 151.5h0m0 -108h0m0 89.5h0m0.5 -58h0m0 47.5h0m0.5 -51h0m0.5 59.5h0m1 58.5h0m0 -123.5h0m0 106.5h0m0.5 -89.5h0m0 67.5h0m0 -71.5h0m0.5 -18.5h0m0.5 69h0m0 -5h0m0.5 -57h0m0.5 54.5h0m0 -41.5h0m0.5 53.5h0m0 8.5h0m1 -56h0m0 32h0m0.5 10.5h0m0 -44.5h0m0.5 -26h0m0 17.5h0m0.5 -5.5h0m0 4.5h0m0.5 48.5h0m0 4h0m0.5 -48.5h0m0 48h0m0 -10.5h0m0.5 -32h0m0.5 -27.5h0m0.5 25h0m0 40h0m0.5 -51.5h0m0.5 86h0m0.5 -81.5h0m0 -1h0m0 44h0m1 -30h0m0.5 -8h0m0.5 5h0m0.5 37h0m0 -3h0m0 -40h0m0.5 8.5h0m0 -10h0m0.5 47.5h0m0 2.5h0m0.5 36h0m0 -98.5h0m0 69.5h0m0.5 -50.5h0m0 47.5h0m0.5 -11.5h0m0 4.5h0m0.5 -32.5h0m0.5 38.5h0m0 -41.5h0m0.5 -1.5h0m0 -5h0m1 -4h0m1 48h0m0.5 -55.5h0m0 53.5h0m0 -59.5h0m0.5 -23.5h0m0.5 74h0m0 -53h0m0 21h0m0 -11.5h0m1 89.5h0m0 -7h0m0 -73.5h0m0.5 5.5h0m0.5 85h0m0 -38.5h0m0.5 14h0m0 -27.5h0m0.5 32h0m0.5 -74h0m0 84h0m0 -33.5h0m0.5 -10.5h0m0 -37.5h0m0.5 44h0m0 -46h0m0 43h0m1 -4.5h0m0 -32h0m0.5 39h0m0.5 7.5h0m0 -3h0m0.5 -55.5h0m0 67h0m0.5 -74h0m0.5 7.5h0m0 6h0m0.5 37.5h0m0 -34h0m0.5 43.5h0m0 -40h0m0.5 -16h0m0.5 133.5h0m0.5 -75.5h0m0 -66h0m0.5 78h0m0.5 -59h0m0 47h0m1 -61h0m0 56.5h0m0.5 -34.5h0m0.5 41h0m0 -49h0m0 4h0m1 -2h0m0.5 51h0m0.5 -9h0m0 42.5h0m0.5 -115h0m0 82.5h0m0 58h0m0.5 -64.5h0m0.5 -39.5h0m0 -2h0m0.5 3.5h0m0 -12h0m1 5h0m0 61h0m0 -21h0m0 -52h0m0.5 60.5h0m0.5 5h0m1 -83.5h0m0 -3.5h0m0 32h0m0.5 44h0m0 -40h0m0.5 46.5h0m0.5 -42h0m0 -39h0m0.5 77h0m0 -45h0m0.5 -11.5h0m0 101h0m0.5 -97.5h0m0 -36h0m0 48.5h0m0.5 -15.5h0m0 -3.5h0m0.5 9.5h0m0 57.5h0m0 5h0m0.5 -60h0m0 71.5h0m1 -23h0m0.5 2h0m0.5 -6.5h0m0 -35.5h0m1.5 -35.5h0m0 73h0m0 -83.5h0m0 3.5h0m0 3.5h0m1 145h0m0 -109.5h0m0.5 6.5h0m0.5 41.5h0m0.5 -38h0m0 32.5h0m0.5 -44h0m0 5h0m0.5 58.5h0m0.5 62.5h0m0 -80.5h0m0.5 7.5h0m0 4.5h0m0.5 -49h0m0 33.5h0m1 -37.5h0m0.5 5h0m0 72.5h0m0 -35.5h0m0.5 -33h0m0 -9h0m0 84.5h0m0 -101.5h0m0.5 98h0m0 -33h0m0 -1h0m0.5 -8.5h0m1 -35h0m1 52.5h0m0 -52h0m1 -7.5h0m0 53.5h0m0 -5h0m0 8.5h0m0.5 -13.5h0m0 6h0m0 -50h0m0.5 39.5h0m0 -28h0m0.5 31h0m0 -39.5h0m0 -3h0m0.5 48h0m0 -2.5h0m0 -37.5h0m0.5 74.5h0m0.5 8.5h0m0 -85h0m0 82h0m0 -2.5h0m1.5 -87.5h0m1 46.5h0m0.5 -3.5h0m0.5 -5h0m0 -51.5h0m0.5 16h0m0 42h0m0 12h0m0.5 -51h0m0 48.5h0m0 -3.5h0m0 -1h0m0.5 -50h0m0 63h0m0 -22h0m0.5 -31h0m1 -4.5h0m0.5 9.5h0m0.5 31h0m0 -1h0m1 4h0m1 1.5h0m0 14h0m0.5 -10h0m0 -47h0m0.5 4.5h0m1 2h0m0 35.5h0m0.5 -46h0m0 42.5h0m0 15.5h0m0.5 -1.5h0m0.5 -51h0m0 -5.5h0m0.5 -6h0m0.5 54h0m0.5 -41h0m0 49h0m0 41h0m0.5 -105h0m0.5 11h0m0 42h0m0 -34h0m1 36.5h0m0 15.5h0m0.5 -21.5h0m0.5 -48h0m0.5 10.5h0m0.5 49.5h0m0.5 -46h0m0.5 4h0m0 41.5h0m0.5 -47.5h0m0 41.5h0m0 -47.5h0m0.5 63h0m0.5 -68.5h0m0 46h0m0.5 4.5h0m0.5 -7h0m0 13h0m0.5 -44.5h0m1 3.5h0m0.5 37h0m0 -4.5h0m0.5 -28h0m0 29h0m0.5 -39.5h0m0 114h0m0.5 -55h0m0.5 -54h0m0.5 107h0m0.5 -68.5h0m0.5 -40h0m0.5 53h0m0 -49.5h0m0.5 50h0m0 -19h0m0.5 12.5h0m0 -2.5h0m0.5 -37h0m0 27h0m0 51h0m0.5 -89.5h0m0 44.5h0m0 49.5h0m0.5 -52.5h0m0 -43.5h0m0.5 5h0m0 1h0m1 0h0m0.5 48h0m0.5 -43h0m0.5 27h0m0 -38h0m0 8h0m0.5 35h0m1 2.5h0m0.5 -6h0m0.5 -40.5h0m0 11.5h0m0.5 -3.5h0m0 55h0m0.5 -70h0m0 12h0m1 37.5h0m0 8h0m0.5 -48.5h0m0 6.5h0m0.5 -15.5h0m0 52h0m0.5 32.5h0m0 -28.5h0m0.5 -5.5h0m0.5 7h0m0.5 -62h0m0 85.5h0m0.5 -14h0m0 -54h0m0.5 2h0m0 3h0m0 -9.5h0m0 43.5h0m1.5 9h0m0 -92.5h0m0 41h0m0 66h0m0 -22.5h0m0.5 -34h0m0.5 67h0m1.5 -36h0m0 -37h0m0 45h0m0.5 7h0m0 -10.5h0m0.5 -39.5h0m0 66.5h0m0.5 -60h0m0 -15.5h0m1 -14h0m0.5 58.5h0m0.5 -2.5h0m1 -41h0m0.5 6.5h0m0 30.5h0m0 -38h0m0 10h0m0.5 52.5h0m0 -59h0m0.5 -13h0m0 52h0m0.5 4h0m0.5 -65.5h0m1 14h0m0.5 5h0m0 -3.5h0m0.5 43h0m0 5h0m0 5h0m1 -76h0m0 18.5h0m0 50h0m2 15h0m0 -62.5h0m0 -6h0m1 48.5h0m0 -38.5h0m0 60.5h0m1 -76h0m0 56.5h0m1 -48h0m0 -10h0m0.5 55h0m0 26.5h0m0 -15h0m0.5 -9h0m0.5 -99h0m0 46.5h0m0.5 -49h0m0 5h0m0 99.5h0m0 54.5h0m0.5 -122.5h0m0 70.5h0m0 -10h0m0 -52.5h0m1 -3h0m1 73.5h0m0 2h0m0.5 -23h0m0.5 -42.5h0m0 -4h0m0.5 51.5h0m0 -46h0m1 -5.5h0m0.5 -6h0m0 4.5h0" stroke="#1f77b4" stroke-width="5.56" stroke-linecap="round" fill="none"/><path d="M116.5 280.4 117.8 280.4 119.0 280.4 120.2 280.4 121.5 280.4 122.8 270.6 124.0 260.7 125.2 260.2 126.5 259.6 127.8 259.1 129.0 258.6 130.2 258.0 131.5 257.5 132.8 257.0 134.0 256.4 135.2 256.9 136.5 257.4 137.8 257.8 139.0 258.3 140.2 258.8 141.5 259.2 142.8 259.7 144.0 260.2 145.2 260.6 146.5 261.7 147.8 263.8 149.0 265.4 150.2 265.6 151.5 265.7 152.8 265.8 154.0 265.9 155.2 266.1 156.5 266.4 157.8 267.1 159.0 267.8 160.2 268.8 161.5 270.9 162.8 272.9 164.0 275.0 165.2 275.8 166.5 271.7 167.8 267.6 169.0 263.5 170.2 260.5 171.5 262.2 172.8 263.9 174.0 265.6 175.2 266.4 176.5 264.1 177.8 261.8 179.0 260.7 180.2 262.3 181.5 264.0 182.8 265.6 184.0 266.6 185.2 265.3 186.5 264.0 187.8 262.7 189.0 261.7 190.2 262.2 191.5 262.6 192.8 263.1 194.0 265.0 195.2 267.4 196.5 269.7 197.8 270.5 199.0 262.9 200.2 274.2 201.5 291.6 202.8 272.1 204.0 282.4 205.2 259.5 206.5 255.4 207.8 273.8 209.0 283.6 210.2 283.4 211.5 266.6 212.8 272.7 214.0 277.3 215.2 271.1 216.5 252.8 217.8 263.6 219.0 262.7 220.2 261.2 221.5 258.8 222.8 260.9 224.0 276.6 225.2 276.1 226.5 280.5 227.8 277.7 229.0 262.3 230.2 274.4 231.5 274.4 232.8 279.6 234.0 277.2 235.2 265.4 236.5 275.3 237.8 276.2 239.0 266.4 240.2 263.9 241.5 262.2 242.8 271.5 244.0 287.5 245.2 267.4 246.5 263.3 247.8 261.8 249.0 273.2 250.2 249.9 251.5 277.7 252.8 266.3 254.0 270.5 255.2 274.7 256.5 264.6 257.8 277.1 259.0 297.6 260.2 286.7 261.5 264.8 262.8 250.8 264.0 282.1 265.2 271.6 266.5 255.7 267.8 263.3 269.0 276.7 270.2 289.8 271.5 293.4 272.8 283.0 274.0 280.8 275.2 297.9 276.5 292.1 277.8 272.3 279.0 276.4 280.2 280.5 281.5 278.5 282.8 278.6 284.0 260.5 285.2 249.2 286.5 246.1 287.8 258.9 289.0 259.8 290.2 252.0 291.5 248.4 292.8 251.1 294.0 257.6 295.2 278.5 296.5 287.0 297.8 265.8 299.0 270.8 300.2 273.8 301.5 282.9 302.8 283.5 304.0 258.9 305.2 266.1 306.5 280.5 307.8 268.9 309.0 266.6 310.2 261.4 311.5 248.0 312.8 269.9 314.0 284.3 315.2 274.7 316.5 276.8 317.8 266.7 319.0 267.6 320.2 268.6 321.5 275.7 322.8 269.3 324.0 274.8 325.2 267.7 326.5 275.6 327.8 282.3 329.0 269.8 330.2 274.8 331.5 257.4 332.8 263.3 334.0 265.7 335.2 269.6 336.5 276.3 337.8 293.2 339.0 265.1 340.2 275.5 341.5 264.5 342.8 276.3 344.0 274.5 345.2 275.9 346.5 282.6 347.8 274.2 349.0 267.7 350.2 277.1 351.5 286.0 352.8 279.1 354.0 267.8 355.2 257.8 356.5 260.3 357.8 268.8 359.0 279.2 360.2 264.1 361.5 269.9 362.8 272.1 364.0 261.5 365.2 262.5 366.5 267.4 367.8 283.2 369.0 282.9 370.2 289.3 371.5 272.6 372.8 269.0 374.0 261.6 375.2 268.2 376.5 270.7 377.8 252.8 379.0 280.3 380.2 287.9 381.5 279.1 382.8 267.9 384.0 274.8 385.2 278.6 386.5 280.7 387.8 259.9 389.0 276.9 390.2 283.7 391.5 276.2 392.8 280.2 394.0 272.7 395.2 259.2 396.5 273.5 397.8 273.4 399.0 275.6 400.2 272.5 401.5 262.5 402.8 265.1 404.0 275.6 405.2 281.7 406.5 272.9 407.8 263.3 409.0 270.2 410.2 276.1 411.5 288.0 412.8 267.6 414.0 287.0 415.2 287.8 416.5 277.5 417.8 271.7 419.0 272.3 420.2 279.6 421.5 277.1 422.8 281.5 424.0 291.2 425.2 278.7 426.5 278.1 427.8 268.8 429.0 270.2 430.2 260.7 431.5 260.9 432.8 258.7 434.0 256.2 435.2 262.5 436.5 269.2 437.8 259.8 439.0 278.3 440.2 271.9 441.5 263.4 442.8 271.3 444.0 266.3 445.2 279.2 446.5 277.3 447.8 265.6 449.0 260.9 450.2 258.1 451.5 269.3 452.8 267.3 454.0 263.6 455.2 268.0 456.5 284.7 457.8 276.9 459.0 260.3 460.2 280.0 461.5 268.2 462.8 272.6 464.0 263.6 465.2 277.2 466.5 276.2 467.8 291.8 469.0 273.6 470.2 263.5 471.5 282.2 472.8 263.6 474.0 276.5 475.2 278.5 476.5 297.4 477.8 267.4 479.0 279.2 480.2 280.9 481.5 287.2 482.8 281.6 484.0 262.7 485.2 272.7 486.5 263.7 487.8 270.8 489.0 269.2 490.2 275.0 491.5 263.2 492.8 243.3 494.0 259.0 495.2 266.0 496.5 273.3 497.8 259.6 499.0 259.0 500.2 288.6 501.5 284.5 502.8 252.0 504.0 262.9 505.2 268.2 506.5 263.4 507.8 257.8 509.0 261.7 510.2 268.2 511.5 251.0 512.8 269.0 514.0 281.2 515.2 278.9 516.5 274.5 517.8 275.8 519.0 273.4 520.2 274.8 521.5 305.3 522.8 283.6 524.0 262.2 525.2 265.2 526.5 278.4 527.8 276.8 529.0 261.6 530.2 272.7 531.5 273.7 532.8 254.4 534.0 270.3 535.2 265.3 536.5 270.5 537.8 272.8 539.0 282.4 540.2 279.1 541.5 262.4 542.8 280.0 544.0 273.0 545.2 283.4 546.5 276.1 547.8 275.3 549.0 285.7 550.2 263.4 551.5 268.8 552.8 261.3 554.0 276.8 555.2 259.6 556.5 245.8 557.8 266.0 559.0 276.6 560.2 267.5 561.5 269.5 562.8 273.5 564.0 274.1 565.2 276.7 566.5 269.0 567.8 276.1 569.0 279.2 570.2 265.1 571.5 266.5 572.8 245.6 574.0 270.3 575.2 280.1 576.5 277.6 577.8 270.0 579.0 280.1 580.2 282.3 581.5 259.6 582.8 277.9 584.0 258.2 585.2 269.1 586.5 278.7 587.8 257.0 589.0 272.2 590.2 281.8 591.5 270.2 592.8 257.0 594.0 260.5 595.2 258.5 596.5 251.8 597.8 265.2 599.0 267.6 600.2 275.7 601.5 286.7 602.8 272.5 604.0 258.7 605.2 283.2 606.5 260.6 607.8 267.9 609.0 279.9 610.2 269.1 611.5 254.5 612.8 272.3 614.0 262.4 615.2 260.2 616.5 277.1 617.8 265.7 619.0 265.7 620.2 273.9 621.5 266.1 622.8 274.8 624.0 280.2 625.2 284.2 626.5 270.7 627.8 276.0 629.0 280.0 630.2 286.6 631.5 288.8 632.8 280.5 634.0 267.1 635.2 275.5 636.5 257.6 637.8 264.3 639.0 271.3 640.2 279.5 641.5 256.7 642.8 281.2 644.0 265.5 645.2 253.7 646.5 271.5 647.8 278.7 649.0 271.2 650.2 259.7 651.5 254.9 652.8 264.8 654.0 282.3 655.2 279.8 656.5 273.0 657.8 284.3 659.0 272.0 660.2 251.3 661.5 275.6 662.8 263.5 664.0 279.2 665.2 276.7 666.5 275.6 667.8 286.9 669.0 272.8 670.2 257.2 671.5 260.4 672.8 264.5 674.0 278.5 675.2 274.0 676.5 268.4 677.8 261.6 679.0 258.5 680.2 275.7 681.5 256.7 682.8 271.5 684.0 276.8 685.2 284.2 686.5 274.8 687.8 276.2 689.0 284.8 690.2 276.4 691.5 271.5 692.8 273.8 694.0 266.3 695.2 278.6 696.5 264.7 697.8 270.9 699.0 271.5 700.2 289.0 701.5 273.7 702.8 270.0 704.0 264.3 705.2 278.9 706.5 261.9 707.8 277.2 709.0 259.1 710.2 264.5 711.5 273.8 712.8 253.2 714.0 279.7 715.2 275.0 716.5 268.7 717.8 265.3 719.0 266.6 720.2 262.1 721.5 265.2 722.8 272.0 724.0 281.3 725.2 274.9 726.5 265.2 727.8 281.2 729.0 276.3 730.2 293.2 731.5 285.6 732.8 287.1 734.0 266.0 735.2 288.7 736.5 276.9 737.8 264.6 739.0 263.9 740.2 262.1 741.5 260.2 742.8 265.1 744.0 264.5 745.2 270.1 746.5 272.2 747.8 283.4 749.0 262.7 750.2 252.3 751.5 273.8 752.8 282.1 754.0 270.8 755.2 258.3 756.5 253.3 757.8 267.8 759.0 249.6 760.2 245.1 761.5 236.4 762.8 237.9 764.0 223.1 765.2 226.6 766.5 225.6 767.8 228.2 769.0 231.8 770.2 225.1 771.5 224.7 772.8 221.1 774.0 211.0 775.2 209.8 776.5 216.6 777.8 217.2 779.0 229.7 780.2 234.4 781.5 233.5 782.8 230.4 784.0 227.5 785.2 225.4 786.5 233.1 787.8 238.5 789.0 229.1 790.2 231.6 791.5 241.4 792.8 240.9 794.0 248.5 795.2 254.9 796.5 245.5 797.8 248.6 799.0 250.8 800.2 245.2 801.5 248.9 802.8 261.9 804.0 268.9 805.2 273.4 806.5 255.3 807.8 242.3 809.0 237.4 810.2 243.4 811.5 251.1 812.8 255.8 814.0 262.3 815.2 252.3 816.5 258.7 817.8 257.0 819.0 262.9 820.2 261.2 821.5 259.8 822.8 259.1 824.0 251.3 825.2 234.6 826.5 243.8 827.8 243.2 829.0 246.6 830.2 248.9 831.5 240.2 832.8 243.1 834.0 233.4 835.2 230.4 836.5 217.0 837.8 212.9 839.0 216.1 840.2 218.1 841.5 217.9 842.8 226.2 844.0 231.8 845.2 235.3 846.5 234.6 847.8 237.5 849.0 233.8 850.2 234.6 851.5 235.3 852.8 231.8 854.0 235.9 855.2 236.0 856.5 240.5 857.8 239.1 859.0 238.3 860.2 238.5 861.5 240.8 862.8 243.0 864.0 241.9 865.2 236.9 866.5 239.5 867.8 238.1 869.0 234.6 870.2 241.1 871.5 242.7 872.8 240.9 874.0 239.9 875.2 241.4 876.5 239.8 877.8 240.6 879.0 243.6 880.2 241.6 881.5 243.6 882.8 240.0 884.0 239.5 885.2 236.1 886.5 238.8 887.8 241.5 889.0 241.0 890.2 241.7 891.5 244.1 892.8 245.1 894.0 239.9 895.2 238.9 896.5 243.1 897.8 243.6 899.0 243.6 900.2 240.5 901.5 240.4 902.8 244.6 904.0 244.5 905.2 244.4 906.5 242.7 907.8 241.2 909.0 240.9 910.2 244.0 911.5 245.5 912.8 242.6 914.0 242.3 915.2 244.2 916.5 243.4 917.8 242.6 919.0 241.8 920.2 243.2 921.5 242.9 922.8 243.9 924.0 245.9 925.2 243.0 926.5 243.3 927.8 242.5 929.0 246.8 930.2 246.3 931.5 244.9 932.8 248.4 934.0 246.0 935.2 246.2 936.5 246.3 937.8 246.9 939.0 250.3 940.2 246.4 941.5 245.1 942.8 243.0 944.0 242.3 945.2 244.4 946.5 245.1 947.8 251.0 949.0 245.9 950.2 243.8 951.5 244.5 952.8 246.3 954.0 248.0 955.2 248.3 956.5 247.5 957.8 246.6 959.0 246.5 960.2 248.5 961.5 250.2 962.8 245.3 964.0 250.8 965.2 254.3 966.5 246.5 967.8 246.2 969.0 248.0 970.2 247.1 971.5 248.6 972.8 251.3 974.0 250.5 975.2 253.0 976.5 252.5 977.8 252.5 979.0 250.2 980.2 248.7 981.5 251.7 982.8 251.2 984.0 256.1 985.2 254.4 986.5 250.5 987.8 249.1 989.0 249.1 990.2 250.1 991.5 255.6 992.8 255.3 994.0 258.5 995.2 254.1 996.5 252.6 997.8 254.1 999.0 255.3 1000.2 252.7 1001.5 252.2 1002.8 253.4 1004.0 255.0 1005.2 253.9 1006.5 253.6 1007.8 253.1 1009.0 252.7 1010.2 254.6 1011.5 257.5 1012.8 255.4 1014.0 254.0 1015.2 255.3 1016.5 254.6 1017.8 255.6 1019.0 252.1 1020.2 253.5 1021.5 254.3 1022.8 253.1 1024.0 253.2 1025.2 254.4 1026.5 252.9 1027.8 253.6 1029.0 254.9 1030.2 256.0 1031.5 258.1 1032.8 255.8 1034.0 255.8 1035.2 257.2 1036.5 253.6 1037.8 256.1 1039.0 258.8 1040.2 257.8 1041.5 256.8 1042.8 257.0 1044.0 258.4 1045.2 257.6 1046.5 260.2 1047.8 258.3 1049.0 256.6 1050.2 258.2 1051.5 255.8 1052.8 255.6 1054.0 259.4 1055.2 262.6 1056.5 256.2 1057.8 255.1 1059.0 260.6 1060.2 258.0 1061.5 257.9 1062.8 261.7 1064.0 259.5 1065.2 255.7 1066.5 257.4 1067.8 257.9 1069.0 256.3 1070.2 260.2 1071.5 262.3 1072.8 256.9 1074.0 260.0 1075.2 258.8 1076.5 256.5 1077.8 258.0 1079.0 259.0 1080.2 260.3 1081.5 257.5 1082.8 254.8 1084.0 260.4 1085.2 262.2 1086.5 259.9 1087.8 261.3 1089.0 260.0 1090.2 259.8 1091.5 259.0 1092.8 259.5 1094.0 259.1 1095.2 257.9 1096.5 262.1 1097.8 260.8 1099.0 260.5 1100.2 263.7 1101.5 263.6 1102.8 262.4 1104.0 262.1 1105.2 259.1 1106.5 259.6 1107.8 255.5 1109.0 261.6 1110.2 261.9 1111.5 257.6 1112.8 261.7 1114.0 259.2 1115.2 268.7 1116.5 264.9 1117.8 259.5 1119.0 258.8 1120.2 261.8 1121.5 264.6 1122.8 263.7 1124.0 261.9 1125.2 262.4 1126.5 262.0 1127.8 264.9 1129.0 262.2 1130.2 260.0 1131.5 257.0 1132.8 261.5 1134.0 263.3 1135.2 267.0 1136.5 269.2 1137.8 270.5 1139.0 264.5 1140.2 261.0 1141.5 266.1 1142.8 271.2 1144.0 266.7 1145.2 266.6 1146.5 266.5 1147.8 262.3 1149.0 262.6 1150.2 263.3 1151.5 267.7 1152.8 266.8 1154.0 268.7 1155.2 265.4 1156.5 268.5 1157.8 264.8 1159.0 266.1 1160.2 267.3 1161.5 270.1 1162.8 267.2 1164.0 271.7 1165.2 271.4 1166.5 269.4 1167.8 263.6 1169.0 267.0 1170.2 269.1 1171.5 266.2 1172.8 262.8 1174.0 267.9 1175.2 271.0 1176.5 271.1 1177.8 268.2 1179.0 264.9 1180.2 268.2 1181.5 269.6 1182.8 271.4 1184.0 271.2 1185.2 266.9 1186.5 267.6 1187.8 268.5 1189.0 271.6 1190.2 268.3 1191.5 267.7 1192.8 265.4 1194.0 266.5 1195.2 269.4 1196.5 268.8 1197.8 268.8 1199.0 270.1 1200.2 271.3 1201.5 267.1 1202.8 264.3 1204.0 268.0 1205.2 265.9 1206.5 269.3 1207.8 269.9 1209.0 269.2 1210.2 269.0 1211.5 266.2 1212.8 266.7 1214.0 273.2 1215.2 267.4 1216.5 266.3 1217.8 264.5 1219.0 269.1 1220.2 267.4 1221.5 264.7 1222.8 264.6 1224.0 264.1 1225.2 268.7 1226.5 268.8 1227.8 266.7 1229.0 269.6 1230.2 266.1 1231.5 264.4 1232.8 266.1 1234.0 269.6 1235.2 268.4 1236.5 267.1 1237.8 265.3 1239.0 265.6 1240.2 267.6 1241.5 270.8 1242.8 271.4 1244.0 269.9 1245.2 269.6 1246.5 269.1 1247.8 269.7 1249.0 268.2 1250.2 268.7 1251.5 267.4 1252.8 267.4 1254.0 267.0 1255.2 270.2 1256.5 271.0 1257.8 271.1 1259.0 268.5 1260.2 266.6 1261.5 266.0 1262.8 268.2 1264.0 269.1 1265.2 267.8 1266.5 269.7 1267.8 271.5 1269.0 268.7 1270.2 271.1 1271.5 273.5 1272.8 271.6 1274.0 272.3 1275.2 271.3 1276.5 272.4 1277.8 272.1 1279.0 272.5 1280.2 271.5 1281.5 270.0 1282.8 270.7 1284.0 271.1 1285.2 270.1 1286.5 274.4 1287.8 271.8 1289.0 269.5 1290.2 270.3 1291.5 270.3 1292.8 273.8 1294.0 271.1 1295.2 273.6 1296.5 271.0 1297.8 272.0 1299.0 271.9 1300.2 275.1 1301.5 275.3 1302.8 277.7 1304.0 273.5 1305.2 272.0 1306.5 272.4 1307.8 271.2 1309.0 272.2 1310.2 273.4 1311.5 273.1 1312.8 274.8 1314.0 272.4 1315.2 273.3 1316.5 273.7 1317.8 274.9 1319.0 276.2 1320.2 277.0 1321.5 275.4 1322.8 274.0 1324.0 278.3 1325.2 273.9 1326.5 267.1 1327.8 273.1 1329.0 275.1 1330.2 274.3 1331.5 275.2 1332.8 274.9 1334.0 275.2 1335.2 276.8 1336.5 273.1 1337.8 274.0 1339.0 272.9 1340.2 274.3 1341.5 273.4 1342.8 274.3 1344.0 269.3 1345.2 272.3 1346.5 273.5 1347.8 277.3 1349.0 280.8 1350.2 278.7 1351.5 276.8 1352.8 277.8 1354.0 279.8 1355.2 281.0 1356.5 282.0 1357.8 280.4 1359.0 278.0 1360.2 277.8 1361.5 278.4 1362.8 280.3 1364.0 280.2 1365.2 280.6 1366.5 280.1 1367.8 280.3 1369.0 280.3 1370.2 282.0 1371.5 281.9 1372.8 279.0 1374.0 280.3 1375.2 286.9 1376.5 283.3 1377.8 282.4 1379.0 282.8 1380.2 289.1 1381.5 289.1 1382.8 286.4 1384.0 285.5 1385.2 287.3 1386.5 283.3 1387.8 283.0 1389.0 284.1 1390.2 284.9 1391.5 289.0 1392.8 288.8 1394.0 292.0 1395.2 286.0 1396.5 284.9 1397.8 287.3 1399.0 290.4 1400.2 288.7 1401.5 287.5 1402.8 291.5 1404.0 289.3 1405.2 288.6 1406.5 291.7 1407.8 291.4 1409.0 288.1 1410.2 288.3 1411.5 287.8 1412.8 290.8 1414.0 293.8 1415.2 292.8 1416.5 293.8 1417.8 293.2 1419.0 291.4 1420.2 289.6 1421.5 291.1 1422.8 288.9 1424.0 294.3 1425.2 292.8 1426.5 292.4 1427.8 296.4 1429.0 295.4 1430.2 292.0 1431.5 290.2 1432.8 289.2 1434.0 289.7 1435.2 290.8 1436.5 292.3 1437.8 288.8 1439.0 285.1 1440.2 286.8 1441.5 287.0 1442.8 283.2 1444.0 279.6 1445.2 276.1 1446.5 276.8 1447.8 272.9 1449.0 270.4 1450.2 270.0 1451.5 268.7 1452.8 267.8 1454.0 265.5 1455.2 264.6 1456.5 268.1 1457.8 266.7 1459.0 264.2 1460.2 268.5 1461.5 273.2" stroke="#ff7f0e" stroke-width="2.08" fill="none" stroke-linejoin="round"/></g>
<path d="M116.50 518.5v4.86M284.50 518.5v4.86M453.50 518.5v4.86M621.50 518.5v4.86M789.50 518.5v4.86M958.50 518.5v4.86M1126.50 518.5v4.86M1294.50 518.5v4.86M116.5 45.50h-4.86M116.5 120.50h-4.86M116.5 194.50h-4.86M116.5 269.50h-4.86M116.5 344.50h-4.86M116.5 419.50h-4.86M116.5 494.50h-4.86" stroke="#000" stroke-width="1.11" fill="none"/>
<rect x="116.5" y="38.5" width="1345.80" height="480.00" fill="none" stroke="#000" stroke-width="1.11"/>
<text x="90.52" y="52.60" font-size="23.33" textLength="15.46" lengthAdjust="spacingAndGlyphs" >3</text>
<text x="90.75" y="127.50" font-size="23.33" textLength="15.46" lengthAdjust="spacingAndGlyphs" >2</text>
<text x="90.30" y="202.40" font-size="23.33" textLength="15.46" lengthAdjust="spacingAndGlyphs" >1</text>
<text x="89.86" y="277.30" font-size="23.33" textLength="15.46" lengthAdjust="spacingAndGlyphs" >0</text>
<text x="71.64" y="352.20" font-size="23.33" textLength="34.08" lengthAdjust="spacingAndGlyphs" >−1</text>
<text x="72.08" y="427.10" font-size="23.33" textLength="34.08" lengthAdjust="spacingAndGlyphs" >−2</text>
<text x="71.86" y="502.00" font-size="23.33" textLength="34.08" lengthAdjust="spacingAndGlyphs" >−3</text>
<rect x="1048.3" y="49.10" width="404.8" height="78.50" rx="3.5" fill="#fff" fill-opacity="0.8" stroke="#cccccc" stroke-width="1.11"/>
<circle cx="1073.4" cy="63.70" r="2.78" fill="#1f77b4"/>
<path d="M1052.8 101.40H1092" stroke="#ff7f0e" stroke-width="2.08"/>
<text x="1105.83" y="68.90" font-size="19.45" textLength="99.54" lengthAdjust="spacingAndGlyphs" >Raw Data</text>
<text x="1105.83" y="95.80" font-size="19.45" textLength="271.53" lengthAdjust="spacingAndGlyphs" >Butterworth Filtered Data</text>
<text x="1106.02" y="116.80" font-size="19.45" textLength="339.58" lengthAdjust="spacingAndGlyphs" >(N=6, Tc=3.3333 min, Type: low)</text>
<rect x="736" y="575.5" width="648.7" height="479.0" fill="#e7e7e7"/><path d="M736.5 575.5V1054.5M1384.2 575.5V1054.5" stroke="#e0e0e0" stroke-width="1"/>
<path d="M116.50 575.5V1054.5M284.50 575.5V1054.5M453.50 575.5V1054.5M621.50 575.5V1054.5M789.50 575.5V1054.5M958.50 575.5V1054.5M1126.50 575.5V1054.5M1294.50 575.5V1054.5M116.5 1036.50H1462.3M116.5 972.50H1462.3M116.5 907.50H1462.3M116.5 843.50H1462.3M116.5 779.50H1462.3M116.5 715.50H1462.3M116.5 650.50H1462.3M116.5 586.50H1462.3" stroke="#b0b0b0" stroke-width="1.11" stroke-dasharray="1.11 1.83" fill="none"/>
<g clip-path="url(#clipB)"><path d="M116 864.8 116.5 864.8 117.5 867.8 118.5 869.8 119.5 878.8 120.5 894.8 121.5 911.3 122.5 928.3 123.5 942.3 124.5 953.3 125.5 965.8 126.5 979.8 127.5 988.8 128.5 992.8 129.5 996.2 130.5 995.8 131.5 989.8 132.5 981.8 133.5 971.8 134.5 965.8 135.5 963.8 136.5 961.8 137.5 959.8 138.5 960.8 139.5 964.8 140.5 968.8 141.5 974.8 142.5 982.8 143.5 990.8 144.5 1000.1 145.5 1005.1 146.5 1009.8 147.5 1012.6 148.5 1013.5 149.5 1014.5 150.5 1015.5 151.5 1013.8 152.5 1009.4 153.5 1005 154.5 1003 155.5 1003.3 156.5 1003.6 157.5 1003.9 158.5 1003.9 159.5 1003.6 160.5 1003.3 161.5 1002.9 162.5 1000.9 163.5 997.2 164.5 990.8 165.5 980.8 166.5 968.8 167.5 956.8 168.5 948.5 169.5 944 170.5 939.5 171.5 935 172.5 932.3 173.5 931.3 174.5 930.3 175.5 929.3 176.5 928.5 177.5 928 178.5 927.5 179.5 927 180.5 916.8 181.5 896.8 182.5 876.8 183.5 866.3 184.5 865.3 185.5 866.1 186.5 868.8 187.5 871.4 188.5 880.1 189.5 894.8 190.5 909.4 191.5 912.1 192.5 902.8 193.5 893.4 194.5 889.8 195.5 891.8 196.5 893.8 197.5 904.3 198.5 923.3 199.5 979.8 200.5 1017.5 201.5 1026.7 202 1026.7 202 1029.4 201.5 1029.4 200.5 1027.3 199.5 1026.1 198.5 1025.8 197.5 1025.6 196.5 1025.3 195.5 1025.1 194.5 1024.8 193.5 1024.6 192.5 1024.3 191.5 1024 190.5 1023.5 189.5 1023 188.5 1022.5 187.5 1022 186.5 1021.5 185.5 1021 184.5 1020.5 183.5 1020 182.5 1019.5 181.5 1019 180.5 1018.5 179.5 1018 178.5 1017.5 177.5 1017 176.5 1016.5 175.5 1016.4 174.5 1016.8 173.5 1017.2 172.5 1017.6 171.5 1018 170.5 1018.4 169.5 1018.8 168.5 1019.2 167.5 1019.6 166.5 1020 165.5 1020.3 164.5 1020.5 163.5 1020.7 162.5 1020.9 161.5 1021.1 160.5 1021.3 159.5 1021.5 158.5 1021.7 157.5 1021.9 156.5 1022.1 155.5 1022.4 154.5 1022.7 153.5 1023 152.5 1023.3 151.5 1023.6 150.5 1023.9 149.5 1024.2 148.5 1024.5 147.5 1024.8 146.5 1025.1 145.5 1025.2 144.5 1025.1 143.5 1025 142.5 1025 141.5 1024.9 140.5 1024.8 139.5 1024.8 138.5 1024.7 137.5 1024.6 136.5 1024.5 135.5 1024.5 134.5 1024.4 133.5 1024.3 132.5 1024.3 131.5 1023.5 130.5 1022 129.5 1020.5 128.5 1019 127.5 1018.8 126.5 1020 125.5 1021.2 124.5 1022.4 123.5 1023.6 122.5 1020.9 121.5 1014.2 120.5 1007.6 119.5 1002.6 118.5 999.2 117.5 995.9 116.5 994.2 116 994.2ZM759 1024.2 759.5 1024.2 760.5 1018.4 761.5 1014.9 762.5 1012.3 763.5 1011.1 764.5 1011 765.5 1011 766.5 1011 767.5 1014.1 768.5 1020.1 769.5 1022.5 770.5 1021.3 771.5 1020 772.5 1018 773.5 1015.3 774.5 1012.5 775.5 1010 776.5 1010 777.5 1010 778.5 1010 779.5 1010 780.5 1015.6 781.5 1021.8 782.5 1022.4 783.5 1021.5 784.5 1021.3 785.5 1021.3 786.5 1021.2 787.5 1022.9 788.5 1026.1 789.5 1027.6 790.5 1027.3 791.5 1027.1 792.5 1026.8 793.5 1026.5 794.5 1026.2 795.5 1026 796.5 1025.7 797.5 1025.6 798.5 1025.5 799.5 1025.3 800.5 1025.2 801.5 1025.1 802.5 1025 803.5 1024.8 804.5 1024.7 805.5 1024.5 806.5 1024.2 807.5 1023.9 808.5 1023.7 809.5 1022.3 810.5 1020.2 811.5 1018.1 812.5 1017.1 813.5 1017.2 814.5 1017.4 815.5 1017.3 816.5 1017 817.5 1016.8 818.5 1016.7 819.5 1016.5 820.5 1016.4 821.5 1016.9 822.5 1017.3 823.5 1017.8 824.5 1018.2 825.5 1016.8 826.5 1015.3 827.5 1013.8 828.5 1012.4 829.5 1011 830.5 1009.8 831.5 997.5 832.5 955 833.5 933.8 834.5 933.8 835.5 933.8 836.5 933.8 837.5 933.4 838.5 932.8 839.5 932.8 840.5 932.8 841.5 932.8 842.5 920.6 843.5 896.2 844.5 871.8 845.5 871.8 846.5 871.8 847.5 871.8 848.5 871.8 849.5 871.8 850.5 918 851.5 964.2 852.5 964.2 853.5 964.2 854.5 964.2 855.5 964.2 856.5 964.2 857.5 964.2 858.5 964.3 859.5 964.4 860.5 964.6 861.5 964.8 862.5 936 863.5 936 864.5 936 865.5 936 866.5 964.8 867.5 964.8 868.5 964.8 869.5 964.8 870.5 940.8 871.5 940.8 872.5 940.8 873.5 940.8 874.5 952.8 875.5 964.5 876.5 964.2 877.5 964.2 878.5 964.2 879.5 964.2 880.5 964.2 881.5 964.2 882.5 964.2 883.5 964.2 884.5 963.6 885.5 962.5 886.5 961.6 887.5 961.6 888.5 961.6 889.5 961.6 890.5 961.6 891.5 962.2 892.5 963.3 893.5 963.3 894.5 963.3 895.5 963.3 896.5 963.3 897.5 963.3 898.5 963.2 899.5 963.1 900.5 962.9 901.5 962.8 902.5 931.8 903.5 931.8 904.5 931.8 905.5 931.8 906.5 962.8 907.5 962.8 908.5 962.8 909.5 952.3 910.5 941.8 911.5 941.8 912.5 941.8 913.5 941.8 914.5 952.3 915.5 964.4 916.5 967.7 917.5 969.3 918.5 969.3 919.5 969.9 920.5 971 921.5 971 922.5 971 923.5 971 924.5 971 925.5 968.8 926.5 953.9 927.5 953.9 928.5 953.9 929.5 953.9 930.5 953.9 931.5 953.9 932.5 953.9 933.5 953.9 934.5 953.9 935.5 953.9 936.5 954.8 937.5 955.6 938.5 955.6 939.5 955.6 940.5 955.6 941.5 955.6 942.5 955.6 943.5 957.3 944.5 961.6 945.5 961.6 946.5 961.6 947.5 961.6 948.5 961.6 949.5 961.6 950.5 961.6 951.5 961.6 952.5 959.1 953.5 955.6 954.5 955.6 955.5 955.6 956.5 955.6 957.5 955.6 958.5 955.6 959.5 955.6 960.5 951.2 961.5 940.3 962.5 940.3 963.5 940.3 964.5 940.3 965.5 940.3 966.5 948.2 967.5 976.1 968.5 976.1 969.5 976.1 970.5 976.1 971.5 975.2 972.5 971 973.5 971 974.5 971 975.5 971 976.5 971 977.5 971 978.5 971 979.5 971 980.5 980.8 981.5 990.6 982.5 990.6 983.5 990.6 984.5 989.3 985.5 988.1 986.5 988.1 987.5 988.1 988.5 988.1 989.5 988.1 990.5 985.1 991.5 982.1 992.5 982.1 993.5 982.1 994.5 982.1 995.5 982.1 996.5 985.4 997.5 992.2 998.5 998.9 999.5 1003.3 1000.5 1006.7 1001.5 1010.4 1002.5 1013.4 1003.5 1015.5 1004.5 1017.6 1005.5 1017.4 1006.5 1014.9 1007.5 1012.4 1008.5 1010 1009.5 1008.6 1010.5 1007.7 1011.5 1006.8 1012.5 1007.7 1013.5 1009.3 1014.5 1011 1015.5 1012.6 1016.5 1014.3 1017.5 1015.8 1018.5 1017.4 1019.5 1018 1020.5 1015 1021.5 1011.9 1022.5 1009.8 1023.5 1007.8 1024.5 1005.7 1025.5 1003.6 1026.5 1003.7 1027.5 1005.9 1028.5 1008.2 1029.5 1010 1030.5 1011.5 1031.5 1012.9 1032.5 1014.4 1033.5 1013.8 1034.5 1012.7 1035.5 1011.6 1036.5 1010.7 1037.5 1011.4 1038.5 1012 1039.5 1012.7 1040.5 1013.3 1041.5 1014 1042.5 1014.1 1043.5 1014.2 1044.5 1014.4 1045.5 1014.5 1046.5 1014.6 1047.5 1014.7 1048.5 1015.3 1049.5 1016 1050.5 1016.7 1051.5 1017.3 1052.5 1018 1053.5 1018.7 1054.5 1017.9 1055.5 1017 1056.5 1016.1 1057.5 1015.2 1058.5 1014.3 1059.5 1013.4 1060.5 1012.9 1061.5 1014 1062.5 1015 1063.5 1016 1064.5 1017.1 1065.5 1018.1 1066.5 1017.9 1067.5 1017.7 1068.5 1017.5 1069.5 1017.3 1070.5 1017.1 1071.5 1016.9 1072.5 1017 1073.5 1017.5 1074.5 1018 1075.5 1018.5 1076.5 1018.3 1077.5 1017.2 1078.5 1016.1 1079.5 1015.1 1080.5 1013.9 1081.5 1012 1082.5 1010.1 1083.5 1008.1 1084.5 1007.1 1085.5 1008.2 1086.5 1009.3 1087.5 1010.4 1088.5 1011.5 1089.5 1012.6 1090.5 1013.7 1091.5 1015.1 1092.5 1016.7 1093.5 1018.2 1094.5 1018.1 1095.5 1016.8 1096.5 1015.5 1097.5 1014.2 1098.5 1012.9 1099.5 1011.6 1100.5 1010.3 1101.5 1011.9 1102.5 1013.8 1103.5 1015.7 1104.5 1017.7 1105.5 1018.9 1106.5 1019 1107.5 1019.2 1108.5 1019.3 1109.5 1019.5 1110.5 1018.1 1111.5 1016.6 1112.5 1015 1113.5 1013.5 1114.5 1012.7 1115.5 1012.7 1116.5 1012.7 1117.5 1012.7 1118.5 1012.7 1119.5 1013.2 1120.5 1013.9 1121.5 1014.5 1122.5 1015.1 1123.5 1015.8 1124.5 1016.5 1125.5 1017.4 1126.5 1018.3 1127.5 1019.2 1128.5 1020.1 1129.5 1020.4 1130.5 1019.2 1131.5 1018 1132.5 1016.9 1133.5 1015.7 1134.5 1014.6 1135.5 1014.1 1136.5 1013.5 1137.5 1012.9 1138.5 1013 1139.5 1014.1 1140.5 1015.1 1141.5 1016.2 1142.5 1017.2 1143.5 1018 1144.5 1018.7 1145.5 1019.4 1146.5 1020.2 1147.5 1019.7 1148.5 1017.5 1149.5 1015.2 1150.5 1011.9 1151.5 1007 1152.5 1003.8 1153.5 1006.9 1154.5 1010 1155.5 1012.9 1156.5 1015 1157.5 1017.1 1158.5 1019.2 1159.5 1021.3 1160.5 1022 1161.5 1022.1 1162.5 1022.3 1163.5 1022.4 1164.5 1022.5 1165.5 1022.4 1166.5 1022.2 1167.5 1022 1168.5 1021.9 1169.5 1020.3 1170.5 1018.3 1171.5 1016.4 1172.5 1014.5 1173.5 1013.4 1174.5 1012.4 1175.5 1011.3 1176.5 1010.3 1177.5 1009.3 1178.5 1008.9 1179.5 1008.6 1180.5 1008.4 1181.5 1010.3 1182.5 1012.7 1183.5 1015.2 1184.5 1017.6 1185.5 1016.9 1186.5 1011.5 1187.5 1006.2 1188.5 1003.8 1189.5 1005.9 1190.5 1008 1191.5 1010.1 1192.5 1010.7 1193.5 1010.4 1194.5 1010 1195.5 1009.6 1196.5 1009.9 1197.5 1010.2 1198.5 1010.5 1199.5 1010.7 1200.5 1010.7 1201.5 1010.3 1202.5 1009.9 1203.5 1009.4 1204.5 1009 1205.5 1006.5 1206.5 1003.7 1207.5 1001 1208.5 997.4 1209.5 1001.5 1210.5 1003.7 1211.5 1006 1212.5 1008.2 1213.5 1006.8 1214.5 1003.9 1215.5 1001 1216.5 994.9 1217.5 991.1 1218.5 993.7 1219.5 996.2 1220.5 998.7 1221.5 1000.9 1222.5 1002.1 1223.5 1001.3 1224.5 1000.2 1225.5 998.5 1226.5 996.7 1227.5 994.9 1228.5 993.1 1229.5 993.5 1230.5 998.7 1231.5 1002.1 1232.5 1004.4 1233.5 1001.1 1234.5 986.1 1235.5 970.4 1236.5 954.7 1237.5 972.9 1238.5 995 1239.5 1002 1240.5 1002 1241.5 1002 1242.5 1002 1243.5 1002 1244.5 1002 1245.5 1001.9 1246.5 1001.9 1247.5 1001.9 1248.5 1001.9 1249.5 1001.9 1250.5 1002.4 1251.5 1003.5 1252.5 1004.5 1253.5 1005.5 1254.5 1006.5 1255.5 1001.3 1256.5 989.1 1257.5 975.9 1258.5 962.7 1259.5 965.1 1260.5 983.2 1261.5 1000.8 1262.5 1005 1263.5 1005.5 1264.5 1005.9 1265.5 1006.4 1266.5 1006.3 1267.5 1005.9 1268.5 1005.5 1269.5 1005.2 1270.5 1004.8 1271.5 1006.2 1272.5 1007.8 1273.5 1009.4 1274.5 1010.2 1275.5 1004.8 1276.5 998.4 1277.5 986.3 1278.5 979.1 1279.5 983.5 1280.5 987.9 1281.5 992.3 1282.5 994.3 1283.5 992.8 1284.5 991.2 1285.5 989.6 1286.5 988 1287.5 989.8 1288.5 993.8 1289.5 997.8 1290.5 1000.8 1291.5 1001.1 1292.5 1000.9 1293.5 1000.7 1294.5 1000.5 1295.5 1000.3 1296.5 1001.9 1297.5 1003.4 1298.5 1004.9 1299.5 1006.3 1300.5 1005.5 1301.5 1004.8 1302.5 1004.1 1303.5 1003.4 1304.5 1001.4 1305.5 992.5 1306.5 981.6 1307.5 970.7 1308.5 959.8 1309.5 949 1310.5 957.8 1311.5 966.7 1312.5 975.5 1313.5 984.4 1314.5 993.2 1315.5 998.2 1316.5 1000.8 1317.5 1002.6 1318.5 1000.1 1319.5 994.1 1320.5 987.5 1321.5 981.6 1322.5 981.6 1323.5 981.6 1324.5 981.6 1325.5 979.2 1326.5 974.6 1327.5 969.9 1328.5 965.2 1329.5 964.1 1330.5 968.5 1331.5 972.9 1332.5 977.3 1333.5 981.7 1334.5 986.7 1335.5 992 1336.5 997.3 1337.5 996.4 1338.5 992.8 1339.5 989.1 1340.5 985.5 1341.5 981.9 1342.5 980.5 1343.5 979.3 1344.5 978.1 1345.5 976.9 1346.5 975.5 1347.5 973.1 1348.5 970.7 1349.5 968.4 1350.5 966 1351.5 965.9 1352.5 971.2 1353.5 976.5 1354.5 975.7 1355.5 965.8 1356.5 955.8 1357.5 953.9 1358.5 959.9 1359.5 965.9 1360.5 971.9 1361.5 977.9 1362.5 976.1 1363.5 971.1 1364.5 966 1365.5 961 1366.5 955.9 1367.5 950.9 1368.5 955.4 1369.5 960 1370.5 964.5 1371.5 963 1372.5 955.5 1373.5 948 1374.5 942.8 1375.5 942.8 1376.5 942.8 1377.5 942.8 1378.5 953.3 1379.5 964.9 1380.5 966.5 1381.5 953 1382.5 939.5 1383.5 926 1384.5 921.7 1385.5 919.7 1386.5 917.7 1387.5 915.7 1388.5 913.7 1389.5 911.7 1390.5 909.7 1391.5 913.1 1392.5 922.1 1393.5 931 1394.5 940 1395.5 948.9 1396.5 951.9 1397.5 950.9 1398.5 949.9 1399.5 948.9 1400.5 947.9 1401.5 939.1 1402.5 926.9 1403.5 914.7 1404.5 902.6 1405.5 890.4 1406.5 895 1407.5 901.4 1408.5 907.9 1409.5 914.3 1410.5 920.8 1411.5 935 1412.5 949.2 1413.5 963.4 1414.5 966.6 1415.5 953.5 1416.5 940.4 1417.5 927.2 1418.5 914.1 1419.5 901 1420.5 893.1 1421.5 897.4 1422.5 901.8 1423.5 906.2 1424.5 910.5 1425.5 914.9 1426.5 914.7 1427.5 896.3 1428.5 877.9 1429.5 859.5 1430.5 847.4 1431.5 841.7 1432.5 836 1433.5 830.2 1434.5 830.7 1435.5 840.5 1436.5 850.2 1437.5 860 1438.5 869.8 1439.5 878.9 1440.5 888 1441.5 897.2 1442.5 906.3 1443.5 915.4 1444.5 924.6 1445.5 933.8 1446.5 943 1447.5 948.8 1448.5 951.2 1449.5 953.6 1450.5 956 1451.5 958.4 1452.5 960.7 1453.5 965.6 1454.5 974.3 1455.5 982.9 1456.5 991.5 1457.5 1000.1 1458.5 1002.2 1459.5 1002.6 1460.5 1002.9 1461.5 1003.2 1462 1003.2 1462 1026.1 1461.5 1026.1 1460.5 1026 1459.5 1025.8 1458.5 1025.7 1457.5 1025.6 1456.5 1025.4 1455.5 1025.3 1454.5 1024.9 1453.5 1024.4 1452.5 1023.8 1451.5 1023.2 1450.5 1022.6 1449.5 1022.1 1448.5 1021.5 1447.5 1020.7 1446.5 1019.5 1445.5 1018.4 1444.5 1017.3 1443.5 1016.2 1442.5 1015 1441.5 1013.9 1440.5 1012.8 1439.5 1012.2 1438.5 1012.1 1437.5 1012 1436.5 1011.9 1435.5 1011.8 1434.5 1011.7 1433.5 1011.6 1432.5 1011.5 1431.5 1011.4 1430.5 1011.4 1429.5 1011.3 1428.5 1011.2 1427.5 1011.1 1426.5 1011 1425.5 1010.9 1424.5 1010.8 1423.5 1010.7 1422.5 1010.6 1421.5 1010.5 1420.5 1010.4 1419.5 1010.4 1418.5 1010.3 1417.5 1010.7 1416.5 1011.6 1415.5 1012.5 1414.5 1013.4 1413.5 1014.3 1412.5 1015.2 1411.5 1016.1 1410.5 1017 1409.5 1017.9 1408.5 1018.8 1407.5 1019.4 1406.5 1019.6 1405.5 1019.9 1404.5 1020.2 1403.5 1020.4 1402.5 1020.7 1401.5 1021 1400.5 1021.2 1399.5 1021.5 1398.5 1021.8 1397.5 1022 1396.5 1022.3 1395.5 1022.6 1394.5 1022.7 1393.5 1022.8 1392.5 1022.8 1391.5 1022.9 1390.5 1022.9 1389.5 1023 1388.5 1023 1387.5 1023.1 1386.5 1023.1 1385.5 1023.2 1384.5 1023.2 1383.5 1023.3 1382.5 1023.3 1381.5 1023.4 1380.5 1023.4 1379.5 1023.5 1378.5 1023.5 1377.5 1023.6 1376.5 1023.6 1375.5 1023.6 1374.5 1023.7 1373.5 1023.7 1372.5 1023.7 1371.5 1023.8 1370.5 1023.8 1369.5 1023.8 1368.5 1023.8 1367.5 1023.8 1366.5 1023.8 1365.5 1023.8 1364.5 1023.8 1363.5 1023.9 1362.5 1023.9 1361.5 1023.9 1360.5 1023.9 1359.5 1023.9 1358.5 1023.9 1357.5 1023.9 1356.5 1024 1355.5 1024 1354.5 1024 1353.5 1024 1352.5 1024 1351.5 1024 1350.5 1024 1349.5 1024.1 1348.5 1024.1 1347.5 1024.1 1346.5 1024.1 1345.5 1024.1 1344.5 1024.1 1343.5 1024.1 1342.5 1024.1 1341.5 1024.2 1340.5 1024.2 1339.5 1024.2 1338.5 1024.2 1337.5 1024.2 1336.5 1024.2 1335.5 1024.2 1334.5 1024.3 1333.5 1024.3 1332.5 1024.3 1331.5 1024.3 1330.5 1024.3 1329.5 1024.3 1328.5 1024.3 1327.5 1024.3 1326.5 1024.4 1325.5 1024.4 1324.5 1024.4 1323.5 1024.4 1322.5 1024.4 1321.5 1024.4 1320.5 1024.4 1319.5 1024.5 1318.5 1024.5 1317.5 1024.5 1316.5 1024.5 1315.5 1024.5 1314.5 1024.5 1313.5 1024.5 1312.5 1024.6 1311.5 1024.6 1310.5 1024.6 1309.5 1024.6 1308.5 1024.6 1307.5 1024.6 1306.5 1024.6 1305.5 1024.6 1304.5 1024.7 1303.5 1024.7 1302.5 1024.7 1301.5 1024.7 1300.5 1024.7 1299.5 1024.7 1298.5 1024.7 1297.5 1024.7 1296.5 1024.8 1295.5 1024.8 1294.5 1024.8 1293.5 1024.8 1292.5 1024.8 1291.5 1024.8 1290.5 1024.8 1289.5 1024.8 1288.5 1024.8 1287.5 1024.8 1286.5 1024.9 1285.5 1024.9 1284.5 1024.9 1283.5 1024.9 1282.5 1024.9 1281.5 1024.9 1280.5 1024.9 1279.5 1024.9 1278.5 1024.9 1277.5 1024.9 1276.5 1025 1275.5 1025 1274.5 1025 1273.5 1025 1272.5 1025 1271.5 1025 1270.5 1025 1269.5 1025 1268.5 1025 1267.5 1025 1266.5 1025.1 1265.5 1025.1 1264.5 1025.1 1263.5 1025.1 1262.5 1025.1 1261.5 1025.1 1260.5 1025.1 1259.5 1025.1 1258.5 1025.1 1257.5 1025.1 1256.5 1025.2 1255.5 1025.2 1254.5 1025.2 1253.5 1025.2 1252.5 1025.2 1251.5 1025.2 1250.5 1025.2 1249.5 1025.2 1248.5 1025.2 1247.5 1025.2 1246.5 1025.3 1245.5 1025.3 1244.5 1025.3 1243.5 1025.3 1242.5 1025.3 1241.5 1025.3 1240.5 1025.3 1239.5 1025.3 1238.5 1025.3 1237.5 1025.3 1236.5 1025.4 1235.5 1025.4 1234.5 1025.4 1233.5 1025.4 1232.5 1025.4 1231.5 1025.4 1230.5 1025.4 1229.5 1025.4 1228.5 1025.4 1227.5 1025.4 1226.5 1025.5 1225.5 1025.5 1224.5 1025.5 1223.5 1025.5 1222.5 1025.5 1221.5 1025.5 1220.5 1025.5 1219.5 1025.5 1218.5 1025.5 1217.5 1025.5 1216.5 1025.6 1215.5 1025.6 1214.5 1025.6 1213.5 1025.6 1212.5 1025.6 1211.5 1025.6 1210.5 1025.6 1209.5 1025.6 1208.5 1025.6 1207.5 1025.6 1206.5 1025.7 1205.5 1025.7 1204.5 1025.7 1203.5 1025.7 1202.5 1025.7 1201.5 1025.7 1200.5 1025.7 1199.5 1025.7 1198.5 1025.7 1197.5 1025.7 1196.5 1025.8 1195.5 1025.8 1194.5 1025.8 1193.5 1025.8 1192.5 1025.8 1191.5 1025.8 1190.5 1025.8 1189.5 1025.8 1188.5 1025.8 1187.5 1025.8 1186.5 1025.9 1185.5 1025.9 1184.5 1025.9 1183.5 1025.9 1182.5 1025.9 1181.5 1025.9 1180.5 1025.9 1179.5 1025.9 1178.5 1025.9 1177.5 1025.9 1176.5 1026 1175.5 1026 1174.5 1026 1173.5 1026 1172.5 1026 1171.5 1026 1170.5 1026 1169.5 1026 1168.5 1026 1167.5 1026 1166.5 1026.1 1165.5 1026.1 1164.5 1026.1 1163.5 1026.1 1162.5 1026.1 1161.5 1026.1 1160.5 1026.1 1159.5 1026.1 1158.5 1026.1 1157.5 1026.1 1156.5 1026.2 1155.5 1026.2 1154.5 1026.2 1153.5 1026.2 1152.5 1026.2 1151.5 1026.2 1150.5 1026.2 1149.5 1026.2 1148.5 1026.2 1147.5 1026.2 1146.5 1026.3 1145.5 1026.3 1144.5 1026.3 1143.5 1026.3 1142.5 1026.3 1141.5 1026.3 1140.5 1026.3 1139.5 1026.3 1138.5 1026.3 1137.5 1026.3 1136.5 1026.4 1135.5 1026.4 1134.5 1026.4 1133.5 1026.4 1132.5 1026.4 1131.5 1026.4 1130.5 1026.4 1129.5 1026.4 1128.5 1026.4 1127.5 1026.4 1126.5 1026.5 1125.5 1026.5 1124.5 1026.5 1123.5 1026.5 1122.5 1026.5 1121.5 1026.5 1120.5 1026.5 1119.5 1026.5 1118.5 1026.5 1117.5 1026.5 1116.5 1026.6 1115.5 1026.6 1114.5 1026.6 1113.5 1026.6 1112.5 1026.6 1111.5 1026.6 1110.5 1026.6 1109.5 1026.6 1108.5 1026.6 1107.5 1026.6 1106.5 1026.7 1105.5 1026.7 1104.5 1026.7 1103.5 1026.7 1102.5 1026.7 1101.5 1026.7 1100.5 1026.7 1099.5 1026.7 1098.5 1026.7 1097.5 1026.7 1096.5 1026.7 1095.5 1026.7 1094.5 1026.7 1093.5 1026.7 1092.5 1026.7 1091.5 1026.7 1090.5 1026.7 1089.5 1026.7 1088.5 1026.7 1087.5 1026.7 1086.5 1026.7 1085.5 1026.6 1084.5 1026.6 1083.5 1026.6 1082.5 1026.6 1081.5 1026.6 1080.5 1026.6 1079.5 1026.6 1078.5 1026.6 1077.5 1026.6 1076.5 1026.6 1075.5 1026.6 1074.5 1026.6 1073.5 1026.6 1072.5 1026.6 1071.5 1026.6 1070.5 1026.6 1069.5 1026.6 1068.5 1026.6 1067.5 1026.6 1066.5 1026.6 1065.5 1026.5 1064.5 1026.5 1063.5 1026.5 1062.5 1026.5 1061.5 1026.5 1060.5 1026.5 1059.5 1026.5 1058.5 1026.5 1057.5 1026.5 1056.5 1026.5 1055.5 1026.5 1054.5 1026.5 1053.5 1026.5 1052.5 1026.5 1051.5 1026.5 1050.5 1026.5 1049.5 1026.5 1048.5 1026.5 1047.5 1026.5 1046.5 1026.5 1045.5 1026.4 1044.5 1026.4 1043.5 1026.4 1042.5 1026.4 1041.5 1026.4 1040.5 1026.4 1039.5 1026.4 1038.5 1026.4 1037.5 1026.4 1036.5 1026.4 1035.5 1026.4 1034.5 1026.4 1033.5 1026.4 1032.5 1026.4 1031.5 1026.4 1030.5 1026.4 1029.5 1026.4 1028.5 1026.4 1027.5 1026.4 1026.5 1026.4 1025.5 1026.3 1024.5 1026.3 1023.5 1026.3 1022.5 1026.3 1021.5 1026.3 1020.5 1026.3 1019.5 1026.3 1018.5 1026.3 1017.5 1026.3 1016.5 1026.3 1015.5 1026.3 1014.5 1026.3 1013.5 1026.3 1012.5 1026.3 1011.5 1026.3 1010.5 1026.3 1009.5 1026.3 1008.5 1026.3 1007.5 1026.3 1006.5 1026.3 1005.5 1026.2 1004.5 1026.2 1003.5 1026.2 1002.5 1026.2 1001.5 1026.2 1000.5 1026.2 999.5 1026.2 998.5 1026.2 997.5 1026.3 996.5 1026.3 995.5 1026.3 994.5 1026.3 993.5 1026.3 992.5 1026.3 991.5 1026.3 990.5 1026.3 989.5 1026.4 988.5 1026.4 987.5 1026.4 986.5 1026.4 985.5 1026.4 984.5 1026.4 983.5 1026.4 982.5 1026.4 981.5 1026.5 980.5 1026.5 979.5 1026.5 978.5 1026.5 977.5 1026.5 976.5 1026.5 975.5 1026.5 974.5 1026.5 973.5 1026.6 972.5 1026.6 971.5 1026.6 970.5 1026.6 969.5 1026.6 968.5 1026.6 967.5 1026.6 966.5 1026.6 965.5 1026.7 964.5 1026.7 963.5 1026.7 962.5 1026.7 961.5 1026.7 960.5 1026.7 959.5 1026.7 958.5 1026.7 957.5 1026.7 956.5 1026.7 955.5 1026.8 954.5 1026.8 953.5 1026.8 952.5 1026.8 951.5 1026.8 950.5 1026.8 949.5 1026.8 948.5 1026.8 947.5 1026.8 946.5 1026.8 945.5 1026.8 944.5 1026.8 943.5 1026.9 942.5 1026.9 941.5 1026.9 940.5 1026.9 939.5 1026.9 938.5 1026.9 937.5 1026.9 936.5 1026.9 935.5 1026.9 934.5 1026.9 933.5 1026.9 932.5 1026.9 931.5 1027 930.5 1027 929.5 1027 928.5 1027 927.5 1027 926.5 1027 925.5 1027 924.5 1027 923.5 1027 922.5 1027 921.5 1027 920.5 1027 919.5 1027.1 918.5 1027.1 917.5 1027.1 916.5 1027.1 915.5 1027.1 914.5 1027.1 913.5 1027.1 912.5 1027.1 911.5 1027.1 910.5 1027.1 909.5 1027.1 908.5 1027.1 907.5 1027.2 906.5 1027.2 905.5 1027.2 904.5 1027.2 903.5 1027.2 902.5 1027.2 901.5 1027.2 900.5 1027.2 899.5 1027.2 898.5 1027.3 897.5 1027.3 896.5 1027.3 895.5 1027.3 894.5 1027.4 893.5 1027.4 892.5 1027.4 891.5 1027.4 890.5 1027.5 889.5 1027.5 888.5 1027.5 887.5 1027.5 886.5 1027.6 885.5 1027.6 884.5 1027.6 883.5 1027.6 882.5 1027.7 881.5 1027.7 880.5 1027.7 879.5 1027.7 878.5 1027.8 877.5 1027.8 876.5 1027.8 875.5 1027.8 874.5 1027.9 873.5 1027.9 872.5 1027.9 871.5 1027.9 870.5 1028 869.5 1028 868.5 1028 867.5 1028 866.5 1028.1 865.5 1028.1 864.5 1028.1 863.5 1028.1 862.5 1028.2 861.5 1028.2 860.5 1028.2 859.5 1028.2 858.5 1028 857.5 1027.9 856.5 1027.8 855.5 1027.6 854.5 1027.5 853.5 1027.4 852.5 1027.2 851.5 1027.1 850.5 1027 849.5 1026.9 848.5 1026.7 847.5 1026.6 846.5 1026.5 845.5 1026.3 844.5 1026.2 843.5 1026.1 842.5 1025.9 841.5 1025.8 840.5 1025.7 839.5 1025.5 838.5 1025.4 837.5 1025.3 836.5 1025.3 835.5 1025.4 834.5 1025.6 833.5 1025.7 832.5 1025.9 831.5 1026 830.5 1026.1 829.5 1026.3 828.5 1026.5 827.5 1026.7 826.5 1026.9 825.5 1027.1 824.5 1027.3 823.5 1027.5 822.5 1027.7 821.5 1027.9 820.5 1028.1 819.5 1028.2 818.5 1028.3 817.5 1028.3 816.5 1028.3 815.5 1028.4 814.5 1028.4 813.5 1028.4 812.5 1028.5 811.5 1028.5 810.5 1028.5 809.5 1028.6 808.5 1028.6 807.5 1028.6 806.5 1028.7 805.5 1028.7 804.5 1028.7 803.5 1028.8 802.5 1028.8 801.5 1028.8 800.5 1028.9 799.5 1028.9 798.5 1028.9 797.5 1029 796.5 1029 795.5 1029 794.5 1029.1 793.5 1029.1 792.5 1029.1 791.5 1029.2 790.5 1029.2 789.5 1029.2 788.5 1029.2 787.5 1029.3 786.5 1029.3 785.5 1029.3 784.5 1029.3 783.5 1029.3 782.5 1029.3 781.5 1029.3 780.5 1029.3 779.5 1029.4 778.5 1029.4 777.5 1029.4 776.5 1029.4 775.5 1029.4 774.5 1029.4 773.5 1029.4 772.5 1029.4 771.5 1029.5 770.5 1029.5 769.5 1029.5 768.5 1029.5 767.5 1029.5 766.5 1029.5 765.5 1029.5 764.5 1029.5 763.5 1029.6 762.5 1029.6 761.5 1029.6 760.5 1029.6 759.5 1029.6 759 1029.6Z" fill="#1f77b4"/><path d="M116 854.5h0m0 -8.5h0m0 152h0m0.5 -3h0m0 -137.5h0m0 -13h0m0 -11h0m0 16.5h0m0 13h0m0 -21.5h0m0 24h0m0 -6h0m0 -23h0m0.5 -6h0m0 22h0m0 15.5h0m0 -30h0m0 161.5h0m0.5 -164.5h0m0.5 2h0m0 3h0m0 30.5h0m0 133h0m0.5 -159.5h0m1 2.5h0m0 10.5h0m0 -5h0m0 24h0m0.5 -20.5h0m0 151.5h0m0 -157h0m0.5 16.5h0m0 25.5h0m0 -31.5h0m0 3.5h0m0 10h0m0 -4.5h0m0.5 140.5h0m0 1h0m0 -138.5h0m0 14.5h0m0.5 132.5h0m0 -4.5h0m0 -137h0m0.5 2h0m0 10h0m0 -6.5h0m0 2h0m0 136h0m0 -125h0m0.5 3h0m0 124h0m0 -116h0m0.5 -4.5h0m0 -8.5h0m0 24.5h0m0 -2.5h0m0.5 10h0m0 -3h0m0 -15h0m0 13h0m0 -11h0m0 19.5h0m0.5 97h0m0 -113.5h0m0.5 113h0m0.5 -67h0m0 -19h0m0 -3h0m0.5 84h0m0 -89.5h0m0 31.5h0m0 -28.5h0m0 33.5h0m0.5 -24.5h0m0 6.5h0m0.5 3.5h0m0 20.5h0m0 -29h0m0 24h0m0.5 -21.5h0m0 13h0m0.5 -6h0m0.5 33h0m0 37.5h0m0 -46h0m0.5 -20.5h0m0 61h0m0 -25.5h0m0.5 -26h0m0 -4.5h0m0.5 10.5h0m0 9.5h0m0.5 4.5h0m0 2.5h0m0.5 -21h0m0 11h0m0 41h0m0.5 7h0m0.5 -70.5h0m0 3.5h0m0.5 4.5h0m0 10.5h0m0 -28.5h0m0.5 1.5h0m0 6h0m0 15.5h0m0 -19h0m0.5 -15h0m0 2.5h0m0 21.5h0m0.5 -18h0m0 2.5h0m0 80h0m0.5 -59h0m0.5 -33h0m0 -2h0m0.5 96.5h0m0 -79h0m1 -5h0m0 -7h0m0.5 2.5h0m0 13h0m0 -18.5h0m0 23.5h0m0 69h0m0.5 -71h0m0 -11h0m0.5 -16h0m0 -3.5h0m0 37.5h0m0.5 66h0m0.5 -2.5h0m0.5 -76.5h0m0 16.5h0m1 -25h0m0 -10.5h0m0 31h0m0 67h0m0 -58h0m0 -36.5h0m0.5 24h0m0.5 -21h0m0 16.5h0m0 -11h0m0.5 3.5h0m0 3.5h0m0 -9.5h0m0 35h0m0.5 9h0m0.5 -28.5h0m0 -2.5h0m0 72h0m0.5 -67h0m0 10.5h0m0 -7h0m0.5 2.5h0m0.5 15h0m0 -9.5h0m0 -3h0m0.5 6h0m0 56.5h0m0.5 -38h0m0 5h0m0 -8h0m0 -5h0m0.5 2.5h0m0 1h0m0 39.5h0m0 -46h0m0 -3h0m1 23h0m0 5h0m0.5 23.5h0m0.5 -19.5h0m0 -12h0m0 -3h0m1.5 32h0m0 -9.5h0m0 -10h0m1 21h0m0 -15.5h0m0.5 -9h0m0.5 24.5h0m0.5 -2.5h0m0 -26.5h0m0.5 -2h0m0 -5.5h0m0.5 36h0m0 -34h0m0.5 16h0m0 -22.5h0m0 37h0m0.5 -24.5h0m0 3h0m0 -18h0m0 23h0m0.5 -26h0m0 -5h0m0.5 14.5h0m0 -12h0m0 15.5h0m0.5 -18h0m0.5 48.5h0m0.5 -22h0m0 -21h0m0 3h0m0.5 41h0m1 -28h0m0.5 -3.5h0m0 -6.5h0m0 -10h0m1 48h0m0 -2.5h0m0 -27h0m0.5 -9.5h0m0 4h0m0 -2h0m0 -6h0m0 19h0m1 23.5h0m1 -45.5h0m1 5h0m0 -8h0m0.5 -3h0m0 1.5h0m0 16.5h0m0.5 29.5h0m0 -48.5h0m0 20.5h0m0 -23.5h0m0 28.5h0m0.5 -15h0m0 -23h0m0 4h0m0 62h0m0.5 -50.5h0m0 -13.5h0m0.5 26.5h0m0 -35h0m0 -2h0m0.5 -5h0m0 10.5h0m0 23.5h0m0.5 -32h0m0 22h0m0.5 -30.5h0m0 3h0m0.5 -5h0m0 28h0m0 -31h0m0 90h0m0 -96.5h0m0.5 -5h0m0 98.5h0m0 -90.5h0m0.5 -5.5h0m0 -9h0m0.5 2.5h0m0 -5.5h0m0 104.5h0m0.5 4.5h0m0 -91h0m0 12h0m0.5 -4.5h0m0 8h0m0 -19.5h0m0.5 -17h0m1 13.5h0m0 -19.5h0m0.5 117h0m0 -102h0m0 15.5h0m0 -19.5h0m0.5 -7h0m0 8h0m0 -18.5h0m0.5 12h0m0 -8.5h0m0.5 24.5h0m0 -29.5h0m0.5 34h0m0 87.5h0m0 -94h0m0.5 97h0m0 -107h0m1 -18h0m0 7.5h0m0 112.5h0m0.5 -96.5h0m0 -11.5h0m0.5 16h0m0 97h0m0.5 -121.5h0m0 6h0m0.5 6h0m0 4h0m0.5 104.5h0m0 -93h0m0 -34.5h0m1 124.5h0m0.5 -125h0m0 30.5h0m0.5 -20.5h0m0 15.5h0m0 -23h0m0.5 129h0m0 -110h0m0 -13.5h0m0 5.5h0m0 5h0m0.5 -14h0m0.5 -7.5h0m0.5 -8h0m0 -2.5h0m0.5 7.5h0m0 132h0m0 -135h0m0 -9h0m0 -32h0m0 10.5h0m0 7.5h0m0 -15.5h0m0 5h0m0 15.5h0m0.5 -2h0m0 7.5h0m0 -13.5h0m0.5 163h0m0 -152.5h0m0 -29.5h0m0 31h0m0.5 -37h0m0 14h0m0 -10.5h0m0.5 7h0m0 12.5h0m0 -24.5h0m0.5 195h0m0 -5.5h0m1.5 -155h0m0 -13.5h0m0.5 -17.5h0m0.5 25.5h0m0 5.5h0m0 -16h0m0.5 -9.5h0m0 -2h0m0 186.5h0m0.5 -181.5h0m0 179h0m0 -176.5h0m0.5 23.5h0m0.5 -12.5h0m0 168h0m0 -173h0m0 4h0m0 -7.5h0m0 26.5h0m0.5 -2.5h0m0 12h0m0 5.5h0m0 138.5h0m0.5 -167.5h0m0 4h0m0 29.5h0m0 -15h0m0 24.5h0m1 -6.5h0m0.5 9.5h0m0 -18.5h0m0.5 23h0m0.5 -18h0m0.5 -9.5h0m0 16.5h0m0 -23.5h0m0 148h0m0 -157h0m1 2h0m0 -7h0m0.5 168.5h0m0 -170h0m0 167.5h0m0 -155.5h0m0 7.5h0m0.5 3.5h0m0 -28.5h0m0 2h0m0.5 32h0m0.5 -24.5h0m0 -1h0m0.5 2.5h0m0 -5h0m0.5 12.5h0m0 -5.5h0m0 3h0m0 7.5h0m0.5 146h0m0 -147.5h0m0.5 10h0m0 -4h0m0 -2h0m0 24h0m0 -11h0m0 135h0m0 -140h0m0 33.5h0m0 -5h0m0.5 -4h0m0 -22h0m0 29h0m0 -18h0m0 12.5h0m0 11h0m0 -26.5h0m0 -2.5h0m0.5 10h0m0 124.5h0m0 -122h0m0 46.5h0m0 20h0m0.5 -2h0m0 -15.5h0m0 -8h0m0 32.5h0m0 -18.5h0m0 -16.5h0m0 -3h0m0 34h0m0.5 -8h0m0 -2.5h0m0 -16h0m0 8.5h0m0 46h0m0.5 6h0m0 -3.5h0m0.5 7.5h0m0.5 10h0m0 -8h0m0 2.5h0m0.5 3h0m0 9.5h0m0.5 -3.5h0m1 -1.5h0m1.5 3.5h0m0.5 -3h0m3.5 -0.5h0m0 3h0m3 0.5h0m0.5 -3.5h0m1 2.5h0m1 -2.5h0m2 0h0m1 3.5h0m2 -0.5h0m2 -3h0m1 3.5h0m3.5 -3.5h0m1 3h0m1.5 -2h0m1.5 1.5h0m2 -3.5h0m1 3.5h0m1 -3h0m1 4h0m2.5 0h0m1 -3.5h0m1.5 0.5h0m1 2h0m2.5 -2h0m0.5 3h0m1.5 -2.5h0m1.5 -0.5h0m1.5 3h0m0.5 -3h0m3 0.5h0m1 2.5h0m2 0h0m0 -3h0m2 0h0m1 3h0m2 -0.5h0m1 -2.5h0m1.5 3h0m1 0h0m1.5 -3.5h0m1 3h0m1.5 0.5h0m1.5 -3.5h0m2 2h0m1 -1.5h0m2 3h0m0.5 -3h0m2 -0.5h0m0.5 3h0m3 0h0m0.5 -2.5h0m1.5 3h0m1 -3.5h0m1.5 0h0m1 2.5h0m2 -2.5h0m1 3h0m1.5 0h0m1 -3h0m1 3h0m1 0h0m1 -3h0m1 0h0m0 3h0m2.5 0h0m1.5 -3h0m0.5 3h0m1.5 0h0m1 0h0m0.5 -2.5h0m1.5 2.5h0m0 -3h0m3 3h0m1 -2.5h0m1.5 2h0m2.5 1h0m0 -3.5h0m1.5 3.5h0m0.5 -3h0m2 3h0m0.5 -3h0m0 2.5h0m1 -3h0m2 0h0m2 3h0m1 -1h0m1 -1.5h0m2 -0.5h0m1 3h0m1 -2.5h0m2 2.5h0m1 0h0m1.5 -3h0m1 3.5h0m1 0h0m1 -3h0m1.5 2.5h0m0.5 -3h0m1.5 3h0m2.5 0h0m0 -3h0m1.5 3.5h0m1 -3h0m1.5 2.5h0m1.5 -2h0m0.5 2h0m1.5 -2.5h0m1 3h0m1.5 -2.5h0m1 2h0m1.5 -2.5h0m1 2.5h0m0.5 -3h0m2 3h0m0.5 -2.5h0m2.5 3h0m1 -3h0m1 3h0m0.5 -3.5h0m1.5 0.5h0m3 3h0m0.5 -2.5h0m2 -0.5h0m1.5 2h0m2.5 0.5h0m0 -4h0m2.5 4h0m0.5 -3h0m3 3h0m2 -3h0m0 0h0m0.5 3h0m0.5 -3h0m2 3h0m0.5 -3h0m3.5 3h0m0.5 -3h0m1.5 3.5h0m0 -3h0m2 0.5h0m1.5 0h0m0.5 2h0m2.5 0h0m0.5 -3h0m2 2.5h0m3 -2h0m1 3h0m1.5 -3.5h0m1.5 2.5h0m1 -2.5h0m1.5 3.5h0m2 0h0m0 -3.5h0m1 3h0m2.5 0h0m0.5 -2h0m1 2h0m2.5 -3h0m0.5 3h0m2 0h0m1 -2h0m2 2h0m0.5 -3h0m1.5 3.5h0m2.5 -3.5h0m1 2.5h0m3.5 -2.5h0m0 3h0m2 0.5h0m0 -3.5h0m3 0.5h0m0.5 3h0m1.5 -3h0m1.5 3h0m0 -3.5h0m3 3.5h0m2 0h0m0 -3.5h0m4 3h0m0.5 -3.5h0m1 3.5h0m2 -4.5h0m1.5 5h0m1.5 -5.5h0m2 0.5h0m0 4.5h0m2 0h0m1 -3h0m1.5 3h0m0 -3h0m2 3h0m1.5 0h0m1.5 -3h0m2 3.5h0m1 0h0m0.5 -2.5h0m2.5 -1h0m0.5 3.5h0m2.5 -0.5h0m1 -2h0m2 -1h0m1 2h0m3.5 0.5h0m0.5 -2.5h0m0.5 3h0m1.5 0h0m1.5 -3h0m1 3h0m1 -3h0m2 3.5h0m1.5 -3h0m3 2.5h0m1 -3h0m1 3h0m0.5 -3h0m2 3.5h0m2 -4h0m1.5 4h0m2 0h0m1.5 -3h0m0.5 -0.5h0m1 3.5h0m1.5 -0.5h0m1.5 -3.5h0m0.5 3.5h0m2.5 -3h0m0.5 3.5h0m3 0h0m0.5 -3h0m1.5 -0.5h0m1 0h0m1 3h0m2 0h0m1 -2.5h0m1 -0.5h0m1.5 3h0m1 -3h0m3 2.5h0m1 -3h0m2 2.5h0m2 1.5h0m0.5 -4h0m0.5 4h0m1.5 -3.5h0m3.5 3h0m1 -3.5h0m2.5 0.5h0m2 3.5h0m0.5 -3.5h0m1.5 3h0m2.5 0.5h0m0 -3.5h0m2.5 0h0m1 -0.5h0m0.5 4h0m2 -0.5h0m1 -3.5h0m2 4h0m1.5 -3.5h0m2.5 3h0m0.5 -2.5h0m2 -0.5h0m1 0h0m0 3.5h0m1.5 0h0m0.5 -3.5h0m1.5 3.5h0m0.5 -3.5h0m2 0h0m1 0h0m1 2.5h0m0.5 -2.5h0m0.5 3.5h0m2.5 0h0m1 -4h0m1.5 3.5h0m1.5 0.5h0m0.5 -2.5h0m1 1.5h0m1 -2h0m1.5 0h0m2.5 3h0m1.5 -3.5h0m1 3.5h0m2 -4h0m0.5 3.5h0m1.5 0.5h0m1.5 -4h0m0 3.5h0m2 -3.5h0m1 3.5h0m0.5 -3.5h0m2.5 3.5h0m0 -3.5h0m2 3.5h0m1.5 0h0m0.5 -3h0m1.5 3.5h0m3.5 -4h0m1 4h0m2.5 -0.5h0m1 -3.5h0m1.5 3.5h0m1 -3.5h0m2 4h0m0.5 -4h0m1 4h0m2 -4h0m1.5 3.5h0m1 -3.5h0m1 3.5h0m2.5 -2.5h0m2 3h0m1 -4h0m2 3h0m2 -2h0m1 2.5h0m1.5 0h0m0.5 -3.5h0m2.5 2.5h0m0 -2h0m3 2.5h0m0.5 -3h0m2 3.5h0m0.5 -3h0m1 -0.5h0m0.5 2.5h0m2 -2h0m1 0h0m0.5 3h0m2 0.5h0m1 -4h0m1.5 3.5h0m0.5 -3h0m2 0.5h0m0.5 3h0m2 0h0m2.5 0h0m0 -3.5h0m2 0h0m0.5 3.5h0m2 0h0m1 -3.5h0m1.5 3.5h0m2 -0.5h0m0.5 -3h0m2 -0.5h0m1 0h0m0 3.5h0m1 -0.5h0m3 1h0m0.5 -4h0m2.5 3.5h0m1 -3.5h0m1 0h0m2 1h0m0 2.5h0m3.5 -3h0m0.5 3.5h0m0.5 -3.5h0m2 0h0m2 3.5h0m0.5 -4h0m1.5 0.5h0m2 3h0m0.5 -3.5h0m4 4h0m1 0h0m0 -4h0m3 4h0m0 -4h0m2 0h0m0.5 3.5h0m3 -3.5h0m1 3h0m2.5 -3.5h0m1 4.5h0m2 -3.5h0m0.5 3h0m1 0h0m2 -5h0m0.5 0.5h0m1 4h0m1 -4h0m0 4.5h0m3.5 -3h0m0 3h0m3 0h0m0.5 -4.5h0m1.5 0.5h0m1.5 3.5h0m0 -3h0m3.5 -0.5h0m1 3.5h0m0 -4h0m1 1h0m1.5 2.5h0m2.5 -2.5h0m1 3h0m1 -5h0m1.5 -1h0m1.5 5h0m0.5 -6h0m0.5 8.5h0m0.5 -3.5h0m0.5 -16h0m0 7.5h0m0.5 -3h0m0.5 -7.5h0m0.5 -5h0m0 3h0m0 -6h0m0 -1.5h0m0.5 -8h0m0 39h0m0 -33.5h0m0.5 -2h0m0.5 -10h0m0 42.5h0m0.5 -39.5h0m0.5 16h0m0.5 26.5h0m0.5 -24h0m0 5.5h0m0.5 -29.5h0m0 18h0m0.5 -3h0m0.5 -4.5h0m0.5 38h0m0 -41h0m0.5 38h0m0.5 -45h0m0 25h0m0 -22h0m0 3.5h0m0.5 10.5h0m0 -3h0m0 -5h0m0 10.5h0m0.5 -7.5h0m0 11h0m0.5 12.5h0m0 -8.5h0m0.5 21.5h0m0 -17.5h0m1 -6h0m0 8h0m0.5 -10.5h0m1 22.5h0m1 2h0m0 -32.5h0m0 16h0m0.5 -12.5h0m0 -6.5h0m0.5 7h0m0.5 32h0m0 -25h0m0 -21.5h0m0 4h0m0.5 15h0m0.5 -20.5h0m0.5 45h0m1 -48h0m0 8.5h0m0 5.5h0m0 32.5h0m0.5 -49h0m0 47.5h0m0 -38.5h0m0.5 10.5h0m0.5 7h0m0 -2.5h0m0.5 27h0m1 -50.5h0m0 2.5h0m0 2.5h0m0 45.5h0m0 -41.5h0m0.5 38.5h0m0 -29.5h0m0 -2h0m0.5 13h0m0 -5.5h0m0 -3.5h0m0 -7h0m0.5 21.5h0m0 2h0m0.5 13.5h0m1 -11h0m0.5 11.5h0m0.5 -17h0m0 -3.5h0m0 -5h0m0.5 23h0m1.5 -1.5h0m0.5 -11h0m0.5 -10h0m0 25.5h0m0.5 -12h0m0.5 -10h0m0 3h0m0 9.5h0m1 -6h0m1 13h0m0.5 1.5h0m1.5 -3h0m0 -4h0m0 -4h0m0.5 -2h0m1 13.5h0m1 0h0m1 -4h0m0.5 -11.5h0m0 7h0m0.5 -3.5h0m1 -3.5h0m0.5 10.5h0m0.5 7h0m0.5 -12.5h0m0 10h0m1.5 -13.5h0m0.5 15.5h0m0.5 -7.5h0m0.5 4h0m0 -14.5h0m1 7h0m1.5 -3h0m0.5 -5h0m0.5 6h0m0 8h0m0 5h0m2 -20h0m0.5 1.5h0m0 9h0m1 4.5h0m0 -9.5h0m0.5 12h0m0.5 -21h0m0.5 -5.5h0m0.5 3h0m0 3.5h0m1 -10.5h0m0 14.5h0m0 17h0m1 -33.5h0m0 28.5h0m1 -12.5h0m0 -7h0m0.5 3.5h0m0 -12.5h0m0.5 5.5h0m0 27.5h0m2.5 -33.5h0m0.5 4h0m0.5 7h0m0 18h0m0 -13h0m0.5 -9h0m0.5 23.5h0m0 2h0m0 -34h0m1 11.5h0m0.5 5h0m1 18h0m0 -30h0m0.5 -3h0m0 5.5h0m0 10.5h0m0.5 -2h0m0.5 15h0m0.5 -20.5h0m0.5 -3h0m0 14.5h0m0 12h0m0.5 -20.5h0m0 -5h0m1.5 3h0m0.5 -8h0m0 10h0m0.5 20h0m0 -28.5h0m0.5 -8h0m0 20.5h0m0 -17.5h0m0.5 29h0m0 -34.5h0m1.5 8h0m0 -11h0m0 16h0m0 5h0m0.5 20h0m0 -33h0m0.5 9.5h0m0.5 -20.5h0m0 -17h0m0 2.5h0m0 5.5h0m0 -3h0m0 8h0m0.5 10h0m0 -29h0m0 3h0m0.5 13.5h0m0 -24.5h0m0 -21.5h0m0 13.5h0m0 -4h0m0.5 -11.5h0m0 -3h0m0 11h0m0 10.5h0m0 2.5h0m0 -31h0m0 2.5h0m0 13h0m0.5 -11h0m0 31.5h0m0 70h0m0 -108h0m0 111h0m0.5 -114.5h0m0.5 -1.5h0m0 -7.5h0m0 19.5h0m0 -15.5h0m0.5 -8h0m0.5 -157h0m0 142h0m0 -249.5h0m0 225.5h0m0 -189h0m0 173h0m0 -36h0m0 98h0m0 -114h0m0 74h0m0.5 -50h0m0 80h0m0 -116h0m0 -186.5h0m0 258.5h0m0 170h0m0 -97h0m0 -99h0m0 -212.5h0m0 -13h0m0 289.5h0m0 -58h0m0 6h0m0 92h0m0 -217h0m0 159h0m0.5 6h0m0 38.5h0m0 -266h0m0 375h0m0.5 -114.5h0m1 -9.5h0m0 13.5h0m0.5 -28h0m0 32.5h0m0 -57.5h0m0 18h0m0.5 -14h0m0 7h0m0 23.5h0m0 -2h0m0 12.5h0m0.5 5h0m0.5 115h0m0 -99h0m0 95h0m0 -100h0m1 -20h0m0 7.5h0m0.5 8h0m0 5h0m0 -24h0m0 126.5h0m1 -3.5h0m0 -132h0m0 -1h0m0 -3h0m0.5 25h0m0 -4.5h0m0.5 -13.5h0m0 22h0m0 -46h0m0 1h0m0 -8h0m0 33.5h0m0 -35.5h0m0 12h0m0 3h0m0.5 -8.5h0m0 -3h0m0.5 19h0m0 143.5h0m0 -144h0m0 -4h0m0 2h0m0 -36h0m0 7.5h0m0.5 -4h0m0 176h0m0 -167.5h0m0.5 -2h0m0 -12.5h0m0.5 7.5h0m0 -15.5h0m0 2h0m0 3h0m0.5 8h0m0 15.5h0m0.5 -35.5h0m0 -60h0m0 25h0m0 -5h0m0 10h0m0.5 20h0m0 -45h0m0 255.5h0m0 -215.5h0m0 -65.5h0m0 30.5h0m0 88.5h0m0 -43.5h0m0 -15h0m0 -45h0m0.5 40h0m0 55.5h0m0 -75.5h0m0 50h0m1.5 39.5h0m0 152.5h0m0 -184h0m0 23.5h0m0 -10h0m0 15h0m0.5 -25.5h0m0 7.5h0m0 -5.5h0m0 26h0m0 -9.5h0m0 -26.5h0m0 24h0m0.5 -11h0m0 18.5h0m0 -29h0m0 18h0m0 32.5h0m0 137.5h0m0 -110h0m0.5 -35h0m0 2h0m0 34.5h0m0 -14h0m0 1.5h0m0 -18.5h0m0 13h0m0 14.5h0m0 -6h0m0.5 2.5h0m0 -19h0m0 4h0m0.5 54.5h0m0.5 78h0m0 -93h0m0.5 24.5h0m0 -32.5h0m0 97.5h0m0.5 -94h0m0 12.5h0m0 2.5h0m0.5 9h0m0 -17h0m0.5 2.5h0m0 88h0m0.5 -68h0m0 -22.5h0m1 8h0m0 -12.5h0m0 15.5h0m0.5 -21.5h0m0.5 23.5h0m0 5.5h0m0.5 -26.5h0m0 95h0m0 4h0m0.5 -86.5h0m0.5 18h0m0 -33.5h0m0.5 20.5h0m0 -10.5h0m1 92h0m0 -89h0m0 16.5h0m0 -21.5h0m0.5 23.5h0m0 -31.5h0m0 26.5h0m0.5 -17.5h0m0.5 11h0m0 4h0m0 -18h0m0 96h0m0.5 -97.5h0m0 12.5h0m0 19h0m0.5 62.5h0m0 -105.5h0m0 5.5h0m0 -20h0m0 7.5h0m0.5 9.5h0m0 -11.5h0m0 -3.5h0m0 121.5h0m0 -113h0m0 15h0m0.5 -129h0m0 57.5h0m0 -7.5h0m0 -56h0m0 103.5h0m0 -109.5h0m0.5 -6h0m0 100.5h0m0 6.5h0m0 -47h0m0 -29h0m0 -7h0m0 21h0m0 48.5h0m0 -99h0m0.5 58.5h0m0 -15h0m0 48h0m0 29.5h0m0 2.5h0m0 32.5h0m1 -5h0m0 -20.5h0m0.5 28h0m0 -10h0m0 -4.5h0m0 -6h0m0 -5.5h0m0 2.5h0m0.5 5.5h0m0 5.5h0m0 -18.5h0m0 -3h0m0.5 127.5h0m0 -77h0m0 6h0m0 67.5h0m0.5 -84h0m0 3.5h0m0.5 8h0m0.5 -23.5h0m0.5 8h0m0 10.5h0m0 8.5h0m0.5 1.5h0m0.5 -26.5h0m0 2.5h0m0.5 8.5h0m0 7.5h0m0 -28.5h0m0 -5h0m0 2h0m0.5 6h0m0 -21.5h0m0 8h0m0 -4.5h0m0 -4.5h0m0.5 6.5h0m0 5h0m0.5 114.5h0m0 -4h0m0.5 -141.5h0m0 -7h0m0 -6.5h0m0.5 59.5h0m0.5 -39h0m0 13h0m0 35.5h0m0.5 -31h0m0 -2h0m0 123.5h0m0 -114h0m0 18.5h0m0.5 -23h0m0 13h0m0 -4h0m0.5 28.5h0m0 -27.5h0m0 5.5h0m0.5 102.5h0m0.5 -97.5h0m0 13h0m0 8h0m0.5 -20h0m0.5 92h0m0 -82.5h0m0 18h0m1 -3.5h0m0 -21h0m0.5 92h0m0.5 -99.5h0m0.5 10.5h0m0 7.5h0m0 -19.5h0m0.5 24h0m0 5.5h0m0.5 -12h0m0 6.5h0m1 -20.5h0m0 30h0m0 70.5h0m0 -6h0m0 -98h0m0.5 22h0m0 -15.5h0m0.5 5h0m0 4.5h0m0.5 -13h0m0 28h0m0.5 70h0m0 -94.5h0m0.5 19.5h0m0 6h0m0 -16.5h0m0 -15h0m1 12h0m0 19h0m0 -8h0m0.5 -13.5h0m0 92h0m0.5 -3.5h0m0 -80h0m1.5 -17.5h0m0.5 5.5h0m0 18.5h0m0.5 -20.5h0m0 24.5h0m0 -15h0m0 -15.5h0m0 -8.5h0m0 30.5h0m0 -36.5h0m0 -6h0m0 22h0m0 2h0m1 100h0m0 -84.5h0m0 15.5h0m0.5 -35.5h0m0.5 12.5h0m0 89.5h0m0.5 -70h0m0.5 -32.5h0m0 18.5h0m0.5 8h0m0 4.5h0m0 -23.5h0m0.5 99.5h0m0 -96.5h0m0 13.5h0m0.5 14h0m0 -21.5h0m0 88h0m0.5 -99.5h0m0.5 3h0m0 13h0m0.5 -19h0m0 32.5h0m0 -6.5h0m0 -16h0m0.5 90h0m0.5 -177h0m0 36h0m0 -48h0m0 32h0m0 33h0m0 -37h0m0 32h0m0 -40h0m0.5 -38h0m0 58h0m0 30h0m0 -115h0m0 81h0m0 20h0m0 -66h0m0 62h0m0 23h0m0 -131h0m0.5 100h0m0 -20h0m0 56h0m0 -110h0m0 140h0m0.5 12.5h0m0 -5.5h0m0 -2.5h0m0 -8h0m0.5 -5h0m0 -12.5h0m0 102.5h0m1 -97h0m0 23.5h0m0 -21h0m0 11h0m0.5 -16h0m0.5 99h0m0 -2.5h0m0.5 -66h0m0 -19h0m0 13.5h0m0.5 -5h0m0 1h0m0 -13h0m1.5 91h0m0 -102.5h0m0 31.5h0m0.5 -13h0m0 81.5h0m0 -106h0m0 2.5h0m0.5 10.5h0m0 -29h0m0 13h0m0 -8.5h0m0 6h0m0 -8.5h0m0 24h0m0.5 -18.5h0m0 -104h0m0 78h0m0 -18h0m0 -81h0m0 69h0m0 7h0m0.5 11h0m0 -58h0m0 30h0m0 -22h0m0 205.5h0m0 -193.5h0m0.5 -38h0m0 82h0m0 22h0m0 -3h0m0.5 132.5h0m0 -135h0m0.5 31h0m0 3.5h0m0.5 -26.5h0m0 3.5h0m0 5h0m0 2.5h0m0 -5h0m0 -8.5h0m0.5 21.5h0m0 -5h0m0.5 108h0m0 -91.5h0m0.5 6.5h0m0.5 -2.5h0m0 9h0m0 82h0m0 -98h0m0 26.5h0m0.5 -6h0m0.5 3h0m0.5 -28.5h0m0 18h0m0 -23h0m0 0.5h0m0.5 28h0m0.5 -17h0m0 93.5h0m0 -110h0m0 20.5h0m0.5 -25h0m0 2.5h0m0.5 16h0m0 -21.5h0m0 30.5h0m0.5 -21h0m0 111.5h0m0.5 -104h0m0 -20h0m0.5 7.5h0m0 20.5h0m0 -26h0m0.5 2.5h0m0.5 13.5h0m0 100.5h0m1 -79.5h0m0 -27h0m0.5 8.5h0m0 -5h0m0 107h0m0 -88h0m0 -4.5h0m0.5 28h0m0 -33.5h0m0 18.5h0m0 77.5h0m0.5 -98.5h0m0.5 26.5h0m0 4h0m0 -37h0m0 -6h0m0 -6h0m0.5 -16h0m0 5h0m0 40h0m0.5 -35h0m0 56h0m0 -10h0m0 -7.5h0m0 87h0m0 -95.5h0m0.5 32.5h0m0.5 -21h0m0 11h0m0.5 -22h0m0 92h0m0.5 -84h0m0.5 87h0m0 -66h0m0.5 -2.5h0m0 -7h0m0 -8h0m0.5 23.5h0m0 -12h0m0.5 -19h0m0 -2.5h0m0.5 14.5h0m0 79h0m1 -62h0m1 -8h0m0.5 66h0m0.5 -83h0m0 1h0m0 5.5h0m0 -8h0m0 3h0m0 -11h0m0 21h0m0.5 -2.5h0m0 12.5h0m0 65h0m0 -82h0m0.5 9h0m0.5 76h0m0 -103.5h0m0 19.5h0m0 -11.5h0m0.5 89.5h0m0 -101h0m0 18.5h0m0.5 -23.5h0m0 -0.5h0m0.5 3h0m0 27h0m0 81h0m1 -97.5h0m0 5h0m0.5 -19.5h0m0 21h0m0.5 -8h0m0.5 -8.5h0m0 105.5h0m0.5 -3h0m0 -98h0m0 14.5h0m0.5 3h0m0.5 7h0m0 -17.5h0m0.5 3.5h0m0 -17h0m0.5 -3h0m0 30.5h0m0.5 80.5h0m0 -105.5h0m0 7h0m0 95.5h0m0.5 -108.5h0m0.5 111.5h0m0.5 -101.5h0m0 7h0m0 7.5h0m0.5 5h0m0 80h0m0.5 -75.5h0m0 -27h0m0.5 -2.5h0m0.5 -3h0m0 112.5h0m0 -93h0m1 5h0m0 83.5h0m0.5 0h0m0 -94.5h0m0 2h0m0 -4.5h0m0.5 21.5h0m0.5 -46.5h0m0 -9.5h0m0.5 51.5h0m0 78.5h0m0.5 -98.5h0m0 13h0m0 4.5h0m0.5 86h0m0 -106.5h0m0.5 -3h0m0 15.5h0m1 3.5h0m0 87h0m0.5 -105.5h0m0 23h0m0 8h0m0 -20.5h0m0.5 16.5h0m0 -19h0m0 -6.5h0m0 106h0m1 -95h0m0.5 -7.5h0m0 99h0m0.5 -69h0m0 3h0m0.5 -20.5h0m0 -13.5h0m0 2.5h0m0.5 102.5h0m0 -86.5h0m0 -2h0m0.5 10.5h0m0.5 -13.5h0m0.5 9.5h0m0.5 -16.5h0m0 93.5h0m0 -71h0m0.5 -21.5h0m0 3.5h0m0.5 10h0m0 -21h0m0.5 102.5h0m0.5 -69.5h0m0.5 -15.5h0m0 -14.5h0m0.5 10.5h0m0 -5h0m0.5 18h0m0 -28.5h0m0 102h0m0 3h0m0.5 -78.5h0m0 -24.5h0m1 17.5h0m0 2.5h0m0 10.5h0m0.5 -32.5h0m0.5 7h0m0 96h0m0.5 -107h0m0 18.5h0m0.5 12.5h0m0 -4h0m0.5 -12h0m0 -14.5h0m0 109h0m0.5 -101.5h0m0.5 24.5h0m0.5 -11.5h0m0 -7.5h0m0 96h0m0.5 -105h0m0 27.5h0m0.5 74h0m0 -81.5h0m0.5 -2h0m0 -12h0m0 17h0m0.5 4h0m0 -13.5h0m0.5 -15h0m0.5 -3.5h0m0.5 -10.5h0m0 18h0m0 -20.5h0m0.5 27.5h0m0.5 97h0m0 -119.5h0m0 2.5h0m0 2.5h0m0 12.5h0m0.5 100.5h0m0.5 -102h0m0.5 11h0m0 -15.5h0m0 9h0m0 93.5h0m0 -123.5h0m1 16h0m0.5 -13h0m0 3h0m1 2h0m0 22.5h0m0 -6.5h0m0 -11h0m0 7.5h0m0.5 -10h0m0 12h0m0 102h0m0 -91.5h0m0 -14.5h0m0 9h0m0 -10.5h0m0 20.5h0m0.5 89.5h0m0 -81h0m0 -9.5h0m0 21.5h0m1 13h0m0 -17h0m0 -12h0m0 25.5h0m0.5 62h0m0.5 -66.5h0m0.5 -13h0m0 9h0m0.5 -20h0m0 6h0m0.5 82.5h0m0 -3h0m0 -72h0m0.5 20.5h0m0.5 -5h0m0 -11.5h0m1 -22.5h0m0 29.5h0m0.5 -18h0m0 2h0m0.5 -9h0m0 86h0m0.5 -83h0m0.5 18.5h0m0 -20h0m0 15h0m0.5 -5h0m0 18h0m0 -40.5h0m0 17.5h0m0 -25.5h0m0.5 17.5h0m0 -4h0m0 95.5h0m0.5 -75h0m0 -11h0m0 19h0m0 3.5h0m1.5 59h0m1 -74.5h0m0 8h0m0.5 -24.5h0m0 28h0m0 1.5h0m0 -25h0m0.5 89h0m0 -74h0m0.5 -12.5h0m0.5 4h0m0 81.5h0m0 -79h0m0 20.5h0m0.5 -17h0m0 25.5h0m0 10.5h0m0.5 42.5h0m0.5 -70h0m0 13h0m0 8h0m0 -26h0m1 5.5h0m0.5 19h0m0 -14h0m0 60h0m0 -41h0m0.5 -8h0m0 -18h0m0 10h0m0 18.5h0m0.5 -33.5h0m0.5 19.5h0m0.5 -15.5h0m0.5 71h0m1 -65.5h0m0 11.5h0m0 7.5h0m0.5 -29.5h0m0 17h0m0.5 -4.5h0m0 60h0m0.5 -66.5h0m0 19.5h0m0.5 7h0m0 43.5h0m0 -55.5h0m0 -11h0m0.5 -5.5h0m0.5 71h0m0 2h0m1 -53.5h0m0 -25.5h0m0 18h0m0.5 -21h0m0 34h0m0.5 48.5h0m0 -77h0m0 8h0m1 -14.5h0m0 78h0m0.5 -66.5h0m0 15h0m0 -8.5h0m0 13.5h0m0 -8h0m0 -15.5h0m0.5 71h0m0 -48.5h0m0 -31h0m0.5 21.5h0m0.5 -19h0m0.5 80h0m0.5 -50.5h0m0.5 -26h0m0.5 -2h0m0 6h0m0 2.5h0m0.5 32h0m0 -15.5h0m0 -5.5h0m0 -8h0m0 22h0m0.5 42h0m0 -52.5h0m0.5 -10h0m0 2.5h0m0 29h0m0 35h0m0.5 -44h0m0.5 -16h0m0 31h0m0 -27h0m0 6.5h0m0.5 -9h0m0.5 25h0m0 7.5h0m0 -21.5h0m0.5 -2.5h0m0 6h0m0 -8h0m0 49h0m0 -31h0m0.5 13h0m0 -21h0m0 42h0m0 -38.5h0m0.5 19.5h0m0.5 -18.5h0m0.5 6.5h0m1 14.5h0m0.5 11.5h0m0 -23h0m0 5.5h0m1.5 23.5h0m0 -19.5h0m0 15.5h0m0.5 -10.5h0m0 -20.5h0m0.5 -2.5h0m0.5 8h0m0 2.5h0m0.5 -12.5h0m0 -1h0m0.5 18.5h0m0.5 -24.5h0m0 3.5h0m0.5 -5h0m0 9.5h0m0.5 4.5h0m0 28h0m0.5 -17h0m0 -7h0m0 -21.5h0m0 49h0m0.5 -50.5h0m0.5 53h0m0.5 -50h0m0 24.5h0m0 -24h0m0 18h0m0.5 -15.5h0m0 3h0m0 3h0m0.5 40.5h0m0 -36h0m0.5 31.5h0m0 -15h0m1 -22h0m0 15h0m0 -4h0m0.5 -8h0m0.5 16h0m0.5 24h0m0 -7h0m0.5 -29.5h0m0.5 5h0m0 -3h0m0.5 30h0m0 -14.5h0m0.5 3.5h0m0.5 -10h0m0 23h0m0 -20.5h0m0.5 -6h0m1 9.5h0m0.5 -16.5h0m0 30.5h0m1 -34h0m0 -3h0m0 11h0m0 29.5h0m0.5 -45h0m0.5 23h0m0.5 -5h0m0.5 -22h0m0 5.5h0m0.5 42.5h0m0 -34.5h0m0.5 -16h0m0 14h0m0.5 5h0m0 29h0m0.5 -56h0m0 5h0m0.5 -2h0m0.5 16h0m0 -18.5h0m0 58h0m0.5 -55.5h0m0 10.5h0m0.5 -8h0m0 23h0m0 3h0m0 -6.5h0m0 30h0m0.5 -46.5h0m0.5 2.5h0m0.5 8.5h0m0 -5h0m0 21h0m0 4.5h0m0 18.5h0m1 -25.5h0m0 22.5h0m0 -38h0m0.5 3h0m0 7h0m0 -2.5h0m0.5 17h0m0.5 19.5h0m0 -29.5h0m1.5 -8h0m0 30.5h0m0.5 -28h0m0.5 32h0m0 -21h0m0 1h0m0.5 -5h0m0.5 -4h0m1 -10.5h0m0 4.5h0m0.5 -2.5h0m0 34h0m0 -28.5h0m1 8.5h0m0 25h0m0.5 -19.5h0m0.5 -21.5h0m0.5 11.5h0m0 25.5h0m0 -30h0m0.5 10h0m0.5 -1.5h0m0 -13h0m0.5 38h0m1.5 -33.5h0m0 6h0m0 8h0m1 16.5h0m0 -28h0m1 13h0m0 -14.5h0m0.5 33.5h0m0 -37h0m0 12h0m1.5 20h0m0 3.5h0m0.5 -15h0m0 -5.5h0m0 23h0m0.5 -37.5h0m0 8.5h0m1.5 -3h0m0.5 7.5h0m0.5 6h0m0 16h0m0 -31h0m1 14h0m0 13.5h0m0 -25.5h0m0 14.5h0m1 -11h0m0 25h0m0.5 -21h0m0.5 2.5h0m1 7.5h0m0.5 9h0m1 1h0m0 -26.5h0m0.5 4.5h0m0.5 8h0m0 -0.5h0m0 -2h0m0.5 20.5h0m1 -25.5h0m0 -5.5h0m0 27h0m1 -33.5h0m0 31.5h0m0 -27.5h0m0 8.5h0m1 -1h0m0 5.5h0m1 19h0m0 -17h0m1 -3.5h0m0 -8.5h0m0 -8h0m1 2.5h0m0 29.5h0m0.5 -18h0m0 -9h0m0.5 2.5h0m0.5 2.5h0m0 11.5h0m0.5 14.5h0m0.5 -19.5h0m0 15.5h0m1 -17.5h0m1 -2.5h0m0 11h0m0 15.5h0m0.5 -19h0m1 -11.5h0m0.5 25.5h0m0 -18h0m0.5 17.5h0m0.5 -23h0m0.5 25h0m0 -12h0m0.5 -10.5h0m1 4h0m0 19.5h0m0.5 -15.5h0m0 -14h0m1 4.5h0m0 26h0m0.5 -5h0m1 -23.5h0m0.5 12h0m0.5 -5h0m0.5 -0.5h0m0 -5.5h0m0.5 14.5h0m0 9h0m0.5 -11.5h0m0 15h0m1 -31.5h0m0 28h0m0.5 -21.5h0m0 -5.5h0m0 32h0m1 -19.5h0m0 -16.5h0m0.5 11h0m1 -13.5h0m0.5 -2.5h0m0 -3.5h0m0 17.5h0m0.5 21h0m0 3.5h0m0 -28h0m0 -16h0m0.5 11.5h0m0 -15h0m0.5 22.5h0m0 -12.5h0m1 -3h0m0 13h0m0 -20.5h0m0.5 28.5h0m0 -31.5h0m0 5.5h0m1 24h0m0 21.5h0m0 -33.5h0m1 -10h0m0.5 14h0m0 2.5h0m0 23.5h0m0 -35h0m0.5 -2.5h0m0.5 44.5h0m0.5 -24.5h0m0.5 -17.5h0m0 15h0m1 22.5h0m0 -24h0m0 -6h0m0 -5h0m0 18.5h0m0.5 16h0m0.5 -32h0m0.5 5h0m1 29h0m0.5 -2.5h0m0.5 -19h0m0 8h0m0.5 14h0m0.5 -30.5h0m0 7h0m0.5 -4h0m0 9.5h0m0.5 15h0m0 4h0m0 -20h0m0.5 -14h0m1.5 -2.5h0m0 32h0m0 6h0m1 -27.5h0m0 -13.5h0m0.5 -3h0m0 10.5h0m0 9h0m0.5 19.5h0m0 -18.5h0m0 20h0m0.5 -28.5h0m0 -15h0m0.5 20h0m0 -17h0m0.5 13h0m0 -10.5h0m0.5 3h0m1 39h0m0 -40h0m0.5 5.5h0m0 13.5h0m0 14h0m0.5 5h0m0.5 -23h0m0 -6h0m0.5 2h0m0.5 11h0m0 -5h0m0.5 19.5h0m1 -15h0m0.5 4h0m0.5 -2.5h0m0.5 10h0m0.5 -19h0m0 22h0m0.5 -3.5h0m1 -19.5h0m0 4.5h0m0.5 -8h0m0.5 4.5h0m0 -7h0m0.5 12.5h0m0 -6h0m0.5 -10.5h0m0 33.5h0m1.5 -36.5h0m0 33h0m0.5 -28h0m0 12.5h0m0.5 19h0m0.5 -26.5h0m0.5 -12.5h0m0 5.5h0m0.5 -2.5h0m0.5 15.5h0m0 16.5h0m0.5 -21h0m0.5 -6.5h0m0 -7h0m0.5 38h0m0 -26h0m1 -11.5h0m0.5 38.5h0m0.5 -29h0m0 5h0m0 5.5h0m0.5 16h0m0 -32.5h0m1 14h0m0.5 -10.5h0m0.5 4.5h0m0.5 25.5h0m0 -30.5h0m0.5 28h0m0.5 -19h0m0 6.5h0m0.5 -14.5h0m1 18h0m0.5 -14h0m0.5 27h0m0.5 -19h0m0.5 -6h0m1 7.5h0m0 3.5h0m0.5 -7h0m0.5 10.5h0m0 6.5h0m1.5 3h0m0 -26h0m0.5 8h0m0 3h0m0.5 -6h0m0.5 -2h0m0 -6.5h0m0 26.5h0m1 3h0m0.5 -31.5h0m0.5 14.5h0m0 -17.5h0m1.5 5.5h0m0 -4.5h0m0 8.5h0m0.5 22.5h0m0 -19.5h0m0 -14.5h0m0.5 36.5h0m0 -17h0m0.5 -3.5h0m0.5 -8h0m0 27.5h0m0.5 -36.5h0m0.5 12.5h0m0 26h0m0.5 -35.5h0m0.5 2h0m0.5 19h0m0 -9.5h0m1 -7.5h0m0 27.5h0m0.5 -15h0m0.5 -10.5h0m0 30h0m1.5 -15.5h0m0.5 14h0m0 -24.5h0m0.5 23h0m0 -18.5h0m0.5 -3h0m0 7h0m0 15.5h0m0.5 -9.5h0m1.5 8h0m0.5 -25h0m0.5 13h0m0 -3h0m0 20h0m0.5 -7h0m0 -28.5h0m0.5 2.5h0m0 9.5h0m0.5 -15h0m0 -2.5h0m0.5 14.5h0m0 -21.5h0m0 -2.5h0m0.5 5.5h0m0 18h0m0 -27h0m0 23.5h0m0.5 -4.5h0m0 -25.5h0m0.5 3.5h0m0.5 55h0m0 -2h0m0.5 -45h0m0.5 -5h0m0 3h0m0 43.5h0m0 -32.5h0m0.5 2h0m0.5 -4.5h0m0 -2.5h0m0 10.5h0m0 10.5h0m1 -3.5h0m0 9h0m0.5 -12.5h0m0 26.5h0m0 -31.5h0m0.5 3h0m0 2h0m1 26h0m0 -23.5h0m1 5h0m0 4h0m0 4.5h0m0.5 11.5h0m0 -5.5h0m1.5 -1h0m0.5 9.5h0m0 -19.5h0m1.5 15h0m0 -11.5h0m1 -3h0m0 6h0m1.5 10.5h0m0 -6h0m1 2h0m0 -8.5h0m1.5 -5h0m0.5 12.5h0m0 5.5h0m0 -8.5h0m0 8.5h0m1.5 -13.5h0m0.5 -12h0m0 4h0m0.5 -2h0m0 3h0m0.5 -9h0m0 30.5h0m0.5 -3h0m0.5 -21.5h0m0.5 6.5h0m0 13h0m0.5 -33h0m0 3.5h0m0.5 29h0m0 -17.5h0m0.5 20h0m0.5 -39h0m0.5 13.5h0m0 27.5h0m0.5 -36h0m0.5 6h0m0.5 -13h0m0 18.5h0m0.5 -21h0m0 46.5h0m0.5 -19.5h0m0 -28h0m0.5 13h0m0 3.5h0m0.5 26h0m0.5 -17.5h0m0 -16.5h0m1 -4.5h0m0 -5h0m0 2.5h0m0.5 5h0m0 14.5h0m0.5 -12h0m0.5 34h0m0 -32.5h0m0 36h0m0.5 -33h0m0 3.5h0m0 9.5h0m1.5 3.5h0m1 15.5h0m0 -10h0m0.5 7.5h0m0 -19.5h0m0.5 -14h0m0 4h0m0.5 -7h0m0 13.5h0m0.5 7h0m0 -11.5h0m0.5 -18.5h0m0 5.5h0m0.5 -3h0m0 -5h0m0 19h0m0.5 28h0m0 -52.5h0m0 2.5h0m0.5 2.5h0m0.5 1.5h0m0 5h0m0 44.5h0m0.5 1h0m0 -37.5h0m0 12h0m0.5 -3.5h0m0.5 -17.5h0m0 6.5h0m0.5 -0.5h0m0 5.5h0m0.5 4.5h0m0.5 32.5h0m0 -20h0m0 -5h0m0.5 -3h0m0 22.5h0m0.5 -39h0m0.5 12.5h0m0 -4.5h0m0 12h0m1 -17.5h0m1 41h0m0.5 -45h0m0 40h0m1 -22.5h0m0 4.5h0m0 -10.5h0m0.5 -4.5h0m0 -2.5h0m0.5 38h0m0.5 -24.5h0m0 3.5h0m0 18.5h0m0.5 -24h0m0.5 -11h0m0 38h0m0.5 -34.5h0m0.5 -6.5h0m0.5 20h0m0.5 -10.5h0m0 5.5h0m0 27h0m1 -41h0m0.5 4h0m0 33h0m0 -41h0m1.5 14.5h0m0.5 2.5h0m0 3.5h0m0 -22.5h0m0.5 8h0m0 -15h0m0.5 18.5h0m0 -16h0m0 18.5h0m0 -10.5h0m0.5 43h0m0 -3.5h0m0.5 -56h0m0 -3h0m0 6h0m0.5 55h0m0.5 3h0m0.5 -67h0m0 18.5h0m0 7h0m0.5 -16.5h0m0 -3h0m0.5 22h0m0 -24.5h0m0 8.5h0m0 10.5h0m0.5 -6.5h0m0 13.5h0m0 9.5h0m0.5 -3.5h0m0 25.5h0m0.5 -28h0m0.5 -18.5h0m0 5.5h0m0 23h0m0 21.5h0m1 -35h0m0.5 38h0m0 -31.5h0m0.5 -12h0m0.5 6h0m0.5 33h0m0 -23h0m0 27h0m0.5 -56.5h0m0 -2.5h0m0 8.5h0m0 -10.5h0m0 7.5h0m0.5 -12h0m0 18.5h0m0.5 7.5h0m0 -3h0m0 -25.5h0m0.5 33.5h0m0.5 -13.5h0m0 -26h0m0.5 3h0m0 66.5h0m0.5 -40.5h0m0 -17.5h0m0.5 4h0m0.5 22h0m0 34.5h0m0 -67h0m0.5 2.5h0m0 15h0m0 -3.5h0m1 6.5h0m0.5 8h0m0.5 10h0m0.5 -3.5h0m0 28.5h0m1 -58h0m0 16h0m0 9h0m0 -22h0m0.5 16h0m0 41.5h0m0.5 -49h0m0 -5.5h0m0 -8h0m0.5 11.5h0m0 54.5h0m0.5 -41.5h0m0.5 6.5h0m0.5 1h0m0 -34.5h0m0.5 22.5h0m0 -2.5h0m0.5 42.5h0m0 -61h0m0 -3h0m0.5 8h0m0 61.5h0m0 -53.5h0m0 -3.5h0m0.5 54h0m0 -35.5h0m0.5 -33.5h0m0.5 2.5h0m0 19h0m0.5 7.5h0m0 -3.5h0m0 -7.5h0m0.5 -8h0m0 -4.5h0m0.5 26.5h0m0 38h0m0.5 -56.5h0m0 53.5h0m0.5 -32h0m0.5 10.5h0m0 -25h0m0 17.5h0m0 -15.5h0m0.5 7h0m0.5 12.5h0m0.5 -47h0m0 8h0m0 4.5h0m0.5 16.5h0m0 -26h0m0 2h0m0.5 28.5h0m0 -12.5h0m0 -23.5h0m0 78h0m0 -57.5h0m0 -22.5h0m0 -3.5h0m0.5 -5.5h0m0 3.5h0m0.5 84h0m0 -60h0m0 -32.5h0m0 3h0m0 -6h0m0 18.5h0m0 -23.5h0m0 19h0m0.5 -2h0m0 3.5h0m0 -18h0m0 23h0m0 -14.5h0m0.5 -3.5h0m0 90h0m0 -83h0m0 32h0m0.5 -4h0m0.5 -13.5h0m0.5 74.5h0m0 -65.5h0m0 22h0m0 -24h0m0.5 32.5h0m0 -35h0m1 30h0m0 38.5h0m0.5 -46.5h0m0 4h0m0 -18h0m0 11h0m0 -3h0m0.5 -3h0m0 51.5h0m0 -28.5h0m0 -3.5h0m0.5 7h0m1.5 -31.5h0m0 6h0m0 9h0m0 42.5h0m0.5 2.5h0m0.5 -40h0m0.5 -10.5h0m0 -5.5h0m0.5 18.5h0m0 8.5h0m0.5 -18.5h0m0 14.5h0m1 -11.5h0m0 -10h0m0 -5h0m0.5 9.5h0m0 53.5h0m0.5 -7h0m0.5 -22h0m0 23.5h0m1 2h0m0 -59.5h0m0 20.5h0m0 -2.5h0m0 15.5h0m1 -9.5h0m0 4.5h0m0 -24.5h0m0.5 -3h0m0 8h0m0 5h0m1 -0.5h0m0 42.5h0m0 -47h0m0.5 8h0m0 4h0m0 13h0m0 -27h0m0 52.5h0m0.5 -22.5h0m0 -8h0m1 -4h0m0 -3.5h0m0.5 5.5h0m0 35h0m0.5 -28.5h0m0 23h0m0.5 -24.5h0m0 -22.5h0m0.5 7.5h0m0 -13h0m0 57.5h0m0 -46.5h0m0.5 -13.5h0m0 -2h0m0 -9h0m0.5 31h0m0 -29h0m0 -3.5h0m0.5 8.5h0m0 -2h0m0 -20h0m0.5 6.5h0m0 3.5h0m0 -5h0m0 76h0m0 -84h0m0.5 5.5h0m0 -7h0m1 -5.5h0m0 91.5h0m0 -89h0m0 -2h0m0.5 10.5h0m0 -3.5h0m0 -2.5h0m0 -7.5h0m0.5 96h0m0 -91h0m0 92.5h0m0 -79h0m0 3.5h0m0.5 5h0m0 19.5h0m0 -16.5h0m0.5 -13.5h0m0 7.5h0m0 72h0m0 -61.5h0m0.5 2.5h0m0 5h0m0 11h0m0.5 -13h0m0 8.5h0m0.5 7h0m0.5 8h0m0.5 -5.5h0m0 -13h0m0 51.5h0m0 -30.5h0m0 -5.5h0m0.5 32h0m0 -28.5h0m0.5 8.5h0m0.5 -3h0m1 26.5h0m0 -43h0m0 -4h0m1 -0.5h0m0 8.5h0m0 36.5h0m0.5 -22h0m0 -10.5h0m0 -7.5h0m0 -8h0m0 21.5h0m1 30h0m1.5 -40h0m0.5 35.5h0m0 -44h0m0 -4.5h0m0 2h0m0 18.5h0m0.5 5h0m0 -16.5h0m0 1h0m1.5 18h0m0 -10h0m0 34.5h0m0.5 -46h0m0 8.5h0m0.5 18.5h0m0.5 16h0m0 -26.5h0m1 7h0m0.5 -4h0m0 -10.5h0m0 -12.5h0m0 9h0m0 37h0m0 4h0m0.5 -46.5h0m0 -18h0m0 5h0m0 5h0m0 20h0m0 4h0m0.5 -21h0m0 7.5h0m0.5 -13.5h0m0 -11h0m0.5 -5h0m0 -2.5h0m0.5 5.5h0m0 67h0m0.5 -78h0m0 2.5h0m0 16h0m0 62.5h0m0 -59.5h0m0.5 -23.5h0m0 31.5h0m0.5 -25h0m0 33.5h0m0 -36.5h0m0.5 79h0m0.5 -64.5h0m0 9h0m0 3h0m0 -20.5h0m0.5 26h0m0 44h0m0.5 -33.5h0m0 -31h0m0 7h0m0.5 61h0m1 -50h0m0.5 46h0m0 -52h0m0 16h0m0 -5h0m0.5 -16h0m0.5 13.5h0m0.5 -23.5h0m0 5h0m0 63.5h0m0 -57.5h0m1 6.5h0m0 -20h0m1 -2h0m0.5 27h0m0 -15h0m0 63.5h0m0 -71.5h0m0 29h0m0 -0.5h0m0.5 -27h0m0.5 13h0m0 52.5h0m0.5 -28.5h0m0 32h0m0.5 -51.5h0m0 15h0m0 -7h0m0 -21h0m0.5 9.5h0m0.5 -4.5h0m0.5 12h0m0 7.5h0m0 41.5h0m1 -51.5h0m0 21h0m1 -13.5h0m0 39h0m0 -52h0m0.5 23.5h0m0 34.5h0m0.5 -37h0m0 -4.5h0m0 -7h0m0.5 18.5h0m0 -32.5h0m0.5 0h0m0 29h0m0 -20h0m0.5 50h0m0 -41h0m0 45h0m0 -6h0m0.5 -29.5h0m0 -21h0m0 -1.5h0m0.5 -3.5h0m1 22h0m0 -7.5h0m0 46.5h0m0.5 -53.5h0m0 2.5h0m0.5 25h0m0 -5.5h0m0.5 -11.5h0m0.5 8h0m0 29.5h0m0.5 -43h0m0 20.5h0m0 -13h0m1 36.5h0m0.5 2h0m1 -35.5h0m0 14h0m0 -28.5h0m0 -3h0m0 23.5h0m0.5 -13.5h0m0 44h0m0.5 -42h0m0.5 9h0m0 -14.5h0m0 44.5h0m0.5 -24h0m0 -31h0m0 19h0m0.5 -20.5h0m0 -4.5h0m0.5 4h0m0 -8h0m0 -3h0m0 26h0m0.5 -6.5h0m0.5 -23.5h0m0 70.5h0m0.5 -47.5h0m0 51.5h0m0 -79h0m0.5 23h0m0 -30.5h0m0 23h0m0 -28.5h0m0 2.5h0m0 5h0m0 3h0m0.5 -16h0m0.5 20.5h0m0 -23.5h0m0 -2h0m0 30.5h0m0.5 -18.5h0m0.5 -15.5h0m0 -8h0m0 3h0m0 2.5h0m1 6h0m0 101.5h0m0 -104.5h0m0.5 6h0m0.5 96h0m0 -90.5h0m0 -2h0m0 27.5h0m0.5 68h0m0 -75h0m0 -15.5h0m0 9.5h0m0.5 28.5h0m0 -26h0m0 -7.5h0m0.5 3h0m0 8h0m0 14.5h0m0 -3h0m0.5 19h0m0 -11h0m0.5 -15.5h0m0 68h0m0.5 -62.5h0m0 -3h0m0.5 20h0m0.5 12.5h0m0 -2h0m0 38h0m0 -31h0m0 3.5h0m0.5 -18.5h0m0 3h0m0 -18.5h0m0.5 9.5h0m0 -5.5h0m1 8.5h0m0.5 49h0m0 -3.5h0m0 -53.5h0m0.5 13.5h0m0.5 2.5h0m0 11.5h0m0.5 -39.5h0m0 3.5h0m0 30.5h0m0.5 2.5h0m0 -6h0m0.5 -24.5h0m0 2.5h0m0.5 7.5h0m0 7h0m0 46.5h0m0.5 -4.5h0m1 -45.5h0m0 -31.5h0m0 5h0m0 3h0m0 16h0m0.5 -21.5h0m0.5 28.5h0m0 49.5h0m0 -67h0m0.5 6.5h0m0.5 -5h0m0 -4.5h0m0 17.5h0m0.5 8h0m0 -38.5h0m0 80.5h0m0.5 3h0m0 -80.5h0m0.5 7.5h0m0 17.5h0m0 -3h0m1 -30h0m0.5 10.5h0m0 75.5h0m1 -60.5h0m0 -29h0m0 24h0m0 -8.5h0m0 -20h0m0.5 2h0m0 97h0m0 -84.5h0m0.5 15h0m0 -26h0m0 20h0m0 -22.5h0m0 -3h0m0 28.5h0m0 -14.5h0m0.5 84h0m1 -59h0m0 -31h0m0 1h0m0 13.5h0m0.5 72h0m0 -59h0m0.5 -23.5h0m0 7.5h0m0.5 79h0m0 -49h0m0 -33.5h0m0 -3h0m0.5 30h0m0.5 -13.5h0m0 -5h0m0.5 22.5h0m0 -25.5h0m0 -2.5h0m0 7.5h0m1 5h0m0 33.5h0m0.5 30.5h0m0 -36h0m0 -18.5h0m0 13.5h0m0 -6h0m0.5 -10.5h0m0 30h0m0.5 -33h0m0 9.5h0m0 8h0m0 10.5h0m0.5 35h0m1 -65h0m0 7h0m0.5 58.5h0m0 -51h0m0 -18.5h0m0 26.5h0m1 40h0m0 -36h0m0.5 -7h0m0 -29.5h0m0 2.5h0m0.5 11.5h0m0.5 60h0m0 -48h0m0.5 -29.5h0m0.5 24h0m0 56.5h0m0 -66.5h0m0.5 -5.5h0m0 11h0m0 7h0m0.5 -21h0m0 -1.5h0m0 7.5h0m0.5 -15h0m0 2.5h0m1.5 76h0m0 -52h0m0 -4.5h0m0.5 -25h0m0 10.5h0m0 22h0m0 54h0m0.5 -65.5h0m0 14.5h0m0.5 -32h0m0.5 77.5h0m0 -67h0m0.5 3h0m0 12.5h0m0 -20h0m0 -2.5h0m0.5 -10.5h0m0.5 89h0m0.5 -60h0m0 -13h0m0 5.5h0m0 -24h0m0.5 7.5h0m0 14h0m0.5 -24h0m0 94h0m0.5 -2h0m0 -95h0m0 33h0m0.5 -16.5h0m0 -7h0m0 -9h0m0.5 11.5h0m0 -9h0m0.5 17h0m0.5 -13.5h0m0 15.5h0m0.5 15h0m0 -5h0m0 10h0m0.5 -17.5h0m0.5 69h0m0 -48h0m0.5 -18h0m0 69.5h0m0.5 -80h0m0 -3h0m0 20h0m1 -42h0m0.5 3h0m0 10.5h0m0 4.5h0m0 -10h0m0 9h0m0.5 11.5h0m0 -17.5h0m0 -6h0m0 97h0m0 -101h0m0 -3h0m0.5 32.5h0m0 -27.5h0m0 3h0m0.5 19h0m1 -6h0m0.5 -4.5h0m0 -5h0m0 92h0m0 -66.5h0m0 72h0m0.5 -84.5h0m0 -11.5h0m0 94.5h0m0 -67h0m0.5 12.5h0m0.5 -7.5h0m0 -17h0m0 7h0m0.5 71.5h0m0 -77h0m0 19h0m1 -5.5h0m0.5 13.5h0m0 -33h0m0 -6h0m0.5 85h0m0 3.5h0m0.5 -87.5h0m0 18h0m0 -26.5h0m0 23.5h0m0.5 -11h0m0 -10h0m0 1.5h0m0 25h0m0.5 -9h0m0.5 76h0m0.5 -79h0m0 -8.5h0m0.5 -15.5h0m0 24h0m0 -19h0m0.5 -8.5h0m0 6h0m0 98.5h0m0.5 -72.5h0m0 -6h0m0.5 -27.5h0m0 -2.5h0m0 14.5h0m0 -3h0m0.5 -7h0m0 3h0m0 10h0m0 5h0m0.5 5h0m0.5 79h0m0.5 5h0m0 -71.5h0m0.5 -12h0m0.5 7h0m0 3.5h0m0 9.5h0m0 -15h0m0.5 -13.5h0m0 94h0m0 -70.5h0m0.5 65h0m0 -95h0m0.5 -7.5h0m0 5h0m0.5 15h0m0 -2.5h0m0 -15h0m0 -5.5h0m0.5 -5.5h0m0 34h0m0 -13.5h0m0 95h0m0 -184h0m0.5 71h0m0 -33h0m0 8h0m0 -31h0m0.5 39h0m0 9h0m0 -74h0m0 -7.5h0m0 48.5h0m0.5 35.5h0m0 116.5h0m0 -106.5h0m0 -95.5h0m0 112h0m0.5 87.5h0m0 -169.5h0m0 -20h0m0.5 10h0m0 81h0m0.5 5h0m0 93h0m0 -82.5h0m0.5 -23h0m0.5 20.5h0m0 -31.5h0m0 5.5h0m0 18.5h0m0.5 -3h0m0 -18.5h0m0 6h0m0 109.5h0m0 -101h0m0.5 17.5h0m0 7.5h0m0 -3h0m0.5 -11.5h0m0 -14h0m0.5 39.5h0m0 -7.5h0m1 69.5h0m0 6h0m0.5 -63h0m0 -32.5h0m0 7.5h0m0.5 -5.5h0m0 21h0m0 -6.5h0m0 -4.5h0m0.5 -35h0m0 17.5h0m0 -15.5h0m0.5 -7h0m0 15h0m0 5h0m0 -18.5h0m0 26.5h0m0 93.5h0m0 -88h0m0.5 -21.5h0m0 -2.5h0m0.5 -14h0m0 -1.5h0m0 -8.5h0m0 19h0m0 -13h0m0.5 -3h0m0.5 130h0m0 -134h0m0 29h0m0.5 -33.5h0m1 18.5h0m0 3.5h0m0.5 -23h0m0 31h0m0 112h0m0.5 -140.5h0m0 25h0m0 -30.5h0m0.5 20h0m0 -12.5h0m0.5 4h0m0 4.5h0m0.5 -17.5h0m0.5 143h0m0 -113h0m1 -5h0m0.5 -27h0m0 -2.5h0m0.5 6h0m0 4h0m0 140.5h0m0.5 -111h0m0 -7.5h0m0 115.5h0m0.5 -122.5h0m0 -3.5h0m0 27.5h0m0 -21.5h0m0.5 -4.5h0m0 -4.5h0m0 -2.5h0m0.5 -2h0m0 32.5h0m0.5 6h0m0 -21h0m0 2.5h0m0 10h0m0 -7.5h0m0.5 116.5h0m0.5 0.5h0m0.5 -114h0m0.5 15h0m0 7.5h0m0 7h0m0 78.5h0m0.5 -90.5h0m0 4h0m0 -16.5h0m0.5 105.5h0m0 -79h0m0.5 -16.5h0m0 11h0m0.5 -6h0m0 15h0m0 -26h0m0 3h0m1 98.5h0m0.5 -80.5h0m0 -28h0m0 -2.5h0m0.5 23h0m0.5 83.5h0m0.5 -80h0m0.5 -19.5h0m0 24.5h0m0 -29h0m0 -4h0m0 20h0m0.5 -5h0m0 96.5h0m0.5 -114h0m0 -3h0m0 18.5h0m0.5 -28.5h0m0 5h0m0 -7h0m0 -3h0m0 7.5h0m0 5.5h0m0.5 -16h0m0 -6h0m0 3.5h0m0 137h0m0.5 -143h0m0.5 -6.5h0m0 6.5h0m0 -1.5h0m0.5 -8.5h0m0 150h0m0 -152.5h0m0 8h0m1 -19.5h0m0 7.5h0m0 -4.5h0m0.5 25h0m0 -23.5h0m0.5 28.5h0m0 133.5h0m0 -162h0m0.5 -1h0m0 16.5h0m0 -11h0m0 1.5h0m0.5 35.5h0m0 -28.5h0m0 22.5h0m0 -3h0m0.5 -23.5h0m0 37.5h0m0 -23h0m0.5 135h0m0 -119.5h0m0.5 -20h0m0.5 2.5h0m0 31h0m0.5 110.5h0m0 -124h0m0 -3h0m0.5 -10.5h0m0 5h0m0 3h0m0.5 -5.5h0m0 13.5h0m0 117.5h0m0 -3.5h0m0.5 -93.5h0m0 -13.5h0m0 -5h0m0.5 21h0m0 3h0m0 -21h0m0 4.5h0m0 24h0m0.5 -18.5h0m0 23h0m0 -26h0m0 5.5h0m0.5 12h0m0.5 10.5h0m0 7h0m0.5 70.5h0m0 -53.5h0m0 50h0m0 -60.5h0m0 -11h0m0 17h0m1 -9.5h0m0 61.5h0m0 -89h0m0 24h0m0.5 -12.5h0m0 -8.5h0m1 11h0m0.5 -5.5h0m0 81.5h0m0 -84h0m0 -28h0m0 -4h0m0.5 22.5h0m0 -5h0m0 2h0m0 -22.5h0m0 -2.5h0m0 12.5h0m0 5h0m0 -1.5h0m0.5 -2.5h0m0 107h0m0 -100h0m0 -22h0m0 120h0m0 -130.5h0m0 5h0m0.5 -2h0m0 -6h0m0.5 11h0m0 -13h0m0 135h0m0.5 -145h0m0 5h0m0 2h0m0 -5h0m0.5 27.5h0m0 -36h0m0.5 -29h0m0 -6.5h0m0.5 38h0m0 33h0m0.5 -32.5h0m0.5 22h0m0.5 128.5h0m0 -147h0m0 31.5h0m0.5 5h0m0 -12.5h0m0 -10h0m0 7h0m0 -11h0m0 -2h0m0 -3h0m0.5 8h0m0 2h0m0.5 129h0m0 3.5h0m0.5 -123h0m0 21h0m0.5 -29.5h0m0 11h0m0.5 119.5h0m0 -105.5h0m0 -11h0m0.5 8.5h0m0.5 -19.5h0m0.5 7h0m0 7.5h0m0 -12.5h0m0.5 129.5h0m0 -149.5h0m0 5.5h0m0 -8h0m0.5 145h0m0 -140h0m0 -18h0m0.5 24.5h0m0 -19h0m0 -2.5h0m0 -5h0m0 31h0m0.5 -2.5h0m0 -19h0m0 3h0m0 -33h0m0 14.5h0m0.5 -4.5h0m0 -4h0m0 12.5h0m0 -5.5h0m0 -8.5h0m0.5 -5.5h0m0 3.5h0m0 182h0m0.5 -190h0m0.5 -3h0m0 -2.5h0m0 -3.5h0m0.5 -2.5h0m0 -6h0m0 28.5h0m0.5 -25.5h0m0 30h0m0 172.5h0m0 -207.5h0m0.5 212h0m0 -191h0m0.5 -24h0m0.5 -6.5h0m0 36h0m0 -42h0m0 29.5h0m0.5 -20.5h0m0 -17h0m0 23.5h0m0 5.5h0m0 -36.5h0m0.5 28.5h0m0 5h0m0 5.5h0m0.5 199.5h0m0.5 -198h0m0.5 201.5h0m0 -193.5h0m0 -3h0m0 10h0m0.5 2.5h0m0 -10h0m0 11.5h0m0 -16.5h0m0.5 34h0m0 -24.5h0m0 -1h0m0 11h0m0 16.5h0m0.5 -13h0m0.5 21.5h0m0 6h0m0 145h0m0 -168.5h0m0.5 4.5h0m0.5 -2h0m0 3.5h0m0.5 7h0m0 156.5h0m0 2.5h0m0.5 -147.5h0m0 8h0m0.5 -18h0m0 -2h0m0.5 4.5h0m0 158.5h0m0 -165.5h0m0 34h0m0 -4.5h0m0 -17.5h0m0 151h0m0 -144h0m0.5 -10h0m0 5h0m0.5 10.5h0m0 14h0m0 -21h0m0.5 3h0m0 2.5h0m0.5 18.5h0m0 2.5h0m0 15h0m0.5 -31.5h0m0.5 2.5h0m0 136h0m0 -133h0m0 4h0m0 20.5h0m0 -4.5h0m0.5 -3h0m0 -10h0m0 3h0m0 5h0m0.5 -3h0m0.5 119.5h0m0 -101.5h0m0.5 3h0m0 13h0m0 4.5h0m0.5 -29h0m0 16h0m0 4.5h0m0.5 94.5h0m0 -113h0m0 38h0m0.5 -34h0m0 20h0m1 7h0m0 5h0m0 -15.5h0m0.5 -13.5h0m0 104.5h0m0 -83.5h0m0 87h0m1 -99.5h0m0 -5.5h0m0 32.5h0m0.5 -5h0m0.5 74.5h0m0 3h0m0 -104h0m0 31.5h0m0.5 -28.5h0m0 18.5h0m0 15h0m0.5 -23h0m0 94h0m0 -102.5h0m0.5 2.5h0m0.5 2h0m0.5 8h0m0 -4.5h0m0.5 1.5h0m0 25.5h0m0 -14h0m0 -8h0m0.5 5h0m0 -2h0m0.5 10h0m0 -2.5h0m0 76h0m0 -61h0m0.5 -10h0m0 73h0m0.5 -40.5h0m0 -30h0m0 4.5h0m0 6.5h0m0.5 4h0m0 -12.5h0m0 65h0m0.5 -43.5h0m0 -4h0m0 -12.5h0m0 10h0m0.5 10h0m0.5 5.5h0m0 3.5h0m0.5 5h0m0.5 32h0m1 -4h0m0 -56.5h0m0.5 30h0m0 32h0m0.5 -6h0m0 -50.5h0m0.5 -3h0m0 15.5h0m0 16.5h0m0 -23.5h0m0 1.5h0m0 9h0m0.5 -5.5h0m0 42.5h0m0 -34.5h0m0 4.5h0m0 -21h0m0 23.5h0m0 3h0" stroke="#1f77b4" stroke-width="5.56" stroke-linecap="round" fill="none"/><path d="M116.5 932 118 941.4 119 946 119.5 938 121 944.2 122 950 122.5 957.7 124 988 125 1006 125.5 1001.7 127 996 128.5 998.1 130 1002 131.5 1006.8 132 1008 133 993 134.5 980.9 135 972 136 975.9 137.5 978.2 138 980 139 989.7 140.5 1002.6 141 1004 142 1000.1 143 990 143.5 996 145 1009.6 146 1020 146.5 1018.9 148 1016.9 149 1016 149.5 1017.1 151 1022 152.5 1019.6 154 1017.3 155.5 1015.5 156 1014 157 1011.8 158.5 1009.4 159 1008 160 1010.8 161.5 1017.7 162 1020 163 1011.5 164 1002 164.5 1006.2 166 1020 167.5 995.4 169 972.8 170 964 170.5 973.3 172 987.2 173 992 173.5 984.9 175 956 176.5 965.5 178 970 179.5 959.9 180 958 181 967.8 182 982 182.5 973.1 184 950.5 185 932 185.5 941.5 187 970 188.5 939.3 189 926 190 944.5 191.5 979.2 192 988 193 970 194 946 194.5 955.1 196 958 197 954 197.5 970.3 199 1027.8 200.5 1029.1 202 1030.5 203.5 1030.6 205 1031 206.5 1031.2 208 1031 209.5 1030.9 211 1031 212.5 1031 214 1031 215.5 1030.9 217 1030.9 218.5 1031 220 1031.1 221.5 1031 223 1031 224.5 1031.1 226 1031 227.5 1031 229 1031.1 230.5 1031.1 232 1031.1 233.5 1031 235 1030.8 236.5 1030.9 238 1031 239.5 1031 241 1031.1 242.5 1031.3 244 1031.3 245.5 1031.2 247 1031.1 248.5 1030.8 250 1030.8 251.5 1031 253 1031 254.5 1031.1 256 1031.1 257.5 1031 259 1031.1 260.5 1031 262 1030.9 263.5 1031 265 1031.1 266.5 1031.1 268 1031 269.5 1030.9 271 1031 272.5 1031 274 1031.2 275.5 1031.1 277 1031 278.5 1031 280 1031 281.5 1030.9 283 1031 284.5 1031.2 286 1031.2 287.5 1031 289 1030.9 290.5 1030.9 292 1030.9 293.5 1031 295 1031.1 296.5 1031 298 1030.9 299.5 1030.9 300 1031 301 1031 302.5 1031 304 1031 305.5 1031 307 1030.9 308.5 1030.8 310 1030.7 311.5 1030.7 313 1030.9 314.5 1030.9 316 1030.8 317.5 1030.6 319 1030.6 320.5 1030.6 322 1030.7 323.5 1030.6 325 1030.6 326.5 1030.8 328 1031 329.5 1031 331 1030.9 332.5 1030.7 334 1030.6 335.5 1030.6 337 1030.6 338.5 1030.5 340 1030.3 341.5 1030.4 343 1030.5 344.5 1030.5 346 1030.3 347.5 1030.2 349 1030.2 350.5 1030.2 352 1030.4 353.5 1030.4 355 1030.3 356.5 1030.1 358 1029.9 359.5 1029.9 361 1030.2 362.5 1030.3 364 1030 365.5 1029.9 367 1029.9 368.5 1029.6 370 1029.6 371.5 1029.8 373 1030 374.5 1030.3 376 1030.6 377.5 1030.7 379 1031 380 1031 380.5 1031.2 382 1030.9 383.5 1030.9 385 1031 386.5 1030.8 388 1030.7 389.5 1030.7 391 1030.7 392.5 1030.7 394 1030.9 395.5 1031.1 397 1031.1 398.5 1030.9 400 1030.7 401.5 1030.7 403 1030.8 404.5 1030.8 406 1030.7 407.5 1030.6 409 1030.6 410.5 1030.6 412 1030.6 413.5 1030.8 415 1030.9 416.5 1030.8 418 1030.6 419.5 1030.7 421 1030.8 422.5 1030.8 424 1030.7 425.5 1030.6 427 1030.7 428.5 1030.7 430 1030.5 431.5 1030.5 433 1030.5 434.5 1030.6 436 1030.7 437.5 1030.8 439 1030.8 440.5 1030.8 442 1030.7 443.5 1030.5 445 1030.4 446.5 1030.3 448 1030.4 449.5 1030.5 451 1030.4 452.5 1030.5 454 1030.5 455 1030.5 455.5 1030 457 1028.5 458.5 1030.1 460 1031 461.5 1030.9 463 1030.9 464.5 1031 466 1031.2 467.5 1031.2 469 1031.2 470.5 1031.2 472 1031 473.5 1031 475 1031 476.5 1031.1 478 1031.1 479.5 1031.1 481 1031.2 482.5 1031.2 484 1031.1 485.5 1030.9 487 1030.9 488.5 1031.1 490 1031.1 491.5 1030.9 493 1030.9 494.5 1030.9 496 1030.8 497.5 1030.9 499 1030.9 500.5 1031 502 1031.1 503.5 1031.1 505 1031.1 506.5 1031.1 508 1031 509.5 1031.1 511 1031.2 512.5 1031.1 514 1031.1 515.5 1031 517 1031 518.5 1031 520 1030.8 521.5 1030.8 523 1031 524.5 1030.9 526 1030.9 527.5 1031 529 1031 530.5 1031 532 1030.9 533.5 1030.9 535 1031 536.5 1031 538 1031 539.5 1031.1 541 1031.1 542.5 1031 544 1031 545.5 1030.9 547 1030.8 548.5 1030.8 550 1030.8 551.5 1030.9 553 1030.9 554.5 1031.1 556 1031.2 557.5 1031.1 559 1030.9 560.5 1030.9 562 1030.9 563.5 1031 565 1031.1 566.5 1031.1 568 1031.1 569.5 1031.1 571 1030.9 572.5 1030.7 574 1030.7 575.5 1030.8 577 1030.9 578.5 1031 580 1031.1 581.5 1031.1 583 1031.1 584.5 1031.1 586 1031.1 587.5 1031 589 1030.9 590.5 1030.9 592 1031.1 593.5 1031.1 595 1030.9 596.5 1030.9 598 1031 599.5 1030.9 601 1030.9 602.5 1031 604 1031.1 605.5 1031.1 607 1031 608.5 1030.9 610 1031 611.5 1031 613 1030.9 614.5 1030.9 616 1031.1 617.5 1031.2 619 1031.1 620.5 1031 622 1031.1 623.5 1031.1 625 1031 626.5 1031 628 1030.9 629.5 1030.9 631 1031 632.5 1031 634 1030.8 635.5 1030.7 637 1031 638.5 1031.1 640 1031.2 641.5 1031.2 643 1031 644.5 1031 646 1031.1 647.5 1031.2 649 1031.1 650.5 1030.9 652 1030.8 653.5 1030.8 655 1030.9 656.5 1031 658 1031 659.5 1030.9 661 1031 662.5 1031.1 664 1031.1 665.5 1031 667 1031 668.5 1031 670 1031.1 671.5 1031.1 673 1031.1 674.5 1031.1 676 1031.1 677.5 1031.2 679 1031.1 680.5 1031 682 1031 683.5 1030.9 685 1030.9 686.5 1031 688 1031.1 689.5 1031 691 1030.9 692.5 1030.9 694 1030.9 695.5 1031.1 697 1031 698.5 1030.9 700 1031 701.5 1030.7 703 1030.6 704.5 1030.7 706 1030.8 707.5 1030.5 709 1030.3 710.5 1030.3 712 1030.4 713.5 1030.4 715 1030.4 716.5 1030.5 718 1030.2 719.5 1029.7 721 1029.6 722.5 1029.6 724 1029.4 725.5 1029.2 727 1029.1 728.5 1029.3 730 1029.4 731 1029.5 731.5 1029.6 733 1029.6 734.5 1029.3 736 1029.2 737.5 1029.5 739 1029.5 740.5 1029.6 742 1029.8 743.5 1030 745 1030 746.5 1029.8 748 1029.8 749.5 1029.9 751 1029.9 752.5 1030 754 1029.9 755.5 1029.8 757 1029.8 758 1030 758.5 1028.6 760 1023.2 761.5 1016.8 763 1008.9 764 1007 764.5 1006.8 766 1015.7 767.5 1022.6 768 1024.8 769 1022.4 770.5 1021.5 772 1021 773.5 1018.4 775 1015.4 776.5 1013 778 1018 779.5 1021.9 781 1027 782.5 1026.2 784 1026.3 785.5 1025.6 786 1025 787 1024.5 788.5 1025.2 790 1025.7 791.5 1026 793 1026.5 794.5 1026.6 796 1027 797.5 1026.9 799 1026.6 800.5 1026.3 802 1025.5 803.5 1025 804 1025 805 1025.1 806.5 1024.8 808 1024.1 809.5 1023.4 811 1023.1 812.5 1022.4 813 1022 814 1020.2 815.5 1019.2 817 1018.1 818.5 1016.3 819 1015 820 1016.6 821.5 1020.7 822 1022 823 1020.9 824.5 1017.9 826 1014 827.5 1012 828.7 1011 829 1011.2 830.5 1017.1 831.9 1023.5 832 1018.5 833.5 958 834.2 929.6 835 951.4 836.5 982.7 836.6 986 838 970.4 839 966 839.5 970.1 841 980.4 842.5 991.5 843.6 997.7 844 986.2 845.5 929 847 882.7 848.5 950 849.5 990.7 850 987.3 851.5 979.4 853 974 854.5 981 856 986.8 857.5 993.2 857.7 997.7 859 979.4 860.5 962 862 940.2 862.4 934 863.5 959.7 865 983.8 866.5 1006.2 867 1009.4 868 1004.9 869.5 990.6 871 975.2 871.8 972 872.5 982.4 874 989.3 875.5 997.2 876.5 1004.7 877 1001.5 878.5 999.9 880 997.2 881.5 995.8 882.3 990.7 883 985.1 884.5 977.3 886 976.9 887 969.5 887.5 974.6 889 980.6 890.5 990.7 892 978 893.5 953.7 894 946 895 957.2 896.5 977.2 898 992.5 899.5 999.7 901 1016.5 902.5 966.2 903.5 934 904 944 905.5 997.2 905.8 1009.4 907 1002.5 908.5 993.7 910 985.7 911.5 976.9 913 967.3 914 957.8 914.5 967.3 916 981.5 917.5 997.7 919 998.8 920.5 994.8 922 991.1 923.5 988.6 924.6 990.7 925 994.9 926.5 991.8 928 986.7 929.3 974 929.5 975.7 931 976.1 932.5 978.3 934 981.2 935.5 982.5 936.3 981.3 937 982.8 938.5 986.1 940 986.5 941.5 988.6 943 992.7 943.4 990.7 944.5 986.7 946 978.2 947 974 947.5 977.9 949 983.3 950.5 988.4 952 999.3 952.8 1004.7 953.5 999.3 955 984.8 956.3 974 956.5 979.7 958 990.6 959.5 999.3 961 1004.7 962.5 992.8 964 980.5 964.5 974 965.5 985.7 967 992.4 968.5 997.8 969.2 1000 970 1000.7 971.5 1003.9 972.2 1004.3 973 1000.7 974.5 977.2 975.2 977.5 976 984.3 977.5 1000.6 978.2 1007.3 979 1007.6 980.5 1010.9 981.2 1013.3 982 1010.3 983.5 1005.4 984.2 1001.3 985 1001.1 986.4 996.9 986.5 999.3 988 1002.2 989.5 1005 990.1 1010.3 991 1006.6 992.5 1000.4 993.1 999.9 994 1002.8 995.5 1010.7 996.1 1014.8 997 1008.9 998.5 1002.9 999.1 1002.8 1000 1006.7 1001.5 1013.9 1003 1020.7 1003.6 1022.2 1004.5 1021.5 1006 1018.8 1007 1019 1007.5 1016.9 1009 1012.5 1010.3 1005.8 1010.5 1006.5 1012 1012.6 1013.3 1017.8 1013.5 1018.2 1015 1019.3 1016.5 1020.2 1018 1020.9 1019.3 1020.7 1019.5 1020.5 1021 1015.2 1022.2 1010.3 1022.5 1012.1 1024 1016.6 1024.5 1017.8 1025.5 1011.6 1026.7 1005.8 1027 1005.5 1028.5 1009.9 1030 1015.6 1030.4 1017.8 1031.5 1011.9 1032.7 1008.8 1033 1011.1 1034.5 1017.8 1034.9 1019.3 1036 1013.7 1036.5 1010.3 1037.5 1014.6 1039 1012.2 1039.4 1011.8 1040.5 1012.8 1042 1018.6 1043.1 1019.3 1043.5 1019.8 1045 1019 1046.5 1019.6 1048 1019.3 1049.5 1018.9 1051 1019.3 1052.5 1020.4 1054 1022.4 1055.1 1023.7 1055.5 1022.4 1057 1019.2 1058.5 1017.1 1059.6 1013.3 1060 1012.6 1061.5 1016.7 1062.5 1019.3 1063 1019 1064.5 1020.5 1066 1022.3 1067.5 1024.6 1067.8 1025.2 1069 1022.9 1070.5 1019.6 1071.5 1017.8 1072 1017.8 1073.5 1020.2 1074.5 1022.2 1075 1022.2 1076.5 1020.2 1078 1019.4 1079.5 1018.9 1080.4 1016.3 1081 1014.8 1082.5 1009.1 1084 1003.7 1084.2 1005.8 1085.5 1011.1 1087 1017.9 1087.9 1020.7 1088.5 1021.1 1090 1021.3 1091.5 1021.4 1092 1022.2 1093 1021.6 1094.5 1020.5 1096 1018.4 1097.5 1016.8 1099 1017.1 1099.1 1016.3 1100.5 1019.4 1102 1020.5 1103 1020.7 1103.5 1021.8 1105 1022.8 1106.5 1022.6 1108 1022.9 1109.5 1023.8 1109.6 1023.7 1111 1021.2 1112.5 1016.9 1114 1014.8 1115.5 1015.4 1117 1018 1118.5 1021.8 1118.7 1023.7 1120 1020 1121.5 1016.8 1122 1016.3 1123 1018.2 1124.5 1020.6 1126 1021.5 1126.2 1022.2 1127.5 1022.2 1128.8 1020.7 1129 1020.6 1130.5 1021.7 1131.4 1023.7 1132 1022.2 1133.5 1018.6 1135 1014.2 1135.1 1014.8 1136.5 1014.8 1138 1015.1 1138.8 1017.8 1139.5 1017.3 1141 1016.7 1141.1 1016.3 1142.5 1020.5 1144 1023.7 1145.5 1026.6 1145.6 1026.7 1147 1024 1148.5 1021.1 1149 1019.3 1150 1013.8 1151.5 1003.5 1152.6 1001.3 1153 1001.1 1154.5 1011.5 1155.3 1017.8 1156 1018 1157.5 1020.5 1159 1022.3 1159.8 1023.7 1160.5 1024.1 1162 1025.7 1163.5 1026.5 1164.3 1026.7 1165 1026.4 1166.5 1025.3 1168 1023.7 1169.5 1019.9 1171 1017.3 1171.7 1014.8 1172.5 1017.7 1174 1022.4 1174.7 1023.7 1175.5 1022.1 1177 1018.4 1178.5 1014.4 1179.9 1005.8 1180 1008.6 1181.5 1011.5 1183 1017.2 1183.7 1019.3 1184.5 1017.6 1186 1011.4 1187.5 1003.4 1188.1 1004.3 1189 1005.7 1190.5 1011.7 1191.9 1013.3 1192 1011.1 1193.5 1006.7 1194.1 1007.3 1195 1009.1 1196.5 1012.6 1198 1015.2 1198.6 1017.8 1199.5 1013.2 1200.1 1008.8 1201 1010.4 1202.5 1012.9 1204 1015.4 1204.6 1017.8 1205.5 1013.1 1207 1004.9 1208.5 995.5 1209.3 995.4 1210 1002.1 1211.5 1008.4 1213 1014.3 1213.5 1016.3 1214.5 1011 1216 999.9 1216.5 995.4 1217.5 996.5 1219 1003.6 1220.5 1010.1 1221.7 1014.8 1222 1012.2 1223.5 1008.6 1225 1002.6 1225.4 1001.3 1226.5 1011.5 1226.9 1014.8 1228 1005.6 1229.2 993.9 1229.5 994.8 1231 998.5 1232.5 1003.6 1233.7 1011.8 1234 1008.3 1235.5 993.3 1236.6 980.4 1237 983.4 1238.5 1006.1 1238.9 1014.8 1240 1011.8 1241.5 1008.1 1242.6 1008.8 1243 1005.6 1244.5 1001.9 1246 999.4 1246.3 998.4 1247.5 1001.4 1249 1001.9 1250.5 1003.6 1252 1005.9 1253 1011.8 1253.5 1006.2 1255 993.4 1256.5 979.7 1258 974.7 1258.7 971.5 1259.5 984.5 1261 1008.2 1261.3 1013.3 1262.5 1009.9 1264 1008 1265.5 1008.2 1267 1006.2 1268.5 1002.1 1270 1002.4 1270.6 1004.3 1271.5 1007.2 1273 1007.4 1274.4 1012 1274.5 1012.3 1276 1003.4 1277.5 995 1278.8 990.9 1279 996.1 1280.5 1007.2 1281.5 1015.9 1282 1012 1283.5 1000.5 1284 996.7 1285 999.3 1286.5 1008.4 1286.9 1010 1288 1006.8 1288.8 1000.5 1289.5 1007.4 1291 1010.9 1292.5 1013.2 1292.6 1012 1294 1008.2 1295.5 1002.4 1296.5 1000.5 1297 1003.1 1298.5 1011.2 1299.4 1013.9 1300 1011.5 1301.5 1009.5 1303 1008.2 1304.5 1005.7 1305.1 1002.4 1306 996.8 1307.5 986.4 1309 977.4 1310.5 986.3 1312 996.6 1312.8 1004.3 1313.5 1005.5 1315 1005.4 1316.5 1004.5 1317.6 1004.3 1318 1003.9 1319.5 995.1 1321 987.2 1321.4 985.1 1322.5 991 1324 997.4 1324.3 996.7 1325.5 998.3 1327 993.3 1328.2 985.1 1328.5 985.6 1330 994.8 1331.5 1003 1332 1002.4 1333 1000.8 1334.5 1000.6 1336 1001.7 1336.8 1002.4 1337.5 999.4 1339 997.8 1339.7 992.8 1340.5 990 1342 984.4 1343.5 982.9 1344.5 977.4 1345 980.4 1346.5 987.9 1348 999.6 1348.3 1004.3 1349.5 999.2 1351 988.1 1351.2 987 1352.5 988.9 1354 999.9 1354.1 1002.4 1355.5 987 1357 973.6 1358.5 987.7 1360 998.4 1361.5 1007.6 1361.8 1010.1 1363 998.5 1364.5 988.8 1366 975.1 1367.5 964 1369 974.5 1370.5 985.2 1371.4 992.8 1372 984.9 1373.5 962.4 1374.2 950.6 1375 965.2 1376.5 989.7 1377.5 1002.4 1378 1002.7 1379.5 989.8 1381 973.1 1381.3 974 1382.5 987.9 1384 989.9 1385 993.5 1385.5 984.7 1387 960.4 1387.4 959.5 1388.5 976.3 1389.8 991.1 1390 990.4 1391 952.2 1391.5 953.6 1393 969.1 1394.5 995.8 1394.7 1000.8 1396 981.9 1397.1 964.3 1397.5 963.8 1399 988.4 1399.5 996 1400.5 984.3 1402 969.2 1403.5 983.5 1404 986 1405 968.3 1405.6 959.5 1406.5 977.5 1408 1000.5 1408.1 1003.2 1409.5 990.4 1411 974 1412.5 986 1414 997.6 1414.1 996 1415.5 992.9 1417 994 1418.5 964.8 1420 939.6 1420.7 925.4 1421.5 943.6 1423 964.6 1423.9 981.4 1424.5 978.4 1426 976.9 1427.5 971.6 1429 940.4 1430.4 903.5 1430.5 907.1 1432 922.3 1432.2 925.4 1433.5 905.4 1434.3 892.6 1435 918.7 1436.5 960.2 1437.2 974 1438 971.9 1439.5 964.7 1440.5 959.5 1441 966.8 1442.5 978.6 1442.8 981.4 1444 962.9 1444.5 952.2 1445.5 971.6 1447 1003.2 1448.5 994.4 1450 988.7 1451.5 987.5 1453 980.5 1453.1 979 1454.5 985.8 1456 1000.3 1456.7 1005.7 1457.5 1005.1 1459 1007.6 1460.5 1007.4 1462 1007.6 1462.3 1008.1" stroke="#ff7f0e" stroke-width="2.08" fill="none" stroke-linejoin="round"/></g>
<path d="M116.50 1054.5v4.86M284.50 1054.5v4.86M453.50 1054.5v4.86M621.50 1054.5v4.86M789.50 1054.5v4.86M958.50 1054.5v4.86M1126.50 1054.5v4.86M1294.50 1054.5v4.86M116.5 1036.50h-4.86M116.5 972.50h-4.86M116.5 907.50h-4.86M116.5 843.50h-4.86M116.5 779.50h-4.86M116.5 715.50h-4.86M116.5 650.50h-4.86M116.5 586.50h-4.86" stroke="#000" stroke-width="1.11" fill="none"/>
<rect x="116.5" y="575.5" width="1345.80" height="479.00" fill="none" stroke="#000" stroke-width="1.11"/>
<text x="34.97" y="1043.90" font-size="23.33" textLength="70.28" lengthAdjust="spacingAndGlyphs" >0.000</text>
<text x="35.42" y="979.61" font-size="23.33" textLength="70.28" lengthAdjust="spacingAndGlyphs" >0.025</text>
<text x="34.97" y="915.33" font-size="23.33" textLength="70.28" lengthAdjust="spacingAndGlyphs" >0.050</text>
<text x="35.42" y="851.04" font-size="23.33" textLength="70.28" lengthAdjust="spacingAndGlyphs" >0.075</text>
<text x="34.97" y="786.76" font-size="23.33" textLength="70.28" lengthAdjust="spacingAndGlyphs" >0.100</text>
<text x="35.42" y="722.47" font-size="23.33" textLength="70.28" lengthAdjust="spacingAndGlyphs" >0.125</text>
<text x="34.97" y="658.19" font-size="23.33" textLength="70.28" lengthAdjust="spacingAndGlyphs" >0.150</text>
<text x="35.42" y="593.90" font-size="23.33" textLength="70.28" lengthAdjust="spacingAndGlyphs" >0.175</text>
<rect x="1048.3" y="584.60" width="404.8" height="80.00" rx="3.5" fill="#fff" fill-opacity="0.8" stroke="#cccccc" stroke-width="1.11"/>
<circle cx="1073.4" cy="599.20" r="2.78" fill="#1f77b4"/>
<path d="M1052.8 638.40H1092" stroke="#ff7f0e" stroke-width="2.08"/>
<text x="1105.83" y="605.90" font-size="19.45" textLength="99.54" lengthAdjust="spacingAndGlyphs" >Raw Data</text>
<text x="1105.83" y="632.80" font-size="19.45" textLength="271.53" lengthAdjust="spacingAndGlyphs" >Butterworth Filtered Data</text>
<text x="1106.02" y="653.80" font-size="19.45" textLength="339.58" lengthAdjust="spacingAndGlyphs" >(N=6, Tc=3.3333 min, Type: low)</text>
<text transform="translate(62.00,391.60) rotate(-90)" x="0" y="0" font-size="23.33" textLength="226.20" lengthAdjust="spacingAndGlyphs">Doppler Shift [Hz]</text>
<text transform="translate(24.90,919.62) rotate(-90)" x="0" y="0" font-size="23.33" textLength="209.56" lengthAdjust="spacingAndGlyphs">Peak Voltage [V]</text>
<text x="763.90" y="1157.80" font-size="23.33" textLength="49.51" lengthAdjust="spacingAndGlyphs" >UTC</text>
<text transform="translate(111.00,1079.00) rotate(-30)" x="-108.66" y="0" font-size="23.33" textLength="109.72" lengthAdjust="spacingAndGlyphs">10-04 00</text>
<text transform="translate(279.30,1079.00) rotate(-30)" x="-107.99" y="0" font-size="23.33" textLength="109.72" lengthAdjust="spacingAndGlyphs">10-04 03</text>
<text transform="translate(447.60,1079.00) rotate(-30)" x="-108.43" y="0" font-size="23.33" textLength="109.72" lengthAdjust="spacingAndGlyphs">10-04 06</text>
<text transform="translate(615.90,1079.00) rotate(-30)" x="-108.21" y="0" font-size="23.33" textLength="109.72" lengthAdjust="spacingAndGlyphs">10-04 09</text>
<text transform="translate(784.20,1079.00) rotate(-30)" x="-107.77" y="0" font-size="23.33" textLength="109.72" lengthAdjust="spacingAndGlyphs">10-04 12</text>
<text transform="translate(952.50,1079.00) rotate(-30)" x="-108.21" y="0" font-size="23.33" textLength="109.72" lengthAdjust="spacingAndGlyphs">10-04 15</text>
<text transform="translate(1120.80,1079.00) rotate(-30)" x="-108.21" y="0" font-size="23.33" textLength="109.72" lengthAdjust="spacingAndGlyphs">10-04 18</text>
<text transform="translate(1289.10,1079.00) rotate(-30)" x="-108.21" y="0" font-size="23.33" textLength="109.72" lengthAdjust="spacingAndGlyphs">10-04 21</text>
</g>
</svg>
</body></html>
